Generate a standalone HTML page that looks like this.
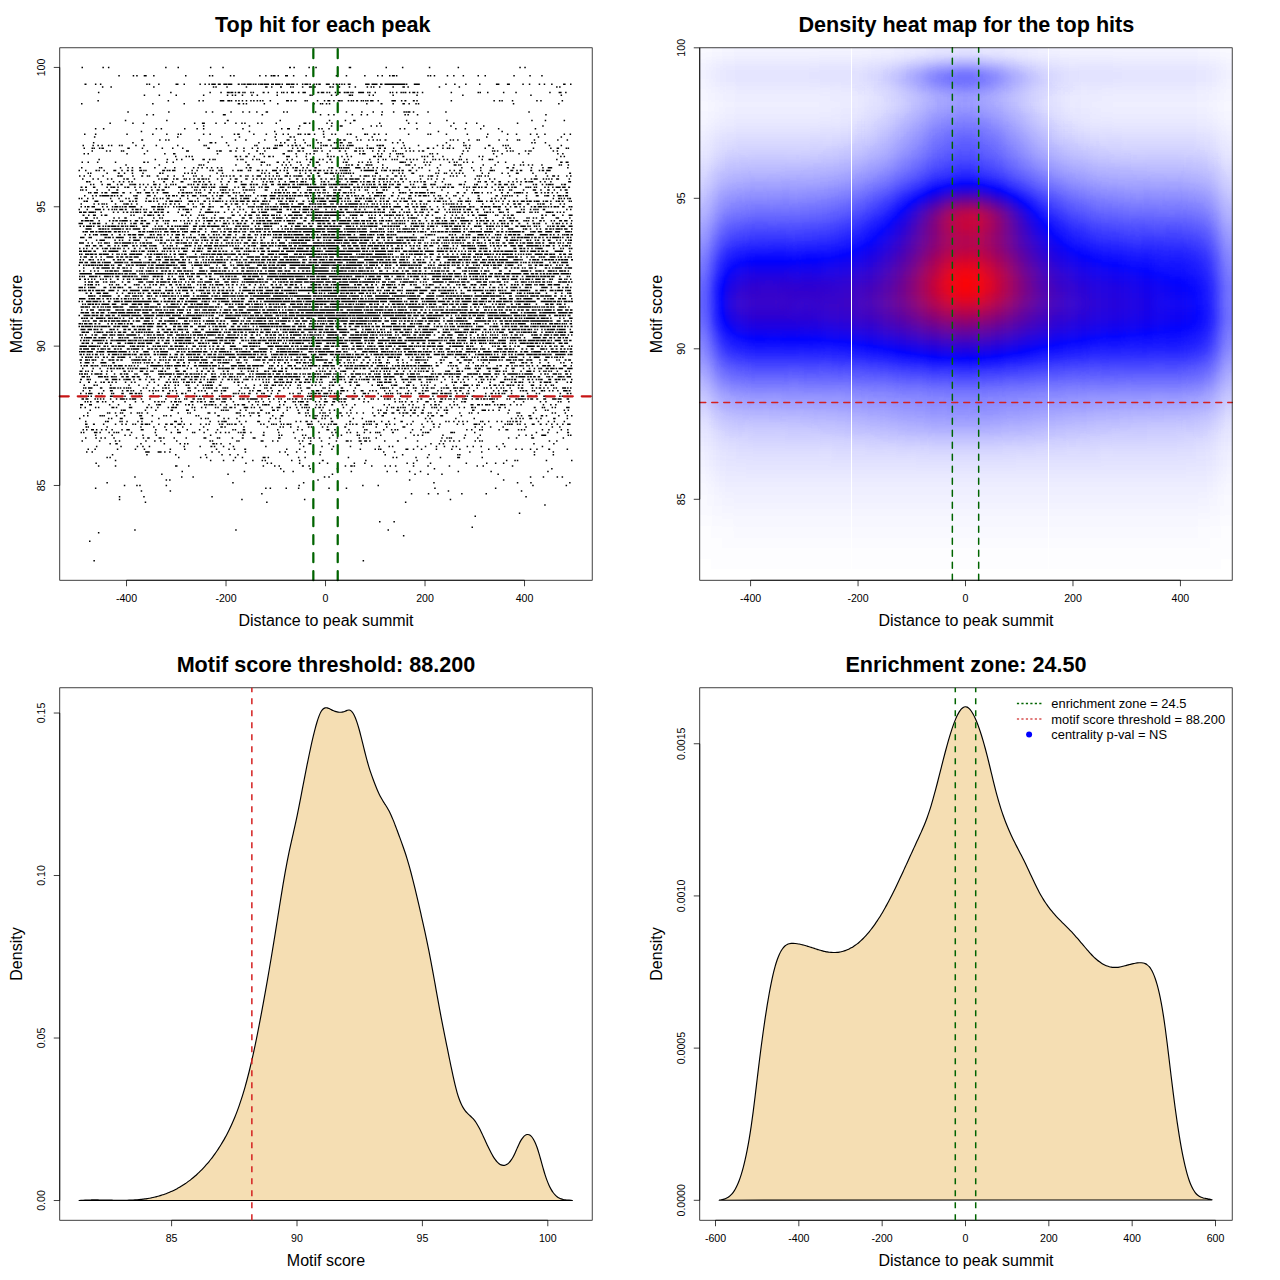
<!DOCTYPE html>
<html><head><meta charset="utf-8"><style>
html,body{margin:0;padding:0;background:#fff;width:1280px;height:1280px;overflow:hidden}
svg{display:block}
text{font-family:"Liberation Sans", sans-serif;fill:#000}
.tk{font-size:10.6px}
.lb{font-size:16px}
.tt{font-size:21.6px;font-weight:bold}
.lg{font-size:12.9px}
</style></head><body>
<svg width="1280" height="1280" viewBox="0 0 1280 1280">
<rect width="1280" height="1280" fill="#fff"/>
<defs><filter id="hm" filterUnits="userSpaceOnUse" x="639.76" y="-12.200000000000003" width="652.44" height="652.44" color-interpolation-filters="sRGB"><feGaussianBlur stdDeviation="6.0"/><feComponentTransfer><feFuncR type="table" tableValues="1 0 1"/><feFuncG type="table" tableValues="1 0 0"/><feFuncB type="table" tableValues="1 1 0"/><feFuncA type="identity"/></feComponentTransfer></filter>
<clipPath id="hc"><rect x="699.76" y="47.8" width="532.44" height="532.44"/></clipPath></defs><g clip-path="url(#hc)"><g filter="url(#hm)"><path fill="#000000" d="M667.8 558.9h42.6v10.9h-42.6zM1221.6 558.9h42.6v10.9h-42.6zM667.8 569.6h596.3v10.9h-596.3zM667.8 580.2h596.3v10.9h-596.3zM667.8 590.9h596.3v10.9h-596.3zM667.8 601.5h596.3v10.9h-596.3z"/><path fill="#010101" d="M667.8 527.0h42.6v10.9h-42.6zM1221.6 527.0h42.6v10.9h-42.6zM667.8 537.6h53.2v10.9h-53.2zM1210.9 537.6h53.2v10.9h-53.2zM667.8 548.3h596.3v10.9h-596.3zM710.4 558.9h511.1v10.9h-511.1z"/><path fill="#020202" d="M667.8 516.3h42.6v10.9h-42.6zM1221.6 516.3h42.6v10.9h-42.6zM710.4 527.0h21.3v10.9h-21.3zM1200.3 527.0h21.3v10.9h-21.3zM721.1 537.6h489.8v10.9h-489.8z"/><path fill="#030303" d="M667.8 15.9h42.6v10.9h-42.6zM1221.6 15.9h42.6v10.9h-42.6zM667.8 26.5h42.6v10.9h-42.6zM1221.6 26.5h42.6v10.9h-42.6zM667.8 37.2h42.6v10.9h-42.6zM1221.6 37.2h42.6v10.9h-42.6zM667.8 47.8h42.6v10.9h-42.6zM1221.6 47.8h42.6v10.9h-42.6zM667.8 495.0h42.6v10.9h-42.6zM1221.6 495.0h42.6v10.9h-42.6zM667.8 505.7h42.6v10.9h-42.6zM1221.6 505.7h42.6v10.9h-42.6zM710.4 516.3h21.3v10.9h-21.3zM1200.3 516.3h21.3v10.9h-21.3zM731.7 527.0h468.5v10.9h-468.5z"/><path fill="#040404" d="M710.4 15.9h10.6v10.9h-10.6zM1210.9 15.9h10.6v10.9h-10.6zM710.4 26.5h10.6v10.9h-10.6zM1210.9 26.5h10.6v10.9h-10.6zM710.4 37.2h10.6v10.9h-10.6zM1210.9 37.2h10.6v10.9h-10.6zM710.4 47.8h10.6v10.9h-10.6zM1210.9 47.8h10.6v10.9h-10.6zM667.8 101.0h42.6v10.9h-42.6zM1221.6 101.0h42.6v10.9h-42.6zM667.8 484.4h42.6v10.9h-42.6zM1221.6 484.4h42.6v10.9h-42.6zM710.4 505.7h10.6v10.9h-10.6zM1210.9 505.7h10.6v10.9h-10.6zM731.7 516.3h468.5v10.9h-468.5z"/><path fill="#050505" d="M721.1 15.9h10.6v10.9h-10.6zM1200.3 15.9h10.6v10.9h-10.6zM721.1 26.5h10.6v10.9h-10.6zM1200.3 26.5h10.6v10.9h-10.6zM721.1 37.2h10.6v10.9h-10.6zM1200.3 37.2h10.6v10.9h-10.6zM721.1 47.8h10.6v10.9h-10.6zM1200.3 47.8h10.6v10.9h-10.6zM667.8 90.4h42.6v10.9h-42.6zM1221.6 90.4h42.6v10.9h-42.6zM667.8 111.7h42.6v10.9h-42.6zM1221.6 111.7h42.6v10.9h-42.6zM667.8 473.8h42.6v10.9h-42.6zM1221.6 473.8h42.6v10.9h-42.6zM710.4 495.0h10.6v10.9h-10.6zM1210.9 495.0h10.6v10.9h-10.6zM721.1 505.7h489.8v10.9h-489.8z"/><path fill="#060606" d="M731.7 15.9h138.4v10.9h-138.4zM1061.8 15.9h138.4v10.9h-138.4zM731.7 26.5h138.4v10.9h-138.4zM1061.8 26.5h138.4v10.9h-138.4zM731.7 37.2h138.4v10.9h-138.4zM1061.8 37.2h138.4v10.9h-138.4zM731.7 47.8h138.4v10.9h-138.4zM1061.8 47.8h138.4v10.9h-138.4zM667.8 58.4h42.6v10.9h-42.6zM1221.6 58.4h42.6v10.9h-42.6zM667.8 79.7h42.6v10.9h-42.6zM1221.6 79.7h42.6v10.9h-42.6zM710.4 101.0h10.6v10.9h-10.6zM1210.9 101.0h10.6v10.9h-10.6zM667.8 463.1h42.6v10.9h-42.6zM1221.6 463.1h42.6v10.9h-42.6zM710.4 484.4h10.6v10.9h-10.6zM1210.9 484.4h10.6v10.9h-10.6zM721.1 495.0h10.6v10.9h-10.6zM1200.3 495.0h10.6v10.9h-10.6z"/><path fill="#070707" d="M870.1 15.9h21.3v10.9h-21.3zM1040.5 15.9h21.3v10.9h-21.3zM870.1 26.5h21.3v10.9h-21.3zM1040.5 26.5h21.3v10.9h-21.3zM870.1 37.2h21.3v10.9h-21.3zM1040.5 37.2h21.3v10.9h-21.3zM870.1 47.8h21.3v10.9h-21.3zM1040.5 47.8h21.3v10.9h-21.3zM667.8 69.1h42.6v10.9h-42.6zM1221.6 69.1h42.6v10.9h-42.6zM710.4 90.4h10.6v10.9h-10.6zM1210.9 90.4h10.6v10.9h-10.6zM721.1 101.0h10.6v10.9h-10.6zM1200.3 101.0h10.6v10.9h-10.6zM710.4 111.7h10.6v10.9h-10.6zM1210.9 111.7h10.6v10.9h-10.6zM667.8 122.3h42.6v10.9h-42.6zM1221.6 122.3h42.6v10.9h-42.6zM731.7 495.0h468.5v10.9h-468.5z"/><path fill="#080808" d="M891.4 15.9h10.6v10.9h-10.6zM1029.9 15.9h10.6v10.9h-10.6zM891.4 26.5h10.6v10.9h-10.6zM1029.9 26.5h10.6v10.9h-10.6zM891.4 37.2h10.6v10.9h-10.6zM1029.9 37.2h10.6v10.9h-10.6zM891.4 47.8h10.6v10.9h-10.6zM1029.9 47.8h10.6v10.9h-10.6zM721.1 90.4h10.6v10.9h-10.6zM1200.3 90.4h10.6v10.9h-10.6zM731.7 101.0h85.2v10.9h-85.2zM1115.1 101.0h85.2v10.9h-85.2zM667.8 452.5h42.6v10.9h-42.6zM1221.6 452.5h42.6v10.9h-42.6zM710.4 473.8h10.6v10.9h-10.6zM1210.9 473.8h10.6v10.9h-10.6zM721.1 484.4h489.8v10.9h-489.8z"/><path fill="#090909" d="M902.1 15.9h10.6v10.9h-10.6zM1019.2 15.9h10.6v10.9h-10.6zM902.1 26.5h10.6v10.9h-10.6zM1019.2 26.5h10.6v10.9h-10.6zM902.1 37.2h10.6v10.9h-10.6zM1019.2 37.2h10.6v10.9h-10.6zM902.1 47.8h10.6v10.9h-10.6zM1019.2 47.8h10.6v10.9h-10.6zM710.4 58.4h10.6v10.9h-10.6zM1210.9 58.4h10.6v10.9h-10.6zM710.4 79.7h10.6v10.9h-10.6zM1210.9 79.7h10.6v10.9h-10.6zM731.7 90.4h95.8v10.9h-95.8zM1104.4 90.4h95.8v10.9h-95.8zM816.9 101.0h21.3v10.9h-21.3zM1093.8 101.0h21.3v10.9h-21.3zM721.1 111.7h10.6v10.9h-10.6zM1200.3 111.7h10.6v10.9h-10.6zM667.8 133.0h42.6v10.9h-42.6zM1221.6 133.0h42.6v10.9h-42.6zM667.8 441.8h42.6v10.9h-42.6zM1221.6 441.8h42.6v10.9h-42.6z"/><path fill="#0a0a0a" d="M912.7 15.9h10.6v10.9h-10.6zM1008.6 15.9h10.6v10.9h-10.6zM912.7 26.5h10.6v10.9h-10.6zM1008.6 26.5h10.6v10.9h-10.6zM912.7 37.2h10.6v10.9h-10.6zM1008.6 37.2h10.6v10.9h-10.6zM912.7 47.8h10.6v10.9h-10.6zM1008.6 47.8h10.6v10.9h-10.6zM721.1 58.4h10.6v10.9h-10.6zM1200.3 58.4h10.6v10.9h-10.6zM827.5 90.4h21.3v10.9h-21.3zM1083.1 90.4h21.3v10.9h-21.3zM838.2 101.0h10.6v10.9h-10.6zM1083.1 101.0h10.6v10.9h-10.6zM731.7 111.7h95.8v10.9h-95.8zM1104.4 111.7h95.8v10.9h-95.8zM710.4 122.3h10.6v10.9h-10.6zM1210.9 122.3h10.6v10.9h-10.6zM710.4 463.1h10.6v10.9h-10.6zM1210.9 463.1h10.6v10.9h-10.6zM721.1 473.8h489.8v10.9h-489.8z"/><path fill="#0b0b0b" d="M923.4 15.9h10.6v10.9h-10.6zM987.3 15.9h21.3v10.9h-21.3zM923.4 26.5h10.6v10.9h-10.6zM987.3 26.5h21.3v10.9h-21.3zM923.4 37.2h10.6v10.9h-10.6zM987.3 37.2h21.3v10.9h-21.3zM923.4 47.8h10.6v10.9h-10.6zM987.3 47.8h21.3v10.9h-21.3zM731.7 58.4h85.2v10.9h-85.2zM1115.1 58.4h85.2v10.9h-85.2zM710.4 69.1h10.6v10.9h-10.6zM1210.9 69.1h10.6v10.9h-10.6zM721.1 79.7h10.6v10.9h-10.6zM1200.3 79.7h10.6v10.9h-10.6zM848.8 90.4h10.6v10.9h-10.6zM1072.5 90.4h10.6v10.9h-10.6zM848.8 101.0h10.6v10.9h-10.6zM1072.5 101.0h10.6v10.9h-10.6zM827.5 111.7h10.6v10.9h-10.6zM1093.8 111.7h10.6v10.9h-10.6zM667.8 143.6h42.6v10.9h-42.6zM1221.6 143.6h42.6v10.9h-42.6z"/><path fill="#0c0c0c" d="M934.0 15.9h21.3v10.9h-21.3zM976.6 15.9h10.6v10.9h-10.6zM934.0 26.5h21.3v10.9h-21.3zM976.6 26.5h10.6v10.9h-10.6zM934.0 37.2h21.3v10.9h-21.3zM976.6 37.2h10.6v10.9h-10.6zM934.0 47.8h21.3v10.9h-21.3zM976.6 47.8h10.6v10.9h-10.6zM816.9 58.4h42.6v10.9h-42.6zM1072.5 58.4h42.6v10.9h-42.6zM731.7 79.7h85.2v10.9h-85.2zM1115.1 79.7h85.2v10.9h-85.2zM1061.8 90.4h10.6v10.9h-10.6zM1061.8 101.0h10.6v10.9h-10.6zM838.2 111.7h10.6v10.9h-10.6zM1083.1 111.7h10.6v10.9h-10.6zM721.1 122.3h10.6v10.9h-10.6zM1200.3 122.3h10.6v10.9h-10.6zM667.8 431.2h42.6v10.9h-42.6zM1221.6 431.2h42.6v10.9h-42.6zM710.4 452.5h10.6v10.9h-10.6zM1210.9 452.5h10.6v10.9h-10.6zM721.1 463.1h21.3v10.9h-21.3zM1189.6 463.1h21.3v10.9h-21.3z"/><path fill="#0d0d0d" d="M955.3 15.9h21.3v10.9h-21.3zM955.3 26.5h21.3v10.9h-21.3zM955.3 37.2h21.3v10.9h-21.3zM955.3 47.8h21.3v10.9h-21.3zM859.5 58.4h10.6v10.9h-10.6zM1061.8 58.4h10.6v10.9h-10.6zM721.1 69.1h10.6v10.9h-10.6zM1200.3 69.1h10.6v10.9h-10.6zM816.9 79.7h21.3v10.9h-21.3zM1083.1 79.7h31.9v10.9h-31.9zM859.5 90.4h10.6v10.9h-10.6zM859.5 101.0h10.6v10.9h-10.6zM848.8 111.7h10.6v10.9h-10.6zM1072.5 111.7h10.6v10.9h-10.6zM731.7 122.3h85.2v10.9h-85.2zM1115.1 122.3h85.2v10.9h-85.2zM710.4 133.0h10.6v10.9h-10.6zM1210.9 133.0h10.6v10.9h-10.6zM742.4 463.1h447.2v10.9h-447.2z"/><path fill="#0e0e0e" d="M1051.2 58.4h10.6v10.9h-10.6zM731.7 69.1h74.5v10.9h-74.5zM1125.7 69.1h74.5v10.9h-74.5zM838.2 79.7h10.6v10.9h-10.6zM1072.5 79.7h10.6v10.9h-10.6zM816.9 122.3h21.3v10.9h-21.3zM1093.8 122.3h21.3v10.9h-21.3zM667.8 154.3h42.6v10.9h-42.6zM1221.6 154.3h42.6v10.9h-42.6zM667.8 420.5h42.6v10.9h-42.6zM1221.6 420.5h42.6v10.9h-42.6zM710.4 441.8h10.6v10.9h-10.6zM1210.9 441.8h10.6v10.9h-10.6zM721.1 452.5h10.6v10.9h-10.6zM1200.3 452.5h10.6v10.9h-10.6z"/><path fill="#0f0f0f" d="M870.1 58.4h10.6v10.9h-10.6zM806.2 69.1h42.6v10.9h-42.6zM1083.1 69.1h42.6v10.9h-42.6zM848.8 79.7h10.6v10.9h-10.6zM870.1 90.4h10.6v10.9h-10.6zM1051.2 90.4h10.6v10.9h-10.6zM870.1 101.0h10.6v10.9h-10.6zM1051.2 101.0h10.6v10.9h-10.6zM1061.8 111.7h10.6v10.9h-10.6zM838.2 122.3h10.6v10.9h-10.6zM1083.1 122.3h10.6v10.9h-10.6zM731.7 452.5h95.8v10.9h-95.8zM1104.4 452.5h95.8v10.9h-95.8z"/><path fill="#101010" d="M1040.5 58.4h10.6v10.9h-10.6zM848.8 69.1h10.6v10.9h-10.6zM1072.5 69.1h10.6v10.9h-10.6zM859.5 79.7h10.6v10.9h-10.6zM1061.8 79.7h10.6v10.9h-10.6zM859.5 111.7h10.6v10.9h-10.6zM721.1 133.0h10.6v10.9h-10.6zM1200.3 133.0h10.6v10.9h-10.6zM827.5 452.5h85.2v10.9h-85.2zM1019.2 452.5h85.2v10.9h-85.2z"/><path fill="#111111" d="M880.8 58.4h10.6v10.9h-10.6zM1061.8 69.1h10.6v10.9h-10.6zM848.8 122.3h10.6v10.9h-10.6zM1072.5 122.3h10.6v10.9h-10.6zM731.7 133.0h74.5v10.9h-74.5zM1125.7 133.0h74.5v10.9h-74.5zM710.4 143.6h10.6v10.9h-10.6zM1210.9 143.6h10.6v10.9h-10.6zM710.4 431.2h10.6v10.9h-10.6zM1210.9 431.2h10.6v10.9h-10.6zM721.1 441.8h10.6v10.9h-10.6zM1200.3 441.8h10.6v10.9h-10.6zM912.7 452.5h106.5v10.9h-106.5z"/><path fill="#121212" d="M1029.9 58.4h10.6v10.9h-10.6zM859.5 69.1h10.6v10.9h-10.6zM1051.2 79.7h10.6v10.9h-10.6zM880.8 90.4h10.6v10.9h-10.6zM1040.5 90.4h10.6v10.9h-10.6zM1040.5 101.0h10.6v10.9h-10.6zM1051.2 111.7h10.6v10.9h-10.6zM806.2 133.0h21.3v10.9h-21.3zM1104.4 133.0h21.3v10.9h-21.3zM667.8 164.9h42.6v10.9h-42.6zM1221.6 164.9h42.6v10.9h-42.6zM667.8 409.9h42.6v10.9h-42.6zM1221.6 409.9h42.6v10.9h-42.6zM731.7 441.8h21.3v10.9h-21.3zM1179.0 441.8h21.3v10.9h-21.3z"/><path fill="#131313" d="M891.4 58.4h10.6v10.9h-10.6zM870.1 79.7h10.6v10.9h-10.6zM880.8 101.0h10.6v10.9h-10.6zM870.1 111.7h10.6v10.9h-10.6zM1061.8 122.3h10.6v10.9h-10.6zM827.5 133.0h10.6v10.9h-10.6zM1093.8 133.0h10.6v10.9h-10.6zM753.0 441.8h74.5v10.9h-74.5zM1104.4 441.8h74.5v10.9h-74.5z"/><path fill="#141414" d="M1051.2 69.1h10.6v10.9h-10.6zM859.5 122.3h10.6v10.9h-10.6zM838.2 133.0h10.6v10.9h-10.6zM1083.1 133.0h10.6v10.9h-10.6zM721.1 143.6h10.6v10.9h-10.6zM1200.3 143.6h10.6v10.9h-10.6zM827.5 441.8h31.9v10.9h-31.9zM1072.5 441.8h31.9v10.9h-31.9z"/><path fill="#151515" d="M1019.2 58.4h10.6v10.9h-10.6zM870.1 69.1h10.6v10.9h-10.6zM1029.9 90.4h10.6v10.9h-10.6zM710.4 154.3h10.6v10.9h-10.6zM1210.9 154.3h10.6v10.9h-10.6zM710.4 420.5h10.6v10.9h-10.6zM1210.9 420.5h10.6v10.9h-10.6zM721.1 431.2h10.6v10.9h-10.6zM1200.3 431.2h10.6v10.9h-10.6zM859.5 441.8h31.9v10.9h-31.9zM1040.5 441.8h31.9v10.9h-31.9z"/><path fill="#161616" d="M1040.5 79.7h10.6v10.9h-10.6zM891.4 90.4h10.6v10.9h-10.6zM1040.5 111.7h10.6v10.9h-10.6zM848.8 133.0h10.6v10.9h-10.6zM1072.5 133.0h10.6v10.9h-10.6zM731.7 143.6h74.5v10.9h-74.5zM1125.7 143.6h74.5v10.9h-74.5zM667.8 175.6h42.6v10.9h-42.6zM1221.6 175.6h42.6v10.9h-42.6zM731.7 431.2h10.6v10.9h-10.6zM1189.6 431.2h10.6v10.9h-10.6zM891.4 441.8h31.9v10.9h-31.9zM1008.6 441.8h31.9v10.9h-31.9z"/><path fill="#171717" d="M902.1 58.4h10.6v10.9h-10.6zM1040.5 69.1h10.6v10.9h-10.6zM880.8 79.7h10.6v10.9h-10.6zM891.4 101.0h10.6v10.9h-10.6zM1029.9 101.0h10.6v10.9h-10.6zM880.8 111.7h10.6v10.9h-10.6zM870.1 122.3h10.6v10.9h-10.6zM1051.2 122.3h10.6v10.9h-10.6zM806.2 143.6h21.3v10.9h-21.3zM1104.4 143.6h21.3v10.9h-21.3zM667.8 399.2h42.6v10.9h-42.6zM1221.6 399.2h42.6v10.9h-42.6zM742.4 431.2h42.6v10.9h-42.6zM1147.0 431.2h42.6v10.9h-42.6zM923.4 441.8h85.2v10.9h-85.2z"/><path fill="#181818" d="M1061.8 133.0h10.6v10.9h-10.6zM827.5 143.6h10.6v10.9h-10.6zM1093.8 143.6h10.6v10.9h-10.6zM785.0 431.2h31.9v10.9h-31.9zM1115.1 431.2h31.9v10.9h-31.9z"/><path fill="#191919" d="M1008.6 58.4h10.6v10.9h-10.6zM880.8 69.1h10.6v10.9h-10.6zM859.5 133.0h10.6v10.9h-10.6zM816.9 431.2h21.3v10.9h-21.3zM1093.8 431.2h21.3v10.9h-21.3z"/><path fill="#1a1a1a" d="M1019.2 90.4h10.6v10.9h-10.6zM838.2 143.6h10.6v10.9h-10.6zM1083.1 143.6h10.6v10.9h-10.6zM721.1 154.3h10.6v10.9h-10.6zM1200.3 154.3h10.6v10.9h-10.6zM721.1 420.5h10.6v10.9h-10.6zM1200.3 420.5h10.6v10.9h-10.6zM838.2 431.2h10.6v10.9h-10.6zM1072.5 431.2h21.3v10.9h-21.3z"/><path fill="#1b1b1b" d="M912.7 58.4h10.6v10.9h-10.6zM1029.9 79.7h10.6v10.9h-10.6zM902.1 90.4h10.6v10.9h-10.6zM731.7 154.3h10.6v10.9h-10.6zM1189.6 154.3h10.6v10.9h-10.6zM710.4 164.9h10.6v10.9h-10.6zM1210.9 164.9h10.6v10.9h-10.6zM667.8 186.2h42.6v10.9h-42.6zM1221.6 186.2h42.6v10.9h-42.6zM710.4 409.9h10.6v10.9h-10.6zM1210.9 409.9h10.6v10.9h-10.6zM848.8 431.2h21.3v10.9h-21.3zM1061.8 431.2h10.6v10.9h-10.6z"/><path fill="#1c1c1c" d="M1029.9 69.1h10.6v10.9h-10.6zM902.1 101.0h10.6v10.9h-10.6zM1019.2 101.0h10.6v10.9h-10.6zM891.4 111.7h10.6v10.9h-10.6zM1029.9 111.7h10.6v10.9h-10.6zM880.8 122.3h10.6v10.9h-10.6zM1040.5 122.3h10.6v10.9h-10.6zM1051.2 133.0h10.6v10.9h-10.6zM848.8 143.6h10.6v10.9h-10.6zM1072.5 143.6h10.6v10.9h-10.6zM742.4 154.3h53.2v10.9h-53.2zM1136.4 154.3h53.2v10.9h-53.2zM731.7 420.5h21.3v10.9h-21.3zM1179.0 420.5h21.3v10.9h-21.3zM870.1 431.2h10.6v10.9h-10.6zM1051.2 431.2h10.6v10.9h-10.6z"/><path fill="#1d1d1d" d="M997.9 58.4h10.6v10.9h-10.6zM891.4 79.7h10.6v10.9h-10.6zM870.1 133.0h10.6v10.9h-10.6zM795.6 154.3h21.3v10.9h-21.3zM1115.1 154.3h21.3v10.9h-21.3zM667.8 388.6h42.6v10.9h-42.6zM1221.6 388.6h42.6v10.9h-42.6zM753.0 420.5h31.9v10.9h-31.9zM1147.0 420.5h31.9v10.9h-31.9zM880.8 431.2h10.6v10.9h-10.6zM1040.5 431.2h10.6v10.9h-10.6z"/><path fill="#1e1e1e" d="M816.9 154.3h10.6v10.9h-10.6zM1104.4 154.3h10.6v10.9h-10.6zM785.0 420.5h21.3v10.9h-21.3zM1125.7 420.5h21.3v10.9h-21.3zM891.4 431.2h10.6v10.9h-10.6zM1029.9 431.2h10.6v10.9h-10.6z"/><path fill="#1f1f1f" d="M923.4 58.4h10.6v10.9h-10.6zM859.5 143.6h10.6v10.9h-10.6zM1061.8 143.6h10.6v10.9h-10.6zM827.5 154.3h10.6v10.9h-10.6zM1093.8 154.3h10.6v10.9h-10.6zM806.2 420.5h21.3v10.9h-21.3zM1104.4 420.5h21.3v10.9h-21.3zM902.1 431.2h21.3v10.9h-21.3zM1008.6 431.2h21.3v10.9h-21.3z"/><path fill="#202020" d="M891.4 69.1h10.6v10.9h-10.6zM1008.6 90.4h10.6v10.9h-10.6zM721.1 164.9h10.6v10.9h-10.6zM1200.3 164.9h10.6v10.9h-10.6zM667.8 196.9h42.6v10.9h-42.6zM1221.6 196.9h42.6v10.9h-42.6zM827.5 420.5h10.6v10.9h-10.6zM1093.8 420.5h10.6v10.9h-10.6zM923.4 431.2h10.6v10.9h-10.6zM997.9 431.2h10.6v10.9h-10.6z"/><path fill="#212121" d="M987.3 58.4h10.6v10.9h-10.6zM912.7 90.4h10.6v10.9h-10.6zM1029.9 122.3h10.6v10.9h-10.6zM1040.5 133.0h10.6v10.9h-10.6zM838.2 154.3h10.6v10.9h-10.6zM1083.1 154.3h10.6v10.9h-10.6zM710.4 175.6h10.6v10.9h-10.6zM1210.9 175.6h10.6v10.9h-10.6zM721.1 409.9h10.6v10.9h-10.6zM1200.3 409.9h10.6v10.9h-10.6zM838.2 420.5h10.6v10.9h-10.6zM1083.1 420.5h10.6v10.9h-10.6zM934.0 431.2h63.9v10.9h-63.9z"/><path fill="#222222" d="M1019.2 79.7h10.6v10.9h-10.6zM912.7 101.0h10.6v10.9h-10.6zM1008.6 101.0h10.6v10.9h-10.6zM902.1 111.7h10.6v10.9h-10.6zM1019.2 111.7h10.6v10.9h-10.6zM891.4 122.3h10.6v10.9h-10.6zM880.8 133.0h10.6v10.9h-10.6zM731.7 164.9h10.6v10.9h-10.6zM1189.6 164.9h10.6v10.9h-10.6zM710.4 399.2h10.6v10.9h-10.6zM1210.9 399.2h10.6v10.9h-10.6zM848.8 420.5h10.6v10.9h-10.6zM1072.5 420.5h10.6v10.9h-10.6z"/><path fill="#232323" d="M934.0 58.4h10.6v10.9h-10.6zM870.1 143.6h10.6v10.9h-10.6zM1051.2 143.6h10.6v10.9h-10.6zM848.8 154.3h10.6v10.9h-10.6zM1072.5 154.3h10.6v10.9h-10.6zM742.4 164.9h42.6v10.9h-42.6zM1147.0 164.9h42.6v10.9h-42.6zM667.8 377.9h42.6v10.9h-42.6zM1221.6 377.9h42.6v10.9h-42.6zM731.7 409.9h10.6v10.9h-10.6zM1189.6 409.9h10.6v10.9h-10.6zM859.5 420.5h10.6v10.9h-10.6zM1061.8 420.5h10.6v10.9h-10.6z"/><path fill="#242424" d="M1019.2 69.1h10.6v10.9h-10.6zM785.0 164.9h21.3v10.9h-21.3zM1125.7 164.9h21.3v10.9h-21.3zM742.4 409.9h31.9v10.9h-31.9zM1157.7 409.9h31.9v10.9h-31.9zM1051.2 420.5h10.6v10.9h-10.6z"/><path fill="#252525" d="M976.6 58.4h10.6v10.9h-10.6zM902.1 79.7h10.6v10.9h-10.6zM997.9 90.4h10.6v10.9h-10.6zM806.2 164.9h10.6v10.9h-10.6zM1115.1 164.9h10.6v10.9h-10.6zM667.8 207.5h42.6v10.9h-42.6zM1221.6 207.5h42.6v10.9h-42.6zM774.3 409.9h31.9v10.9h-31.9zM1125.7 409.9h31.9v10.9h-31.9zM870.1 420.5h10.6v10.9h-10.6z"/><path fill="#262626" d="M944.7 58.4h10.6v10.9h-10.6zM923.4 90.4h10.6v10.9h-10.6zM859.5 154.3h10.6v10.9h-10.6zM1061.8 154.3h10.6v10.9h-10.6zM816.9 164.9h10.6v10.9h-10.6zM1104.4 164.9h10.6v10.9h-10.6zM806.2 409.9h10.6v10.9h-10.6zM1115.1 409.9h10.6v10.9h-10.6zM880.8 420.5h10.6v10.9h-10.6zM1040.5 420.5h10.6v10.9h-10.6z"/><path fill="#272727" d="M966.0 58.4h10.6v10.9h-10.6zM997.9 101.0h10.6v10.9h-10.6zM1029.9 133.0h10.6v10.9h-10.6zM827.5 164.9h10.6v10.9h-10.6zM1093.8 164.9h10.6v10.9h-10.6zM721.1 175.6h10.6v10.9h-10.6zM1200.3 175.6h10.6v10.9h-10.6zM1210.9 186.2h10.6v10.9h-10.6zM816.9 409.9h10.6v10.9h-10.6zM1104.4 409.9h10.6v10.9h-10.6zM891.4 420.5h10.6v10.9h-10.6zM1029.9 420.5h10.6v10.9h-10.6z"/><path fill="#282828" d="M955.3 58.4h10.6v10.9h-10.6zM902.1 69.1h10.6v10.9h-10.6zM923.4 101.0h10.6v10.9h-10.6zM1019.2 122.3h10.6v10.9h-10.6zM891.4 133.0h10.6v10.9h-10.6zM880.8 143.6h10.6v10.9h-10.6zM1040.5 143.6h10.6v10.9h-10.6zM710.4 186.2h10.6v10.9h-10.6zM827.5 409.9h10.6v10.9h-10.6zM1093.8 409.9h10.6v10.9h-10.6zM902.1 420.5h10.6v10.9h-10.6zM1019.2 420.5h10.6v10.9h-10.6z"/><path fill="#292929" d="M912.7 111.7h10.6v10.9h-10.6zM1008.6 111.7h10.6v10.9h-10.6zM902.1 122.3h10.6v10.9h-10.6zM838.2 164.9h10.6v10.9h-10.6zM1083.1 164.9h10.6v10.9h-10.6zM721.1 399.2h10.6v10.9h-10.6zM1200.3 399.2h10.6v10.9h-10.6zM838.2 409.9h10.6v10.9h-10.6zM1083.1 409.9h10.6v10.9h-10.6zM1008.6 420.5h10.6v10.9h-10.6z"/><path fill="#2a2a2a" d="M1008.6 79.7h10.6v10.9h-10.6zM987.3 90.4h10.6v10.9h-10.6zM1051.2 154.3h10.6v10.9h-10.6zM731.7 175.6h10.6v10.9h-10.6zM1189.6 175.6h10.6v10.9h-10.6zM1221.6 218.2h42.6v10.9h-42.6zM1221.6 367.3h42.6v10.9h-42.6zM848.8 409.9h10.6v10.9h-10.6zM1072.5 409.9h10.6v10.9h-10.6zM912.7 420.5h10.6v10.9h-10.6zM997.9 420.5h10.6v10.9h-10.6z"/><path fill="#2b2b2b" d="M934.0 90.4h10.6v10.9h-10.6zM870.1 154.3h10.6v10.9h-10.6zM742.4 175.6h31.9v10.9h-31.9zM1157.7 175.6h31.9v10.9h-31.9zM667.8 218.2h42.6v10.9h-42.6zM667.8 367.3h42.6v10.9h-42.6zM710.4 388.6h10.6v10.9h-10.6zM1210.9 388.6h10.6v10.9h-10.6zM859.5 409.9h10.6v10.9h-10.6zM1061.8 409.9h10.6v10.9h-10.6zM923.4 420.5h21.3v10.9h-21.3zM987.3 420.5h10.6v10.9h-10.6z"/><path fill="#2c2c2c" d="M1008.6 69.1h10.6v10.9h-10.6zM987.3 101.0h10.6v10.9h-10.6zM848.8 164.9h10.6v10.9h-10.6zM1072.5 164.9h10.6v10.9h-10.6zM774.3 175.6h31.9v10.9h-31.9zM1125.7 175.6h31.9v10.9h-31.9zM731.7 399.2h10.6v10.9h-10.6zM1189.6 399.2h10.6v10.9h-10.6zM870.1 409.9h10.6v10.9h-10.6zM1051.2 409.9h10.6v10.9h-10.6zM944.7 420.5h42.6v10.9h-42.6z"/><path fill="#2d2d2d" d="M912.7 79.7h10.6v10.9h-10.6zM934.0 101.0h10.6v10.9h-10.6zM806.2 175.6h10.6v10.9h-10.6zM1115.1 175.6h10.6v10.9h-10.6zM742.4 399.2h31.9v10.9h-31.9zM1157.7 399.2h31.9v10.9h-31.9z"/><path fill="#2e2e2e" d="M1029.9 143.6h10.6v10.9h-10.6zM1104.4 175.6h10.6v10.9h-10.6zM774.3 399.2h31.9v10.9h-31.9zM1125.7 399.2h31.9v10.9h-31.9zM880.8 409.9h10.6v10.9h-10.6zM1040.5 409.9h10.6v10.9h-10.6z"/><path fill="#2f2f2f" d="M944.7 90.4h10.6v10.9h-10.6zM976.6 90.4h10.6v10.9h-10.6zM997.9 111.7h10.6v10.9h-10.6zM902.1 133.0h10.6v10.9h-10.6zM1019.2 133.0h10.6v10.9h-10.6zM891.4 143.6h10.6v10.9h-10.6zM1061.8 164.9h10.6v10.9h-10.6zM816.9 175.6h10.6v10.9h-10.6zM710.4 196.9h10.6v10.9h-10.6zM1210.9 196.9h10.6v10.9h-10.6zM806.2 399.2h21.3v10.9h-21.3zM1104.4 399.2h21.3v10.9h-21.3zM891.4 409.9h10.6v10.9h-10.6zM1029.9 409.9h10.6v10.9h-10.6z"/><path fill="#303030" d="M976.6 101.0h10.6v10.9h-10.6zM923.4 111.7h10.6v10.9h-10.6zM1008.6 122.3h10.6v10.9h-10.6zM880.8 154.3h10.6v10.9h-10.6zM1040.5 154.3h10.6v10.9h-10.6zM859.5 164.9h10.6v10.9h-10.6zM827.5 175.6h10.6v10.9h-10.6zM1093.8 175.6h10.6v10.9h-10.6zM721.1 186.2h10.6v10.9h-10.6zM1200.3 186.2h10.6v10.9h-10.6zM1221.6 228.8h42.6v10.9h-42.6zM827.5 399.2h10.6v10.9h-10.6zM1093.8 399.2h10.6v10.9h-10.6z"/><path fill="#313131" d="M912.7 69.1h10.6v10.9h-10.6zM955.3 90.4h21.3v10.9h-21.3zM944.7 101.0h10.6v10.9h-10.6zM912.7 122.3h10.6v10.9h-10.6zM667.8 228.8h42.6v10.9h-42.6zM1221.6 356.6h42.6v10.9h-42.6zM838.2 399.2h10.6v10.9h-10.6zM1083.1 399.2h10.6v10.9h-10.6zM902.1 409.9h10.6v10.9h-10.6zM1019.2 409.9h10.6v10.9h-10.6z"/><path fill="#323232" d="M997.9 79.7h10.6v10.9h-10.6zM667.8 356.6h42.6v10.9h-42.6zM848.8 399.2h10.6v10.9h-10.6zM1072.5 399.2h10.6v10.9h-10.6zM912.7 409.9h10.6v10.9h-10.6zM1008.6 409.9h10.6v10.9h-10.6z"/><path fill="#333333" d="M955.3 101.0h21.3v10.9h-21.3zM838.2 175.6h10.6v10.9h-10.6zM1083.1 175.6h10.6v10.9h-10.6zM731.7 186.2h10.6v10.9h-10.6zM1189.6 186.2h10.6v10.9h-10.6zM721.1 388.6h10.6v10.9h-10.6zM1200.3 388.6h10.6v10.9h-10.6zM859.5 399.2h10.6v10.9h-10.6zM1061.8 399.2h10.6v10.9h-10.6zM923.4 409.9h10.6v10.9h-10.6zM997.9 409.9h10.6v10.9h-10.6z"/><path fill="#343434" d="M870.1 164.9h10.6v10.9h-10.6zM1051.2 164.9h10.6v10.9h-10.6zM742.4 186.2h31.9v10.9h-31.9zM1157.7 186.2h31.9v10.9h-31.9zM710.4 377.9h10.6v10.9h-10.6zM1210.9 377.9h10.6v10.9h-10.6zM870.1 399.2h10.6v10.9h-10.6zM1051.2 399.2h10.6v10.9h-10.6zM934.0 409.9h10.6v10.9h-10.6zM976.6 409.9h21.3v10.9h-21.3z"/><path fill="#353535" d="M987.3 111.7h10.6v10.9h-10.6zM774.3 186.2h21.3v10.9h-21.3zM1136.4 186.2h21.3v10.9h-21.3zM1221.6 239.5h42.6v10.9h-42.6zM880.8 399.2h10.6v10.9h-10.6zM1040.5 399.2h10.6v10.9h-10.6zM944.7 409.9h31.9v10.9h-31.9z"/><path fill="#363636" d="M997.9 69.1h10.6v10.9h-10.6zM923.4 79.7h10.6v10.9h-10.6zM934.0 111.7h10.6v10.9h-10.6zM902.1 143.6h10.6v10.9h-10.6zM1019.2 143.6h10.6v10.9h-10.6zM1029.9 154.3h10.6v10.9h-10.6zM848.8 175.6h10.6v10.9h-10.6zM1072.5 175.6h10.6v10.9h-10.6zM795.6 186.2h10.6v10.9h-10.6zM1125.7 186.2h10.6v10.9h-10.6zM891.4 399.2h10.6v10.9h-10.6zM1029.9 399.2h10.6v10.9h-10.6z"/><path fill="#373737" d="M912.7 133.0h10.6v10.9h-10.6zM1008.6 133.0h10.6v10.9h-10.6zM891.4 154.3h10.6v10.9h-10.6zM806.2 186.2h10.6v10.9h-10.6zM1115.1 186.2h10.6v10.9h-10.6zM710.4 207.5h10.6v10.9h-10.6zM1210.9 207.5h10.6v10.9h-10.6zM667.8 239.5h42.6v10.9h-42.6zM731.7 388.6h10.6v10.9h-10.6zM1189.6 388.6h10.6v10.9h-10.6zM902.1 399.2h10.6v10.9h-10.6zM1019.2 399.2h10.6v10.9h-10.6z"/><path fill="#383838" d="M923.4 122.3h10.6v10.9h-10.6zM997.9 122.3h10.6v10.9h-10.6zM816.9 186.2h10.6v10.9h-10.6zM1104.4 186.2h10.6v10.9h-10.6zM1221.6 346.0h42.6v10.9h-42.6zM742.4 388.6h31.9v10.9h-31.9zM1157.7 388.6h31.9v10.9h-31.9zM912.7 399.2h10.6v10.9h-10.6zM1008.6 399.2h10.6v10.9h-10.6z"/><path fill="#393939" d="M721.1 196.9h10.6v10.9h-10.6zM1200.3 196.9h10.6v10.9h-10.6zM667.8 346.0h42.6v10.9h-42.6zM774.3 388.6h42.6v10.9h-42.6zM1115.1 388.6h42.6v10.9h-42.6zM923.4 399.2h10.6v10.9h-10.6zM997.9 399.2h10.6v10.9h-10.6z"/><path fill="#3a3a3a" d="M944.7 111.7h10.6v10.9h-10.6zM976.6 111.7h10.6v10.9h-10.6zM880.8 164.9h10.6v10.9h-10.6zM1040.5 164.9h10.6v10.9h-10.6zM859.5 175.6h10.6v10.9h-10.6zM1061.8 175.6h10.6v10.9h-10.6zM1093.8 186.2h10.6v10.9h-10.6zM1221.6 250.1h42.6v10.9h-42.6zM816.9 388.6h21.3v10.9h-21.3zM1093.8 388.6h21.3v10.9h-21.3zM934.0 399.2h10.6v10.9h-10.6zM987.3 399.2h10.6v10.9h-10.6z"/><path fill="#3b3b3b" d="M923.4 69.1h10.6v10.9h-10.6zM987.3 79.7h10.6v10.9h-10.6zM827.5 186.2h10.6v10.9h-10.6zM838.2 388.6h21.3v10.9h-21.3zM1072.5 388.6h21.3v10.9h-21.3zM944.7 399.2h42.6v10.9h-42.6z"/><path fill="#3c3c3c" d="M859.5 388.6h10.6v10.9h-10.6zM1061.8 388.6h10.6v10.9h-10.6z"/><path fill="#3d3d3d" d="M955.3 111.7h21.3v10.9h-21.3zM838.2 186.2h10.6v10.9h-10.6zM1083.1 186.2h10.6v10.9h-10.6zM731.7 196.9h10.6v10.9h-10.6zM1189.6 196.9h10.6v10.9h-10.6zM667.8 250.1h42.6v10.9h-42.6zM870.1 388.6h10.6v10.9h-10.6zM1051.2 388.6h10.6v10.9h-10.6z"/><path fill="#3e3e3e" d="M934.0 79.7h10.6v10.9h-10.6zM987.3 122.3h10.6v10.9h-10.6zM912.7 143.6h10.6v10.9h-10.6zM1008.6 143.6h10.6v10.9h-10.6zM1019.2 154.3h10.6v10.9h-10.6zM742.4 196.9h31.9v10.9h-31.9zM1157.7 196.9h31.9v10.9h-31.9zM1221.6 260.8h42.6v10.9h-42.6zM1221.6 335.3h42.6v10.9h-42.6zM880.8 388.6h10.6v10.9h-10.6zM1040.5 388.6h10.6v10.9h-10.6z"/><path fill="#3f3f3f" d="M987.3 69.1h10.6v10.9h-10.6zM934.0 122.3h10.6v10.9h-10.6zM923.4 133.0h10.6v10.9h-10.6zM997.9 133.0h10.6v10.9h-10.6zM902.1 154.3h10.6v10.9h-10.6zM1051.2 175.6h10.6v10.9h-10.6zM774.3 196.9h21.3v10.9h-21.3zM1136.4 196.9h21.3v10.9h-21.3zM710.4 218.2h10.6v10.9h-10.6zM1210.9 218.2h10.6v10.9h-10.6zM667.8 335.3h42.6v10.9h-42.6zM710.4 367.3h10.6v10.9h-10.6zM1210.9 367.3h10.6v10.9h-10.6zM721.1 377.9h10.6v10.9h-10.6zM1200.3 377.9h10.6v10.9h-10.6zM891.4 388.6h10.6v10.9h-10.6zM1029.9 388.6h10.6v10.9h-10.6z"/><path fill="#404040" d="M870.1 175.6h10.6v10.9h-10.6zM795.6 196.9h10.6v10.9h-10.6zM1125.7 196.9h10.6v10.9h-10.6zM902.1 388.6h10.6v10.9h-10.6zM1019.2 388.6h10.6v10.9h-10.6z"/><path fill="#414141" d="M891.4 164.9h10.6v10.9h-10.6zM1029.9 164.9h10.6v10.9h-10.6zM848.8 186.2h10.6v10.9h-10.6zM1072.5 186.2h10.6v10.9h-10.6zM806.2 196.9h10.6v10.9h-10.6zM1115.1 196.9h10.6v10.9h-10.6zM912.7 388.6h10.6v10.9h-10.6zM1008.6 388.6h10.6v10.9h-10.6z"/><path fill="#424242" d="M976.6 79.7h10.6v10.9h-10.6zM721.1 207.5h10.6v10.9h-10.6zM1200.3 207.5h10.6v10.9h-10.6zM1221.6 271.4h42.6v10.9h-42.6zM1221.6 324.7h42.6v10.9h-42.6zM923.4 388.6h21.3v10.9h-21.3zM987.3 388.6h21.3v10.9h-21.3z"/><path fill="#434343" d="M816.9 196.9h10.6v10.9h-10.6zM1104.4 196.9h10.6v10.9h-10.6zM667.8 260.8h42.6v10.9h-42.6zM944.7 388.6h42.6v10.9h-42.6z"/><path fill="#444444" d="M934.0 69.1h10.6v10.9h-10.6zM944.7 79.7h10.6v10.9h-10.6zM944.7 122.3h10.6v10.9h-10.6zM976.6 122.3h10.6v10.9h-10.6zM1221.6 282.1h42.6v10.9h-42.6zM731.7 377.9h10.6v10.9h-10.6zM1189.6 377.9h10.6v10.9h-10.6z"/><path fill="#454545" d="M827.5 196.9h10.6v10.9h-10.6zM1093.8 196.9h10.6v10.9h-10.6zM1221.6 292.7h42.6v10.9h-42.6zM1221.6 314.0h42.6v10.9h-42.6zM667.8 324.7h42.6v10.9h-42.6zM742.4 377.9h53.2v10.9h-53.2zM1125.7 377.9h63.9v10.9h-63.9z"/><path fill="#464646" d="M966.0 79.7h10.6v10.9h-10.6zM966.0 122.3h10.6v10.9h-10.6zM934.0 133.0h10.6v10.9h-10.6zM987.3 133.0h10.6v10.9h-10.6zM923.4 143.6h10.6v10.9h-10.6zM997.9 143.6h10.6v10.9h-10.6zM912.7 154.3h10.6v10.9h-10.6zM1008.6 154.3h10.6v10.9h-10.6zM880.8 175.6h10.6v10.9h-10.6zM1040.5 175.6h10.6v10.9h-10.6zM859.5 186.2h10.6v10.9h-10.6zM1061.8 186.2h10.6v10.9h-10.6zM1221.6 303.4h42.6v10.9h-42.6zM795.6 377.9h42.6v10.9h-42.6zM1093.8 377.9h31.9v10.9h-31.9z"/><path fill="#474747" d="M976.6 69.1h10.6v10.9h-10.6zM955.3 79.7h10.6v10.9h-10.6zM955.3 122.3h10.6v10.9h-10.6zM731.7 207.5h10.6v10.9h-10.6zM1189.6 207.5h10.6v10.9h-10.6zM1210.9 228.8h10.6v10.9h-10.6zM838.2 377.9h10.6v10.9h-10.6zM1072.5 377.9h21.3v10.9h-21.3z"/><path fill="#484848" d="M1019.2 164.9h10.6v10.9h-10.6zM742.4 207.5h10.6v10.9h-10.6zM1168.3 207.5h21.3v10.9h-21.3zM710.4 228.8h10.6v10.9h-10.6zM667.8 271.4h42.6v10.9h-42.6zM848.8 377.9h21.3v10.9h-21.3zM1061.8 377.9h10.6v10.9h-10.6z"/><path fill="#494949" d="M902.1 164.9h10.6v10.9h-10.6zM838.2 196.9h10.6v10.9h-10.6zM1083.1 196.9h10.6v10.9h-10.6zM753.0 207.5h31.9v10.9h-31.9zM1147.0 207.5h21.3v10.9h-21.3zM1210.9 356.6h10.6v10.9h-10.6zM870.1 377.9h10.6v10.9h-10.6zM1051.2 377.9h10.6v10.9h-10.6z"/><path fill="#4a4a4a" d="M944.7 69.1h10.6v10.9h-10.6zM785.0 207.5h10.6v10.9h-10.6zM1136.4 207.5h10.6v10.9h-10.6zM667.8 314.0h42.6v10.9h-42.6zM710.4 356.6h10.6v10.9h-10.6zM880.8 377.9h10.6v10.9h-10.6zM1040.5 377.9h10.6v10.9h-10.6z"/><path fill="#4b4b4b" d="M976.6 133.0h10.6v10.9h-10.6zM795.6 207.5h10.6v10.9h-10.6zM1125.7 207.5h10.6v10.9h-10.6zM667.8 282.1h42.6v10.9h-42.6zM1029.9 377.9h10.6v10.9h-10.6z"/><path fill="#4c4c4c" d="M966.0 69.1h10.6v10.9h-10.6zM944.7 133.0h10.6v10.9h-10.6zM1051.2 186.2h10.6v10.9h-10.6zM806.2 207.5h10.6v10.9h-10.6zM1115.1 207.5h10.6v10.9h-10.6zM1200.3 218.2h10.6v10.9h-10.6zM721.1 367.3h10.6v10.9h-10.6zM1200.3 367.3h10.6v10.9h-10.6zM891.4 377.9h10.6v10.9h-10.6z"/><path fill="#4d4d4d" d="M955.3 69.1h10.6v10.9h-10.6zM934.0 143.6h10.6v10.9h-10.6zM987.3 143.6h10.6v10.9h-10.6zM870.1 186.2h10.6v10.9h-10.6zM848.8 196.9h10.6v10.9h-10.6zM1072.5 196.9h10.6v10.9h-10.6zM721.1 218.2h10.6v10.9h-10.6zM667.8 292.7h42.6v10.9h-42.6zM667.8 303.4h42.6v10.9h-42.6zM902.1 377.9h10.6v10.9h-10.6zM1019.2 377.9h10.6v10.9h-10.6z"/><path fill="#4e4e4e" d="M955.3 133.0h21.3v10.9h-21.3zM923.4 154.3h10.6v10.9h-10.6zM997.9 154.3h10.6v10.9h-10.6zM891.4 175.6h10.6v10.9h-10.6zM1029.9 175.6h10.6v10.9h-10.6zM816.9 207.5h10.6v10.9h-10.6zM1104.4 207.5h10.6v10.9h-10.6zM912.7 377.9h10.6v10.9h-10.6zM1008.6 377.9h10.6v10.9h-10.6z"/><path fill="#4f4f4f" d="M1210.9 239.5h10.6v10.9h-10.6zM923.4 377.9h10.6v10.9h-10.6zM997.9 377.9h10.6v10.9h-10.6z"/><path fill="#505050" d="M1008.6 164.9h10.6v10.9h-10.6zM1093.8 207.5h10.6v10.9h-10.6zM934.0 377.9h10.6v10.9h-10.6zM987.3 377.9h10.6v10.9h-10.6z"/><path fill="#515151" d="M912.7 164.9h10.6v10.9h-10.6zM827.5 207.5h10.6v10.9h-10.6zM1189.6 218.2h10.6v10.9h-10.6zM710.4 239.5h10.6v10.9h-10.6zM731.7 367.3h10.6v10.9h-10.6zM1189.6 367.3h10.6v10.9h-10.6zM944.7 377.9h42.6v10.9h-42.6z"/><path fill="#525252" d="M944.7 143.6h10.6v10.9h-10.6zM976.6 143.6h10.6v10.9h-10.6zM731.7 218.2h10.6v10.9h-10.6zM1179.0 367.3h10.6v10.9h-10.6z"/><path fill="#535353" d="M859.5 196.9h10.6v10.9h-10.6zM1061.8 196.9h10.6v10.9h-10.6zM1157.7 218.2h31.9v10.9h-31.9zM1210.9 346.0h10.6v10.9h-10.6zM742.4 367.3h53.2v10.9h-53.2zM1115.1 367.3h63.9v10.9h-63.9z"/><path fill="#545454" d="M987.3 154.3h10.6v10.9h-10.6zM880.8 186.2h10.6v10.9h-10.6zM1040.5 186.2h10.6v10.9h-10.6zM838.2 207.5h10.6v10.9h-10.6zM1083.1 207.5h10.6v10.9h-10.6zM742.4 218.2h31.9v10.9h-31.9zM1147.0 218.2h10.6v10.9h-10.6zM710.4 346.0h10.6v10.9h-10.6zM795.6 367.3h31.9v10.9h-31.9zM1093.8 367.3h21.3v10.9h-21.3z"/><path fill="#555555" d="M955.3 143.6h21.3v10.9h-21.3zM934.0 154.3h10.6v10.9h-10.6zM774.3 218.2h21.3v10.9h-21.3zM1125.7 218.2h21.3v10.9h-21.3zM827.5 367.3h21.3v10.9h-21.3zM1083.1 367.3h10.6v10.9h-10.6z"/><path fill="#565656" d="M902.1 175.6h10.6v10.9h-10.6zM1019.2 175.6h10.6v10.9h-10.6zM795.6 218.2h10.6v10.9h-10.6zM1200.3 228.8h10.6v10.9h-10.6zM1210.9 250.1h10.6v10.9h-10.6zM848.8 367.3h10.6v10.9h-10.6zM1072.5 367.3h10.6v10.9h-10.6z"/><path fill="#575757" d="M806.2 218.2h10.6v10.9h-10.6zM1115.1 218.2h10.6v10.9h-10.6zM721.1 228.8h10.6v10.9h-10.6zM859.5 367.3h10.6v10.9h-10.6zM1061.8 367.3h10.6v10.9h-10.6z"/><path fill="#585858" d="M997.9 164.9h10.6v10.9h-10.6zM1200.3 356.6h10.6v10.9h-10.6zM1051.2 367.3h10.6v10.9h-10.6z"/><path fill="#595959" d="M923.4 164.9h10.6v10.9h-10.6zM848.8 207.5h10.6v10.9h-10.6zM1072.5 207.5h10.6v10.9h-10.6zM816.9 218.2h10.6v10.9h-10.6zM1104.4 218.2h10.6v10.9h-10.6zM721.1 356.6h10.6v10.9h-10.6zM870.1 367.3h10.6v10.9h-10.6z"/><path fill="#5a5a5a" d="M944.7 154.3h10.6v10.9h-10.6zM976.6 154.3h10.6v10.9h-10.6zM870.1 196.9h10.6v10.9h-10.6zM1051.2 196.9h10.6v10.9h-10.6zM880.8 367.3h10.6v10.9h-10.6zM1040.5 367.3h10.6v10.9h-10.6z"/><path fill="#5b5b5b" d="M710.4 250.1h10.6v10.9h-10.6zM1210.9 335.3h10.6v10.9h-10.6zM1029.9 367.3h10.6v10.9h-10.6z"/><path fill="#5c5c5c" d="M966.0 154.3h10.6v10.9h-10.6zM827.5 218.2h10.6v10.9h-10.6zM1093.8 218.2h10.6v10.9h-10.6zM1189.6 228.8h10.6v10.9h-10.6zM1210.9 260.8h10.6v10.9h-10.6zM891.4 367.3h10.6v10.9h-10.6z"/><path fill="#5d5d5d" d="M955.3 154.3h10.6v10.9h-10.6zM891.4 186.2h10.6v10.9h-10.6zM1029.9 186.2h10.6v10.9h-10.6zM1179.0 228.8h10.6v10.9h-10.6zM1019.2 367.3h10.6v10.9h-10.6z"/><path fill="#5e5e5e" d="M731.7 228.8h10.6v10.9h-10.6zM1157.7 228.8h21.3v10.9h-21.3zM710.4 335.3h10.6v10.9h-10.6zM1189.6 356.6h10.6v10.9h-10.6zM902.1 367.3h10.6v10.9h-10.6z"/><path fill="#5f5f5f" d="M934.0 164.9h10.6v10.9h-10.6zM987.3 164.9h10.6v10.9h-10.6zM912.7 175.6h10.6v10.9h-10.6zM1008.6 175.6h10.6v10.9h-10.6zM859.5 207.5h10.6v10.9h-10.6zM1061.8 207.5h10.6v10.9h-10.6zM1083.1 218.2h10.6v10.9h-10.6zM742.4 228.8h10.6v10.9h-10.6zM1136.4 228.8h21.3v10.9h-21.3zM1200.3 239.5h10.6v10.9h-10.6zM731.7 356.6h10.6v10.9h-10.6zM912.7 367.3h10.6v10.9h-10.6zM1008.6 367.3h10.6v10.9h-10.6z"/><path fill="#606060" d="M838.2 218.2h10.6v10.9h-10.6zM753.0 228.8h31.9v10.9h-31.9zM1125.7 228.8h10.6v10.9h-10.6zM1210.9 271.4h10.6v10.9h-10.6zM1157.7 356.6h31.9v10.9h-31.9z"/><path fill="#616161" d="M785.0 228.8h10.6v10.9h-10.6zM1210.9 324.7h10.6v10.9h-10.6zM742.4 356.6h10.6v10.9h-10.6zM1115.1 356.6h42.6v10.9h-42.6zM923.4 367.3h10.6v10.9h-10.6zM997.9 367.3h10.6v10.9h-10.6z"/><path fill="#626262" d="M795.6 228.8h10.6v10.9h-10.6zM1115.1 228.8h10.6v10.9h-10.6zM753.0 356.6h63.9v10.9h-63.9zM1093.8 356.6h21.3v10.9h-21.3zM934.0 367.3h10.6v10.9h-10.6zM987.3 367.3h10.6v10.9h-10.6z"/><path fill="#636363" d="M880.8 196.9h10.6v10.9h-10.6zM1040.5 196.9h10.6v10.9h-10.6zM806.2 228.8h10.6v10.9h-10.6zM721.1 239.5h10.6v10.9h-10.6zM1210.9 282.1h10.6v10.9h-10.6zM816.9 356.6h10.6v10.9h-10.6zM1083.1 356.6h10.6v10.9h-10.6zM944.7 367.3h10.6v10.9h-10.6zM976.6 367.3h10.6v10.9h-10.6z"/><path fill="#646464" d="M944.7 164.9h10.6v10.9h-10.6zM976.6 164.9h10.6v10.9h-10.6zM1072.5 218.2h10.6v10.9h-10.6zM1104.4 228.8h10.6v10.9h-10.6zM710.4 260.8h10.6v10.9h-10.6zM1200.3 346.0h10.6v10.9h-10.6zM827.5 356.6h21.3v10.9h-21.3zM955.3 367.3h21.3v10.9h-21.3z"/><path fill="#656565" d="M848.8 218.2h10.6v10.9h-10.6zM816.9 228.8h10.6v10.9h-10.6zM1210.9 292.7h10.6v10.9h-10.6zM1210.9 314.0h10.6v10.9h-10.6zM1072.5 356.6h10.6v10.9h-10.6z"/><path fill="#666666" d="M1093.8 228.8h10.6v10.9h-10.6zM1189.6 239.5h10.6v10.9h-10.6zM1210.9 303.4h10.6v10.9h-10.6zM721.1 346.0h10.6v10.9h-10.6zM848.8 356.6h10.6v10.9h-10.6zM1061.8 356.6h10.6v10.9h-10.6z"/><path fill="#676767" d="M955.3 164.9h21.3v10.9h-21.3zM902.1 186.2h10.6v10.9h-10.6zM870.1 207.5h10.6v10.9h-10.6zM1051.2 207.5h10.6v10.9h-10.6zM827.5 228.8h10.6v10.9h-10.6zM1200.3 250.1h10.6v10.9h-10.6zM710.4 324.7h10.6v10.9h-10.6zM859.5 356.6h10.6v10.9h-10.6z"/><path fill="#686868" d="M923.4 175.6h10.6v10.9h-10.6zM997.9 175.6h10.6v10.9h-10.6zM1019.2 186.2h10.6v10.9h-10.6zM1168.3 239.5h21.3v10.9h-21.3zM1051.2 356.6h10.6v10.9h-10.6z"/><path fill="#696969" d="M1147.0 239.5h21.3v10.9h-21.3zM870.1 356.6h10.6v10.9h-10.6z"/><path fill="#6a6a6a" d="M1083.1 228.8h10.6v10.9h-10.6zM731.7 239.5h10.6v10.9h-10.6zM1136.4 239.5h10.6v10.9h-10.6zM1040.5 356.6h10.6v10.9h-10.6z"/><path fill="#6b6b6b" d="M859.5 218.2h10.6v10.9h-10.6zM1061.8 218.2h10.6v10.9h-10.6zM838.2 228.8h10.6v10.9h-10.6zM1125.7 239.5h10.6v10.9h-10.6zM710.4 271.4h10.6v10.9h-10.6zM1189.6 346.0h10.6v10.9h-10.6zM880.8 356.6h10.6v10.9h-10.6z"/><path fill="#6c6c6c" d="M742.4 239.5h21.3v10.9h-21.3zM1029.9 356.6h10.6v10.9h-10.6z"/><path fill="#6d6d6d" d="M891.4 196.9h10.6v10.9h-10.6zM763.7 239.5h31.9v10.9h-31.9zM1115.1 239.5h10.6v10.9h-10.6zM731.7 346.0h10.6v10.9h-10.6zM1147.0 346.0h42.6v10.9h-42.6z"/><path fill="#6e6e6e" d="M795.6 239.5h10.6v10.9h-10.6zM1104.4 239.5h10.6v10.9h-10.6zM721.1 250.1h10.6v10.9h-10.6zM1189.6 250.1h10.6v10.9h-10.6zM1200.3 260.8h10.6v10.9h-10.6zM710.4 314.0h10.6v10.9h-10.6zM1200.3 335.3h10.6v10.9h-10.6zM1125.7 346.0h21.3v10.9h-21.3zM891.4 356.6h10.6v10.9h-10.6z"/><path fill="#6f6f6f" d="M934.0 175.6h10.6v10.9h-10.6zM987.3 175.6h10.6v10.9h-10.6zM1029.9 196.9h10.6v10.9h-10.6zM848.8 228.8h10.6v10.9h-10.6zM1072.5 228.8h10.6v10.9h-10.6zM806.2 239.5h10.6v10.9h-10.6zM742.4 346.0h10.6v10.9h-10.6zM1104.4 346.0h21.3v10.9h-21.3zM1019.2 356.6h10.6v10.9h-10.6z"/><path fill="#707070" d="M816.9 239.5h10.6v10.9h-10.6zM753.0 346.0h53.2v10.9h-53.2zM1093.8 346.0h10.6v10.9h-10.6zM902.1 356.6h10.6v10.9h-10.6z"/><path fill="#717171" d="M880.8 207.5h10.6v10.9h-10.6zM1093.8 239.5h10.6v10.9h-10.6zM1168.3 250.1h21.3v10.9h-21.3zM710.4 282.1h10.6v10.9h-10.6zM806.2 346.0h21.3v10.9h-21.3zM1083.1 346.0h10.6v10.9h-10.6zM1008.6 356.6h10.6v10.9h-10.6z"/><path fill="#727272" d="M912.7 186.2h10.6v10.9h-10.6zM1040.5 207.5h10.6v10.9h-10.6zM827.5 239.5h10.6v10.9h-10.6zM1157.7 250.1h10.6v10.9h-10.6zM710.4 303.4h10.6v10.9h-10.6zM721.1 335.3h10.6v10.9h-10.6zM827.5 346.0h10.6v10.9h-10.6z"/><path fill="#737373" d="M1008.6 186.2h10.6v10.9h-10.6zM870.1 218.2h10.6v10.9h-10.6zM1051.2 218.2h10.6v10.9h-10.6zM1147.0 250.1h10.6v10.9h-10.6zM1200.3 271.4h10.6v10.9h-10.6zM710.4 292.7h10.6v10.9h-10.6zM838.2 346.0h10.6v10.9h-10.6zM1072.5 346.0h10.6v10.9h-10.6zM912.7 356.6h10.6v10.9h-10.6z"/><path fill="#747474" d="M1083.1 239.5h10.6v10.9h-10.6zM1136.4 250.1h10.6v10.9h-10.6zM997.9 356.6h10.6v10.9h-10.6z"/><path fill="#757575" d="M944.7 175.6h10.6v10.9h-10.6zM976.6 175.6h10.6v10.9h-10.6zM859.5 228.8h10.6v10.9h-10.6zM1061.8 228.8h10.6v10.9h-10.6zM838.2 239.5h10.6v10.9h-10.6zM1125.7 250.1h10.6v10.9h-10.6zM1189.6 260.8h10.6v10.9h-10.6zM1200.3 324.7h10.6v10.9h-10.6zM1189.6 335.3h10.6v10.9h-10.6zM848.8 346.0h10.6v10.9h-10.6zM1061.8 346.0h10.6v10.9h-10.6zM923.4 356.6h10.6v10.9h-10.6z"/><path fill="#767676" d="M731.7 250.1h10.6v10.9h-10.6zM1200.3 282.1h10.6v10.9h-10.6zM987.3 356.6h10.6v10.9h-10.6z"/><path fill="#777777" d="M1115.1 250.1h10.6v10.9h-10.6zM1179.0 335.3h10.6v10.9h-10.6zM859.5 346.0h10.6v10.9h-10.6zM1051.2 346.0h10.6v10.9h-10.6zM934.0 356.6h10.6v10.9h-10.6z"/><path fill="#787878" d="M955.3 175.6h21.3v10.9h-21.3zM1072.5 239.5h10.6v10.9h-10.6zM742.4 250.1h10.6v10.9h-10.6zM1104.4 250.1h10.6v10.9h-10.6zM1179.0 260.8h10.6v10.9h-10.6zM1157.7 335.3h21.3v10.9h-21.3zM944.7 356.6h10.6v10.9h-10.6zM966.0 356.6h21.3v10.9h-21.3z"/><path fill="#797979" d="M753.0 250.1h42.6v10.9h-42.6zM721.1 260.8h10.6v10.9h-10.6zM1168.3 260.8h10.6v10.9h-10.6zM1200.3 292.7h10.6v10.9h-10.6zM1200.3 314.0h10.6v10.9h-10.6zM1136.4 335.3h21.3v10.9h-21.3zM870.1 346.0h10.6v10.9h-10.6zM1040.5 346.0h10.6v10.9h-10.6zM955.3 356.6h10.6v10.9h-10.6z"/><path fill="#7a7a7a" d="M902.1 196.9h10.6v10.9h-10.6zM848.8 239.5h10.6v10.9h-10.6zM795.6 250.1h21.3v10.9h-21.3zM1157.7 260.8h10.6v10.9h-10.6zM1189.6 271.4h10.6v10.9h-10.6zM1200.3 303.4h10.6v10.9h-10.6zM731.7 335.3h10.6v10.9h-10.6zM1125.7 335.3h10.6v10.9h-10.6z"/><path fill="#7b7b7b" d="M1093.8 250.1h10.6v10.9h-10.6zM1147.0 260.8h10.6v10.9h-10.6zM1104.4 335.3h21.3v10.9h-21.3z"/><path fill="#7c7c7c" d="M891.4 207.5h10.6v10.9h-10.6zM880.8 218.2h10.6v10.9h-10.6zM1051.2 228.8h10.6v10.9h-10.6zM816.9 250.1h10.6v10.9h-10.6zM1093.8 335.3h10.6v10.9h-10.6zM880.8 346.0h10.6v10.9h-10.6zM1029.9 346.0h10.6v10.9h-10.6z"/><path fill="#7d7d7d" d="M923.4 186.2h10.6v10.9h-10.6zM1019.2 196.9h10.6v10.9h-10.6zM1040.5 218.2h10.6v10.9h-10.6zM870.1 228.8h10.6v10.9h-10.6zM827.5 250.1h10.6v10.9h-10.6zM1136.4 260.8h10.6v10.9h-10.6zM1179.0 271.4h10.6v10.9h-10.6zM721.1 324.7h10.6v10.9h-10.6zM1189.6 324.7h10.6v10.9h-10.6zM742.4 335.3h31.9v10.9h-31.9z"/><path fill="#7e7e7e" d="M1061.8 239.5h10.6v10.9h-10.6zM1083.1 250.1h10.6v10.9h-10.6zM1125.7 260.8h10.6v10.9h-10.6zM1168.3 271.4h10.6v10.9h-10.6zM1189.6 282.1h10.6v10.9h-10.6zM774.3 335.3h42.6v10.9h-42.6zM1083.1 335.3h10.6v10.9h-10.6z"/><path fill="#7f7f7f" d="M997.9 186.2h10.6v10.9h-10.6zM1029.9 207.5h10.6v10.9h-10.6zM859.5 239.5h10.6v10.9h-10.6zM1179.0 324.7h10.6v10.9h-10.6zM816.9 335.3h10.6v10.9h-10.6zM891.4 346.0h10.6v10.9h-10.6z"/><path fill="#808080" d="M838.2 250.1h10.6v10.9h-10.6zM1115.1 260.8h10.6v10.9h-10.6zM1157.7 271.4h10.6v10.9h-10.6zM1168.3 324.7h10.6v10.9h-10.6zM827.5 335.3h10.6v10.9h-10.6zM1072.5 335.3h10.6v10.9h-10.6zM1019.2 346.0h10.6v10.9h-10.6z"/><path fill="#818181" d="M1072.5 250.1h10.6v10.9h-10.6zM1104.4 260.8h10.6v10.9h-10.6zM1179.0 282.1h10.6v10.9h-10.6zM1189.6 292.7h10.6v10.9h-10.6zM1189.6 314.0h10.6v10.9h-10.6zM1157.7 324.7h10.6v10.9h-10.6zM838.2 335.3h10.6v10.9h-10.6z"/><path fill="#828282" d="M731.7 260.8h10.6v10.9h-10.6zM721.1 271.4h10.6v10.9h-10.6zM1147.0 271.4h10.6v10.9h-10.6zM1168.3 282.1h10.6v10.9h-10.6zM1189.6 303.4h10.6v10.9h-10.6zM1147.0 324.7h10.6v10.9h-10.6zM1061.8 335.3h10.6v10.9h-10.6zM902.1 346.0h10.6v10.9h-10.6z"/><path fill="#838383" d="M848.8 250.1h10.6v10.9h-10.6zM1093.8 260.8h10.6v10.9h-10.6zM1179.0 292.7h10.6v10.9h-10.6zM1136.4 324.7h10.6v10.9h-10.6zM848.8 335.3h10.6v10.9h-10.6zM1008.6 346.0h10.6v10.9h-10.6z"/><path fill="#848484" d="M1136.4 271.4h10.6v10.9h-10.6zM1179.0 314.0h10.6v10.9h-10.6zM1125.7 324.7h10.6v10.9h-10.6zM1051.2 335.3h10.6v10.9h-10.6z"/><path fill="#858585" d="M880.8 228.8h10.6v10.9h-10.6zM870.1 239.5h10.6v10.9h-10.6zM1051.2 239.5h10.6v10.9h-10.6zM742.4 260.8h63.9v10.9h-63.9zM1157.7 282.1h10.6v10.9h-10.6zM1168.3 292.7h10.6v10.9h-10.6zM1179.0 303.4h10.6v10.9h-10.6zM1168.3 314.0h10.6v10.9h-10.6zM1115.1 324.7h10.6v10.9h-10.6zM859.5 335.3h10.6v10.9h-10.6zM912.7 346.0h10.6v10.9h-10.6z"/><path fill="#868686" d="M1040.5 228.8h10.6v10.9h-10.6zM1061.8 250.1h10.6v10.9h-10.6zM806.2 260.8h21.3v10.9h-21.3zM1083.1 260.8h10.6v10.9h-10.6zM1125.7 271.4h10.6v10.9h-10.6zM1168.3 303.4h10.6v10.9h-10.6zM721.1 314.0h10.6v10.9h-10.6zM731.7 324.7h10.6v10.9h-10.6zM1104.4 324.7h10.6v10.9h-10.6zM997.9 346.0h10.6v10.9h-10.6z"/><path fill="#878787" d="M934.0 186.2h10.6v10.9h-10.6zM1115.1 271.4h10.6v10.9h-10.6zM1147.0 282.1h10.6v10.9h-10.6zM1157.7 292.7h10.6v10.9h-10.6zM1157.7 314.0h10.6v10.9h-10.6zM1093.8 324.7h10.6v10.9h-10.6z"/><path fill="#888888" d="M912.7 196.9h10.6v10.9h-10.6zM891.4 218.2h10.6v10.9h-10.6zM859.5 250.1h10.6v10.9h-10.6zM827.5 260.8h10.6v10.9h-10.6zM1157.7 303.4h10.6v10.9h-10.6zM1147.0 314.0h10.6v10.9h-10.6zM870.1 335.3h10.6v10.9h-10.6zM1040.5 335.3h10.6v10.9h-10.6zM923.4 346.0h10.6v10.9h-10.6z"/><path fill="#898989" d="M987.3 186.2h10.6v10.9h-10.6zM1104.4 271.4h10.6v10.9h-10.6zM721.1 282.1h10.6v10.9h-10.6zM1136.4 282.1h10.6v10.9h-10.6zM742.4 324.7h10.6v10.9h-10.6zM1083.1 324.7h10.6v10.9h-10.6zM987.3 346.0h10.6v10.9h-10.6z"/><path fill="#8a8a8a" d="M902.1 207.5h10.6v10.9h-10.6zM1029.9 218.2h10.6v10.9h-10.6zM838.2 260.8h10.6v10.9h-10.6zM1072.5 260.8h10.6v10.9h-10.6zM1147.0 292.7h10.6v10.9h-10.6zM1147.0 303.4h10.6v10.9h-10.6zM1136.4 314.0h10.6v10.9h-10.6zM753.0 324.7h53.2v10.9h-53.2zM1072.5 324.7h10.6v10.9h-10.6z"/><path fill="#8b8b8b" d="M1093.8 271.4h10.6v10.9h-10.6zM1125.7 282.1h10.6v10.9h-10.6zM721.1 303.4h10.6v10.9h-10.6zM1125.7 314.0h10.6v10.9h-10.6zM806.2 324.7h21.3v10.9h-21.3zM880.8 335.3h10.6v10.9h-10.6zM1029.9 335.3h10.6v10.9h-10.6zM934.0 346.0h10.6v10.9h-10.6zM976.6 346.0h10.6v10.9h-10.6z"/><path fill="#8c8c8c" d="M848.8 260.8h10.6v10.9h-10.6zM731.7 271.4h10.6v10.9h-10.6zM721.1 292.7h10.6v10.9h-10.6zM1136.4 292.7h10.6v10.9h-10.6zM1136.4 303.4h10.6v10.9h-10.6zM1115.1 314.0h10.6v10.9h-10.6zM827.5 324.7h10.6v10.9h-10.6zM944.7 346.0h10.6v10.9h-10.6z"/><path fill="#8d8d8d" d="M1008.6 196.9h10.6v10.9h-10.6zM1040.5 239.5h10.6v10.9h-10.6zM1051.2 250.1h10.6v10.9h-10.6zM1083.1 271.4h10.6v10.9h-10.6zM1115.1 282.1h10.6v10.9h-10.6zM1104.4 314.0h10.6v10.9h-10.6zM1061.8 324.7h10.6v10.9h-10.6zM955.3 346.0h21.3v10.9h-21.3z"/><path fill="#8e8e8e" d="M880.8 239.5h10.6v10.9h-10.6zM870.1 250.1h10.6v10.9h-10.6zM1061.8 260.8h10.6v10.9h-10.6zM1104.4 282.1h10.6v10.9h-10.6zM1125.7 292.7h10.6v10.9h-10.6zM1125.7 303.4h10.6v10.9h-10.6zM838.2 324.7h10.6v10.9h-10.6z"/><path fill="#8f8f8f" d="M944.7 186.2h10.6v10.9h-10.6zM1019.2 207.5h10.6v10.9h-10.6zM742.4 271.4h10.6v10.9h-10.6zM795.6 271.4h21.3v10.9h-21.3zM1093.8 314.0h10.6v10.9h-10.6zM891.4 335.3h10.6v10.9h-10.6zM1019.2 335.3h10.6v10.9h-10.6z"/><path fill="#909090" d="M891.4 228.8h10.6v10.9h-10.6zM859.5 260.8h10.6v10.9h-10.6zM753.0 271.4h42.6v10.9h-42.6zM816.9 271.4h10.6v10.9h-10.6zM1072.5 271.4h10.6v10.9h-10.6zM1093.8 282.1h10.6v10.9h-10.6zM1115.1 292.7h10.6v10.9h-10.6zM1115.1 303.4h10.6v10.9h-10.6zM731.7 314.0h10.6v10.9h-10.6zM848.8 324.7h10.6v10.9h-10.6zM1051.2 324.7h10.6v10.9h-10.6z"/><path fill="#919191" d="M976.6 186.2h10.6v10.9h-10.6zM1029.9 228.8h10.6v10.9h-10.6zM827.5 271.4h10.6v10.9h-10.6zM1104.4 292.7h10.6v10.9h-10.6zM1104.4 303.4h10.6v10.9h-10.6zM1083.1 314.0h10.6v10.9h-10.6z"/><path fill="#929292" d="M838.2 271.4h10.6v10.9h-10.6zM1083.1 282.1h10.6v10.9h-10.6zM859.5 324.7h10.6v10.9h-10.6z"/><path fill="#939393" d="M731.7 282.1h10.6v10.9h-10.6zM1093.8 292.7h10.6v10.9h-10.6zM1093.8 303.4h10.6v10.9h-10.6zM742.4 314.0h10.6v10.9h-10.6zM1072.5 314.0h10.6v10.9h-10.6zM902.1 335.3h10.6v10.9h-10.6z"/><path fill="#949494" d="M955.3 186.2h10.6v10.9h-10.6zM1051.2 260.8h10.6v10.9h-10.6zM753.0 314.0h63.9v10.9h-63.9zM1040.5 324.7h10.6v10.9h-10.6zM1008.6 335.3h10.6v10.9h-10.6z"/><path fill="#959595" d="M966.0 186.2h10.6v10.9h-10.6zM902.1 218.2h10.6v10.9h-10.6zM880.8 250.1h10.6v10.9h-10.6zM1040.5 250.1h10.6v10.9h-10.6zM848.8 271.4h10.6v10.9h-10.6zM1061.8 271.4h10.6v10.9h-10.6zM1072.5 282.1h10.6v10.9h-10.6zM1083.1 292.7h10.6v10.9h-10.6zM1083.1 303.4h10.6v10.9h-10.6zM816.9 314.0h10.6v10.9h-10.6zM870.1 324.7h10.6v10.9h-10.6z"/><path fill="#969696" d="M870.1 260.8h10.6v10.9h-10.6zM731.7 303.4h10.6v10.9h-10.6zM827.5 314.0h10.6v10.9h-10.6zM1061.8 314.0h10.6v10.9h-10.6z"/><path fill="#979797" d="M923.4 196.9h10.6v10.9h-10.6zM891.4 239.5h10.6v10.9h-10.6zM742.4 282.1h21.3v10.9h-21.3zM774.3 282.1h63.9v10.9h-63.9zM731.7 292.7h10.6v10.9h-10.6zM1072.5 303.4h10.6v10.9h-10.6zM838.2 314.0h10.6v10.9h-10.6zM912.7 335.3h10.6v10.9h-10.6z"/><path fill="#989898" d="M1029.9 239.5h10.6v10.9h-10.6zM859.5 271.4h10.6v10.9h-10.6zM763.7 282.1h10.6v10.9h-10.6zM1072.5 292.7h10.6v10.9h-10.6zM1029.9 324.7h10.6v10.9h-10.6zM997.9 335.3h10.6v10.9h-10.6z"/><path fill="#999999" d="M838.2 282.1h10.6v10.9h-10.6zM1061.8 282.1h10.6v10.9h-10.6zM742.4 303.4h10.6v10.9h-10.6zM795.6 303.4h21.3v10.9h-21.3zM848.8 314.0h10.6v10.9h-10.6zM1051.2 314.0h10.6v10.9h-10.6zM880.8 324.7h10.6v10.9h-10.6z"/><path fill="#9a9a9a" d="M1019.2 218.2h10.6v10.9h-10.6zM1051.2 271.4h10.6v10.9h-10.6zM742.4 292.7h10.6v10.9h-10.6zM785.0 292.7h42.6v10.9h-42.6zM753.0 303.4h42.6v10.9h-42.6zM816.9 303.4h10.6v10.9h-10.6zM1061.8 303.4h10.6v10.9h-10.6zM923.4 335.3h10.6v10.9h-10.6z"/><path fill="#9b9b9b" d="M912.7 207.5h10.6v10.9h-10.6zM848.8 282.1h10.6v10.9h-10.6zM753.0 292.7h31.9v10.9h-31.9zM827.5 292.7h10.6v10.9h-10.6zM1061.8 292.7h10.6v10.9h-10.6zM827.5 303.4h10.6v10.9h-10.6z"/><path fill="#9c9c9c" d="M902.1 228.8h10.6v10.9h-10.6zM1040.5 260.8h10.6v10.9h-10.6zM838.2 292.7h10.6v10.9h-10.6zM838.2 303.4h10.6v10.9h-10.6zM859.5 314.0h10.6v10.9h-10.6zM987.3 335.3h10.6v10.9h-10.6z"/><path fill="#9d9d9d" d="M997.9 196.9h10.6v10.9h-10.6zM880.8 260.8h10.6v10.9h-10.6zM870.1 271.4h10.6v10.9h-10.6zM891.4 324.7h10.6v10.9h-10.6zM1019.2 324.7h10.6v10.9h-10.6zM934.0 335.3h10.6v10.9h-10.6z"/><path fill="#9e9e9e" d="M859.5 282.1h10.6v10.9h-10.6zM848.8 292.7h10.6v10.9h-10.6zM848.8 303.4h10.6v10.9h-10.6zM1040.5 314.0h10.6v10.9h-10.6z"/><path fill="#9f9f9f" d="M1019.2 228.8h10.6v10.9h-10.6zM891.4 250.1h10.6v10.9h-10.6zM1029.9 250.1h10.6v10.9h-10.6zM1051.2 282.1h10.6v10.9h-10.6zM1051.2 303.4h10.6v10.9h-10.6zM870.1 314.0h10.6v10.9h-10.6zM976.6 335.3h10.6v10.9h-10.6z"/><path fill="#a0a0a0" d="M1051.2 292.7h10.6v10.9h-10.6zM944.7 335.3h10.6v10.9h-10.6zM966.0 335.3h10.6v10.9h-10.6z"/><path fill="#a1a1a1" d="M859.5 303.4h10.6v10.9h-10.6zM955.3 335.3h10.6v10.9h-10.6z"/><path fill="#a2a2a2" d="M1040.5 271.4h10.6v10.9h-10.6zM859.5 292.7h10.6v10.9h-10.6zM902.1 324.7h10.6v10.9h-10.6z"/><path fill="#a3a3a3" d="M1008.6 207.5h10.6v10.9h-10.6zM902.1 239.5h10.6v10.9h-10.6zM870.1 282.1h10.6v10.9h-10.6zM1029.9 314.0h10.6v10.9h-10.6zM1008.6 324.7h10.6v10.9h-10.6z"/><path fill="#a4a4a4" d="M1019.2 239.5h10.6v10.9h-10.6zM880.8 271.4h10.6v10.9h-10.6zM1040.5 303.4h10.6v10.9h-10.6zM880.8 314.0h10.6v10.9h-10.6z"/><path fill="#a5a5a5" d="M912.7 218.2h10.6v10.9h-10.6zM870.1 303.4h10.6v10.9h-10.6z"/><path fill="#a6a6a6" d="M934.0 196.9h10.6v10.9h-10.6zM1040.5 282.1h10.6v10.9h-10.6zM870.1 292.7h10.6v10.9h-10.6z"/><path fill="#a7a7a7" d="M891.4 260.8h10.6v10.9h-10.6zM1029.9 260.8h10.6v10.9h-10.6zM1040.5 292.7h10.6v10.9h-10.6zM912.7 324.7h10.6v10.9h-10.6z"/><path fill="#a9a9a9" d="M880.8 282.1h10.6v10.9h-10.6zM891.4 314.0h10.6v10.9h-10.6zM997.9 324.7h10.6v10.9h-10.6z"/><path fill="#aaaaaa" d="M912.7 228.8h10.6v10.9h-10.6zM902.1 250.1h10.6v10.9h-10.6zM880.8 303.4h10.6v10.9h-10.6zM1019.2 314.0h10.6v10.9h-10.6z"/><path fill="#ababab" d="M1019.2 250.1h10.6v10.9h-10.6zM1029.9 303.4h10.6v10.9h-10.6z"/><path fill="#acacac" d="M1008.6 218.2h10.6v10.9h-10.6zM880.8 292.7h10.6v10.9h-10.6zM923.4 324.7h10.6v10.9h-10.6z"/><path fill="#adadad" d="M987.3 196.9h10.6v10.9h-10.6zM891.4 271.4h10.6v10.9h-10.6zM1029.9 271.4h10.6v10.9h-10.6z"/><path fill="#aeaeae" d="M923.4 207.5h10.6v10.9h-10.6zM1008.6 228.8h10.6v10.9h-10.6zM987.3 324.7h10.6v10.9h-10.6z"/><path fill="#afafaf" d="M912.7 239.5h10.6v10.9h-10.6zM902.1 314.0h10.6v10.9h-10.6z"/><path fill="#b0b0b0" d="M1029.9 282.1h10.6v10.9h-10.6zM1029.9 292.7h10.6v10.9h-10.6zM934.0 324.7h10.6v10.9h-10.6z"/><path fill="#b1b1b1" d="M1008.6 239.5h10.6v10.9h-10.6zM891.4 303.4h10.6v10.9h-10.6z"/><path fill="#b2b2b2" d="M902.1 260.8h10.6v10.9h-10.6zM891.4 282.1h10.6v10.9h-10.6zM1008.6 314.0h10.6v10.9h-10.6zM976.6 324.7h10.6v10.9h-10.6z"/><path fill="#b3b3b3" d="M944.7 196.9h10.6v10.9h-10.6zM891.4 292.7h10.6v10.9h-10.6z"/><path fill="#b4b4b4" d="M1019.2 260.8h10.6v10.9h-10.6zM1019.2 303.4h10.6v10.9h-10.6zM944.7 324.7h10.6v10.9h-10.6z"/><path fill="#b5b5b5" d="M955.3 324.7h21.3v10.9h-21.3z"/><path fill="#b6b6b6" d="M912.7 314.0h10.6v10.9h-10.6z"/><path fill="#b7b7b7" d="M923.4 218.2h10.6v10.9h-10.6zM912.7 250.1h10.6v10.9h-10.6z"/><path fill="#b8b8b8" d="M976.6 196.9h10.6v10.9h-10.6zM997.9 207.5h10.6v10.9h-10.6zM902.1 303.4h10.6v10.9h-10.6z"/><path fill="#b9b9b9" d="M923.4 228.8h10.6v10.9h-10.6zM1008.6 250.1h10.6v10.9h-10.6zM902.1 271.4h10.6v10.9h-10.6z"/><path fill="#bababa" d="M1019.2 271.4h10.6v10.9h-10.6zM997.9 314.0h10.6v10.9h-10.6z"/><path fill="#bbbbbb" d="M1019.2 292.7h10.6v10.9h-10.6z"/><path fill="#bcbcbc" d="M955.3 196.9h10.6v10.9h-10.6zM923.4 239.5h10.6v10.9h-10.6z"/><path fill="#bdbdbd" d="M902.1 282.1h10.6v10.9h-10.6zM1019.2 282.1h10.6v10.9h-10.6zM902.1 292.7h10.6v10.9h-10.6zM923.4 314.0h10.6v10.9h-10.6z"/><path fill="#bebebe" d="M966.0 196.9h10.6v10.9h-10.6zM997.9 228.8h10.6v10.9h-10.6z"/><path fill="#bfbfbf" d="M997.9 239.5h10.6v10.9h-10.6zM1008.6 303.4h10.6v10.9h-10.6z"/><path fill="#c0c0c0" d="M997.9 218.2h10.6v10.9h-10.6zM912.7 260.8h10.6v10.9h-10.6z"/><path fill="#c1c1c1" d="M934.0 207.5h10.6v10.9h-10.6z"/><path fill="#c2c2c2" d="M912.7 303.4h10.6v10.9h-10.6zM987.3 314.0h10.6v10.9h-10.6z"/><path fill="#c3c3c3" d="M1008.6 260.8h10.6v10.9h-10.6z"/><path fill="#c4c4c4" d="M934.0 314.0h10.6v10.9h-10.6z"/><path fill="#c5c5c5" d="M923.4 250.1h10.6v10.9h-10.6z"/><path fill="#c7c7c7" d="M934.0 228.8h10.6v10.9h-10.6zM997.9 250.1h10.6v10.9h-10.6z"/><path fill="#c8c8c8" d="M934.0 239.5h10.6v10.9h-10.6zM912.7 271.4h10.6v10.9h-10.6zM1008.6 292.7h10.6v10.9h-10.6zM976.6 314.0h10.6v10.9h-10.6z"/><path fill="#c9c9c9" d="M912.7 292.7h10.6v10.9h-10.6zM944.7 314.0h10.6v10.9h-10.6z"/><path fill="#cacaca" d="M934.0 218.2h10.6v10.9h-10.6zM1008.6 271.4h10.6v10.9h-10.6zM997.9 303.4h10.6v10.9h-10.6z"/><path fill="#cbcbcb" d="M987.3 207.5h10.6v10.9h-10.6zM987.3 239.5h10.6v10.9h-10.6zM912.7 282.1h10.6v10.9h-10.6zM955.3 314.0h21.3v10.9h-21.3z"/><path fill="#cccccc" d="M987.3 228.8h10.6v10.9h-10.6zM1008.6 282.1h10.6v10.9h-10.6zM923.4 303.4h10.6v10.9h-10.6z"/><path fill="#cfcfcf" d="M923.4 260.8h10.6v10.9h-10.6z"/><path fill="#d2d2d2" d="M944.7 207.5h10.6v10.9h-10.6zM944.7 239.5h10.6v10.9h-10.6zM934.0 250.1h10.6v10.9h-10.6zM997.9 260.8h10.6v10.9h-10.6z"/><path fill="#d3d3d3" d="M987.3 218.2h10.6v10.9h-10.6zM944.7 228.8h10.6v10.9h-10.6z"/><path fill="#d4d4d4" d="M976.6 239.5h10.6v10.9h-10.6zM987.3 250.1h10.6v10.9h-10.6zM987.3 303.4h10.6v10.9h-10.6z"/><path fill="#d5d5d5" d="M934.0 303.4h10.6v10.9h-10.6z"/><path fill="#d6d6d6" d="M923.4 292.7h10.6v10.9h-10.6zM997.9 292.7h10.6v10.9h-10.6z"/><path fill="#d7d7d7" d="M976.6 228.8h10.6v10.9h-10.6z"/><path fill="#d8d8d8" d="M955.3 239.5h10.6v10.9h-10.6zM923.4 271.4h10.6v10.9h-10.6z"/><path fill="#d9d9d9" d="M966.0 239.5h10.6v10.9h-10.6z"/><path fill="#dadada" d="M976.6 207.5h10.6v10.9h-10.6zM944.7 218.2h10.6v10.9h-10.6zM997.9 271.4h10.6v10.9h-10.6zM923.4 282.1h10.6v10.9h-10.6z"/><path fill="#dbdbdb" d="M955.3 228.8h10.6v10.9h-10.6z"/><path fill="#dcdcdc" d="M966.0 228.8h10.6v10.9h-10.6zM944.7 250.1h10.6v10.9h-10.6zM997.9 282.1h10.6v10.9h-10.6z"/><path fill="#dddddd" d="M944.7 303.4h10.6v10.9h-10.6zM976.6 303.4h10.6v10.9h-10.6z"/><path fill="#dedede" d="M955.3 207.5h10.6v10.9h-10.6zM976.6 250.1h10.6v10.9h-10.6zM934.0 260.8h10.6v10.9h-10.6z"/><path fill="#e0e0e0" d="M966.0 207.5h10.6v10.9h-10.6z"/><path fill="#e1e1e1" d="M976.6 218.2h10.6v10.9h-10.6zM987.3 260.8h10.6v10.9h-10.6zM955.3 303.4h21.3v10.9h-21.3z"/><path fill="#e2e2e2" d="M955.3 250.1h10.6v10.9h-10.6z"/><path fill="#e3e3e3" d="M966.0 250.1h10.6v10.9h-10.6zM934.0 292.7h10.6v10.9h-10.6zM987.3 292.7h10.6v10.9h-10.6z"/><path fill="#e4e4e4" d="M955.3 218.2h10.6v10.9h-10.6z"/><path fill="#e7e7e7" d="M966.0 218.2h10.6v10.9h-10.6zM934.0 271.4h10.6v10.9h-10.6z"/><path fill="#e9e9e9" d="M934.0 282.1h10.6v10.9h-10.6z"/><path fill="#eaeaea" d="M944.7 260.8h10.6v10.9h-10.6zM987.3 271.4h10.6v10.9h-10.6z"/><path fill="#ebebeb" d="M987.3 282.1h10.6v10.9h-10.6z"/><path fill="#ececec" d="M976.6 260.8h10.6v10.9h-10.6z"/><path fill="#ededed" d="M944.7 292.7h10.6v10.9h-10.6z"/><path fill="#eeeeee" d="M976.6 292.7h10.6v10.9h-10.6z"/><path fill="#f1f1f1" d="M955.3 260.8h10.6v10.9h-10.6z"/><path fill="#f2f2f2" d="M966.0 260.8h10.6v10.9h-10.6z"/><path fill="#f3f3f3" d="M955.3 292.7h21.3v10.9h-21.3z"/><path fill="#f4f4f4" d="M944.7 271.4h10.6v10.9h-10.6z"/><path fill="#f6f6f6" d="M976.6 271.4h10.6v10.9h-10.6zM944.7 282.1h10.6v10.9h-10.6z"/><path fill="#f7f7f7" d="M976.6 282.1h10.6v10.9h-10.6z"/><path fill="#fcfcfc" d="M955.3 271.4h21.3v10.9h-21.3z"/><path fill="#fdfdfd" d="M955.3 282.1h21.3v10.9h-21.3z"/></g></g><path d="M851.5 47.8V580.24M1048.5 47.8V580.24" stroke="#fff" stroke-width="1"/>
<path d="M93.4 560.73h1.5m267.7 0h1.5M89 541.22h1.5M402.9 535.65h1.5M97.9 532.86h1.5M134.2 530.07h1.5m99.5 0h1.5m150.8 0h1.5M471.5 527.29h1.5M379 521.71h1.5m12.9 0h1.5M474.5 516.14h1.5M518.8 513.35h1.5M544.2 504.99h1.5M144.7 502.20h1.5m119.9 0h1.5m137.3 0h1.5M118.8 499.42h1.5m120.9 0h1.5m61.2 0h1.5m144.3 0h1.5M118.8 496.63h1.5m22.9 0h1.5m66.6 0h1.5m312.5 0h1.5M261.1 493.84h1.5m148.2 0h1.5m15.5 0h1.5m7.9 0h1.5m22.4 0h1.5m22.9 0h1.5M140.7 491.05h1.5m27.4 0h1.5m276.6 0h1.5m71.6 0h1.5M94.9 488.27h1.5m168.7 0h1.5m3 0h1.5m14.4 0h1.5m10.9 0h1.5m28.9 0h1.5m15.9 0h1.5m87 0h1.5m59.2 0h1.5M123.8 485.48h1.5m10.9 0h1.5m1.5 0h1.5m24.9 0h1.5m131.3 0h1.5m62.2 0h1.5m13.9 0h1.5m153.2 0h1.5m31.9 0h1.5M106.4 482.69h1.5m124.3 0h1.5m69.2 0h1.5m128.8 0h1.5m82.1 0h1.5m11.9 0h1.5m37.4 0h1.5M165.6 479.91h1.5m2 0h1.5m146.7 0h1.5m90.1 0h1.5m92.5 0h1.5M134.2 477.12h1.5m45.3 0h1.5m9.9 0h1.5m129.9 0h1.5m3 0h1.5m200 0h1.5m11.4 0h1.5m12.4 0h1.5m3.5 0h1.5M161.1 474.33h1.5m64.7 0h1.5m102.9 0h1.5m81.1 0h1.5m11.5 0h1.5m12.4 0h1.5m54.7 0h1.5M181.5 471.55h1.5m60.7 0h1.5m37.8 0h1.5m7.9 0h1.5m56.7 0h1.5m34.4 0h1.5m7.9 0h1.5m11.5 0h1.5m9.4 0h1.5m36.3 0h1.5m31.3 0h1.5m55.3 0h1.5M280 468.76h1.5m27.9 0h1.5m25.8 0h1.5m95.5 0h1.5m115.9 0h1.5M97.9 465.97h1.5m15.4 0h1.5m58.7 0h2.5m10.5 0h1.5m73.1 0h1.5m9.9 0h1.5m3 0h1.5m21.9 0h2m4.5 0h1.5m34.8 0h1.5m4 0h2.5m0.9 0h1.5m15.9 0h1.5m12 0h1.5m3.5 0h1.5m3.9 0h1.5m16.4 0h1.5m13 0h1.5m19.9 0h1.5m26.3 0h1.5m4.5 0h1.5m27.8 0h1.5M95.4 463.18h1.5m148.3 0h1.5m19.9 0h1.5m2.5 0h1.5m26.8 0h1.5m18.4 0h1.5m6.5 0h1.5m25.3 0h1.5m9 0h1.5m40.8 0h1.5m4.9 0h1.5m15.5 0h1.5m34.3 0h1.5m18.9 0h1.5m7.4 0h1.5m6.5 0h1.5M114.8 460.40h1.5m93.6 0h1.5m11.4 0h1.5m8.4 0h1.5m17.9 0h1.5m8 0h1.5m1.5 0h1.5m24.9 0h1.5m6.4 0h1.5m21.4 0h2m41.3 0h1.5m49.7 0h1.5m88.1 0h1.5m6.9 0h1.5m1 0h1.5m27.4 0h1.5m23.8 0h1.5M106.4 457.61h1.5m1.5 0h1.5m67.1 0h1.5m20.4 0h1.5m4.5 0h1.5m27.3 0h1.5m5.5 0h1.5m19.4 0h3m2 0h1.5m28.8 0h1.5m5 0h1.5m41.8 0h1.5m43.2 0h1.5m2 0h1.5m17.9 0h1.5m10 0h1.5m11.4 0h1.5m15.9 0h3m21.4 0h1.5M111.8 454.82h1.5m32.9 0h1.5m27.3 0h1.5m28.4 0h1.5m14.9 0h1.5m6.5 0h1.5m6.4 0h1.5m48.3 0h1.5m30.8 0h1.5m63.7 0h1.5m15.9 0h1.5m24.9 0h1.5m27.3 0h1.5m0.5 0h1.5m73.1 0h1.5m17.4 0h1.5M86 452.04h1.5m4 0h1.5m52.2 0h4.5m7.9 0h4m2.5 0h1.5m3.5 0h1.5m40.7 0h1.5m5.5 0h1.5m24.9 0h1.5m32.8 0h1.5m4 0h1.5m9.9 0h1.5m7 0h1.5m6.4 0h1.5m6 0h1.5m61.7 0h1.5m9.4 0h1.5m73.7 0h1.5m10.4 0h1.5m51.2 0h1.5m17.4 0h1.5M87.5 449.25h1.5m5.4 0h1.5m20.9 0h1.5m16.4 0h1.5m7.5 0h1.5m24.4 0h1.5m12.9 0h1.5m30.3 0h1.5m11 0h1.5m3.9 0h1.5m9 0h2m39.8 0h1.5m11.4 0h1.5m30.8 0h1.5m26.9 0h1.5m13.4 0h1.5m2 0h1.5m0.5 0h1.5m23.9 0h3m4.4 0h1.5m6.5 0h1.5m13.4 0h1.5m13.9 0h1.5m6.5 0h1.5m27.4 0h1.5m8.9 0h1.5m15.4 0h1.5m4.5 0h1.5m7 0h1.5m4.9 0h1.5m10.5 0h2m16.4 0h1.5M95.9 446.46h1.5m22.9 0h1.5m14.9 0h1.5m4 0h1.5m5 0h1.5m33.3 0h1.5m14.4 0h1.5m9.5 0h2m1.4 0h1.5m7.5 0h1.5m8.4 0h1.5m30.9 0h1.5m36.3 0h1.5m16.9 0h1.5m9.9 0h1.5m15.5 0h1.5m27.3 0h1.5m8.5 0h1.5m1.9 0h1.5m23.4 0h1.5m6.5 0h1.5m9.4 0h1.5m6.5 0h1.5m6.9 0h1.5m2 0h1.5m9.5 0h1.5m4.4 0h1.5m6.5 0h1.5m13.9 0h1.5m6.5 0h1.5m36.3 0h1.5M109.4 443.68h1.5m4.4 0h2.5m22.4 0h1.5m21.9 0h1.5m14.4 0h1.5m3 0h1.5m1.5 0h1.5m23.8 0h2.5m1 0h1.5m3 0h1.5m7.5 0h1.5m68.6 0h1.5m7.5 0h3m16.9 0h1.5m30.8 0h1.5m68.1 0h1.5m7 0h1.5m2.5 0h1.5m58.2 0h1.5m29.3 0h1.5m18.4 0h1.5M81.5 440.89h1.5m15.9 0h1.5m14.4 0h1.5m2.5 0h1.5m24.9 0h1.5m7.4 0h1.5m4.5 0h1.5m14.4 0h1.5m31.9 0h1.5m0.9 0h1.5m22.9 0h1.5m0.5 0h1.5m20.9 0h3m8.4 0h1.5m3.5 0h1.5m19.9 0h1.5m2 0h1.5m6.5 0h1.5m9.4 0h1.5m13.4 0h1.5m8.5 0h3m1.5 0h1.5m6.9 0h3m2.5 0h3m2 0h1.5m13.4 0h1.5m11.4 0h2m17.9 0h1.5m21.9 0h1.5m2.5 0h1.5m3.5 0h1.5m2.4 0h1.5m4 0h1.5m14.4 0h1.5m3 0h1.5m1 0h1.5m65.7 0h1.5m5.9 0h1.5M85 438.10h1.5m8.9 0h1.5m3.5 0h1.5m2.5 0h1.5m7.4 0h1.5m20.9 0h1.5m5.5 0h1.5m3 0h2.5m8.9 0h3m1.5 0h1.5m8.9 0h1.5m10.5 0h1.5m16.4 0h3m10.4 0h1.5m0.5 0h1.5m11.4 0h1.5m8.5 0h2m8.9 0h3m22.4 0h2.5m13.9 0h1.5m7.5 0h1.5m3 0h1.5m0.5 0h1.5m1.9 0h1.5m4 0h1.5m8.5 0h1.5m6.4 0h1.5m20.4 0h1.5m3 0h1.5m1 0h1.5m1 0h1.5m5.9 0h1.5m27.9 0h1.5m34.8 0h1.5m3.5 0h1.5m1 0h1.5m0.4 0h1.5m11.5 0h1.5m11.9 0h1.5m29.4 0h1.5m6.4 0h1.5m13.9 0h3m28.4 0h1.5M94.9 435.31h1.5m15 0h1.5m11.4 0h1.5m3.5 0h1.5m11.4 0h1.5m11.9 0h1.5m52.8 0h1.5m30.8 0h1.5m18.9 0h2m13.9 0h1.5m1 0h1.5m19.4 0h1.5m1.5 0h1.5m25.8 0h1.5m7 0h1.5m14.4 0h1.5m0.5 0h1.5m19.9 0h1.5m31.8 0h1.5m2.5 0h1.5m3 0h1.5m18.9 0h1.5m20.9 0h1.5m13.4 0h1.5m37.3 0h1.5m5.5 0h1.5m4.4 0h1.5m8.5 0h5m21.4 0h1.5m0.9 0h1.5M80.5 432.53h1.5m1 0h1.5m9.4 0h3.5m2 0h1.5m7.5 0h1.5m3.4 0h1.5m1 0h1.5m0.5 0h1.5m11.5 0h1.5m22.3 0h1.5m14.5 0h1.5m4.9 0h4m10.9 0h1.5m0.5 0h1.5m8 0h1.5m10.4 0h1.5m3 0h1.5m3.5 0h1.5m2 0h1.5m7.9 0h1.5m1 0h1.5m1 0h3m4.5 0h1.5m11.4 0h1.5m13.4 0h1.5m13.4 0h1.5m23.9 0h1.5m11.4 0h1.5m2.5 0h1.5m9.5 0h1.5m2 0h1.5m5.4 0h1.5m5.5 0h1.5m4.5 0h1.5m3.9 0h1.5m0.5 0h1.5m0.5 0h1.5m11.4 0h2m16 0h1.5m10.9 0h1.5m1 0h1.5m0.5 0h2.5m20.9 0h3m0.4 0h1.5m18.9 0h1.5m60.2 0h1.5m10 0h1.5m7.9 0h1.5m9 0h2.0M82.5 429.74h1.5m2 0h1.5m3.5 0h3m1.9 0h1.5m3.5 0h1.5m3 0h1.5m4.5 0h1.5m8.4 0h1.5m3.5 0h3.5m10.9 0h3m11.4 0h1.5m9 0h1.5m9.9 0h1.5m8 0h1.5m10.9 0h1.5m6.5 0h1.5m8.4 0h1.5m13.9 0h1.5m1 0h1.5m6.5 0h2.5m31.8 0h1.5m18.4 0h1.5m3 0h1.5m23.4 0h3m4.9 0h1.5m12.5 0h1.5m14.4 0h1.5m0.5 0h1.5m15.4 0h1.5m6.4 0h1.5m2 0h1.5m1 0h1.5m13.4 0h1.5m7 0h1.5m8 0h1.5m34.8 0h1.5m3.4 0h1.5m6.5 0h1.5m1 0h1.5m15.4 0h1.5m5.5 0h3m9.4 0h1.5m1.5 0h1.5m1.5 0h1.5m16.4 0h1.5m5 0h1.5m10.9 0h1.5m5 0h1.5M85.5 426.95h1.5m0.5 0h1.5m17.4 0h1.5m32.3 0h1.5m11.4 0h1.5m9.5 0h1.5m8.9 0h1.5m6 0h1.5m19.4 0h1.5m15.9 0h2.5m1.5 0h1.5m17.4 0h1.5m21.9 0h1.5m11.4 0h1.5m1.5 0h1.5m6 0h1.5m5.9 0h1.5m9 0h1.5m1.4 0h1.5m9.5 0h1.5m3.5 0h1.5m15.9 0h2m16.4 0h1.5m11.4 0h1.5m9 0h1.5m14.9 0h3m17.4 0h1.5m8.9 0h1.5m3.5 0h1.5m34.8 0h1.5m5.5 0h1.5m6.9 0h1.5m11 0h1.5m21.4 0h1.5m24.8 0h1.5m6 0h1.5M85 424.17h2.5m5.4 0h2m8 0h1.5m10.4 0h1.5m5 0h1.5m2.5 0h1.5m5.4 0h1.5m1 0h1.5m4.5 0h2.5m1.5 0h3.5m0.5 0h1.5m7.9 0h1.5m5.5 0h2.5m2.5 0h3m4.4 0h4m2 0h1.5m5 0h1.5m8.4 0h1.5m4 0h1.5m1.5 0h1.5m8.9 0h1.5m1 0h2m3.5 0h1.5m0.5 0h1.5m0.9 0h1.5m1.5 0h2.5m4 0h1.5m17.9 0h1.5m1.5 0h1.5m6.4 0h1.5m0.5 0h1.5m1 0h1.5m3.5 0h1.5m1 0h1.5m2 0h2.5m0.5 0h2m15.4 0h4m0.4 0h1.5m7.5 0h1.5m2 0h1.5m2.5 0h1.5m1 0h1.5m1.4 0h4m8.5 0h1.5m2 0h1.5m1.4 0h1.5m2 0h2m5 0h2.5m1 0h1.5m1 0h1.5m0.4 0h1.5m3.5 0h2.5m7 0h2.5m1.5 0h1.5m3.4 0h1.5m11 0h1.5m2.5 0h1.5m9.4 0h1.5m9.9 0h2m4.5 0h1.5m15.9 0h1.5m4.5 0h1.5m9.4 0h4m1 0h1.5m4 0h1.5m18.9 0h1.5m1 0h1.5m0.5 0h1.5m0.4 0h2m4 0h1.5m1 0h1.5m3.5 0h1.5m5.9 0h3m5 0h2m4 0h1.5m3.9 0h1.5m4 0h1.5m4 0h1.5m3.5 0h3.5M85 421.38h1.5m18.4 0h1.5m0.5 0h2m10.4 0h1.5m0.5 0h1.5m3.5 0h1.5m9.4 0h1.5m2.5 0h1.5m8.5 0h1.5m21.3 0h3m4 0h1.5m26.9 0h1.5m6.9 0h1.5m2 0h1.5m0.5 0h3.5m11.9 0h1.5m5 0h1.5m10.4 0h3m8 0h1.5m9.9 0h1.5m14.4 0h1.5m3 0h1.5m4 0h2.5m2.9 0h1.5m5.5 0h1.5m11.5 0h2.5m15.9 0h2m14.4 0h1.5m1 0h1.5m0.5 0h2m1.4 0h1.5m6 0h1.5m5.5 0h1.5m10.9 0h2.5m9.4 0h1.5m13 0h1.5m2.9 0h1.5m12.5 0h1.5m1.5 0h1.5m3.4 0h1.5m3.5 0h1.5m2.5 0h1.5m3 0h1.5m11.9 0h1.5m0.5 0h1.5m4.5 0h1.5m6.9 0h1.5m3 0h1.5m4.5 0h1.5m1 0h1.5m1.4 0h1.5m1.5 0h2.5m2 0h1.5m16.4 0h1.5m8.5 0h1.5m4.4 0h1.5m8.5 0h1.5M79 418.59h1.5m27.4 0h1.5m1.5 0h1.5m7.4 0h3m17.4 0h3m14.9 0h1.5m20.9 0h1.5m18.4 0h1.5m3 0h1.5m1 0h1.5m14.4 0h1.5m3 0h1.5m6.9 0h1.5m31.9 0h1.5m3.9 0h1.5m3 0h1.5m32.8 0h3m4.5 0h1.5m1.5 0h1.5m4.5 0h1.5m20.8 0h1.5m7.5 0h1.5m30.8 0h1.5m29.4 0h1.5m3 0h1.5m24.3 0h1.5m16.9 0h1.5m35.8 0h1.5m3 0h1.5m2.5 0h1.5m1.5 0h1.5m5.5 0h3m3.4 0h1.5m3 0h1.5m11.4 0h2.5m11 0h1.5M83 415.81h1.5m2.5 0h1.5m10.9 0h1.5m0.5 0h1.5m0.5 0h1.5m10.9 0h1.5m6.5 0h1.5m13.9 0h3m9.4 0h1.5m10 0h1.5m1 0h1.5m3 0h1.5m23.8 0h1.5m1 0h1.5m17.9 0h2.5m19.9 0h1.5m2 0h1.5m5 0h1.5m6.9 0h2m11.9 0h1.5m7 0h3m21.9 0h1.5m2 0h1.5m3.9 0h1.5m0.5 0h1.5m4 0h1.5m1.5 0h1.5m1 0h1.5m7.4 0h2.5m2.5 0h1.5m5.5 0h1.5m23.8 0h2m6 0h2.5m18.4 0h1.5m6 0h1.5m5.9 0h1.5m8.5 0h1.5m2.4 0h3m6 0h3m17.4 0h1.5m55.2 0h1.5m2 0h1.5m6 0h3m9.4 0h2.5m2.5 0h1.5m10.9 0h1.5m7 0h1.5m2.9 0h1.5M87 413.02h1.5m18.4 0h1.5m0.5 0h1.5m4.4 0h1.5m3.5 0h1.5m0.5 0h1.5m7 0h1.5m4.9 0h1.5m0.5 0h1.5m1 0h1.5m4 0h1.5m29.3 0h1.5m8 0h1.5m1 0h1.5m16.4 0h3m3.9 0h1.5m19.9 0h3m0.5 0h1.5m8 0h1.5m1 0h1.5m0.4 0h1.5m2.5 0h2.5m6 0h1.5m1 0h2m12.4 0h1.5m13.9 0h2.5m4.5 0h1.5m1 0h1.5m10.4 0h1.5m1.5 0h1.5m0.5 0h1.5m3.5 0h1.5m8.4 0h2.5m4.5 0h1.5m2.5 0h1.5m4.4 0h1.5m5 0h1.5m7.9 0h1.5m4.5 0h1.5m3.5 0h4m4.4 0h3m4.5 0h1.5m2 0h2m1 0h3m3.9 0h3.5m5 0h3m4 0h1.5m0.9 0h1.5m4.5 0h1.5m8 0h2m11.4 0h1.5m8 0h1.5m0.9 0h1.5m5 0h1.5m28.4 0h1.5m7.4 0h1.5m0.5 0h2m12.4 0h1.5m17.4 0h1.5m1.5 0h1.5m8.5 0h1.5M89.5 410.23h1.5m29.8 0h1.5m0.5 0h3m18.9 0h1.5m8.9 0h1.5m14 0h2.5m12.9 0h3m4.9 0h1.5m25.4 0h1.5m0.5 0h1.5m1 0h1.5m0.5 0h1.5m10.9 0h1.5m4 0h1.5m13.4 0h2.5m9.4 0h3m2 0h1.5m8 0h1.5m9.4 0h1.5m8 0h2m11.9 0h1.5m6.5 0h1.5m3.4 0h1.5m14.5 0h1.5m26.3 0h1.5m1 0h1.5m4.5 0h1.5m8.9 0h3m4.5 0h1.5m4.5 0h2m1.9 0h2m6 0h2m13.9 0h1.5m4.5 0h1.5m0.5 0h2.5m23.8 0h2.5m7 0h4.5m2 0h1.5m2.9 0h1.5m4.5 0h1.5m8.5 0h1.5m25.3 0h1.5m8 0h1.5m1 0h1.5m14.9 0h1.5m2.5 0h1.5M80 407.44h1.5m3 0h1.5m8.9 0h1.5m1.5 0h1.5m12 0h3m1.4 0h1.5m11.5 0h3.5m13.9 0h2m2.5 0h1.5m4.9 0h1.5m9 0h1.5m2 0h3m0.4 0h2.5m14.4 0h1.5m1 0h1.5m5.5 0h1.5m2.5 0h1.5m8.4 0h1.5m1 0h1.5m4.5 0h1.5m0.5 0h1.5m2.5 0h3m1.9 0h1.5m8 0h4.5m2.5 0h1.5m1.4 0h1.5m4 0h1.5m10.9 0h1.5m3.5 0h4m6 0h1.5m1.5 0h1.5m4.9 0h1.5m4 0h1.5m1 0h1.5m0.5 0h1.5m1 0h1.5m4.9 0h1.5m2 0h2.5m1.5 0h1.5m18.9 0h1.5m7.4 0h1.5m18.9 0h1.5m13 0h1.5m2.9 0h1.5m0.5 0h1.5m2.5 0h2m1 0h1.5m1 0h1.5m0.5 0h1.5m5.9 0h1.5m2 0h1.5m1 0h1.5m4 0h1.5m6.4 0h1.5m1 0h1.5m0.5 0h1.5m3 0h1.5m4 0h1.5m3.9 0h1.5m6 0h1.5m3.5 0h1.5m5.9 0h2.5m1 0h1.5m22.4 0h2.5m3.5 0h1.5m27.8 0h2m6 0h1.5m0.5 0h1.5m6.4 0h1.5m1.5 0h1.5m10 0h3.5M80 404.66h3m6 0h3m16.9 0h1.5m7.4 0h1.5m10 0h1.5m17.4 0h1.5m6.4 0h1.5m0.5 0h3m11.4 0h1.5m2 0h2.5m6.5 0h1.5m1.5 0h2m1.9 0h1.5m10.5 0h1.5m0.5 0h1.5m1 0h1.5m0.5 0h3m1.4 0h1.5m3.5 0h1.5m4.5 0h1.5m6.9 0h1.5m1.5 0h2m2.5 0h3.5m6.4 0h1.5m4 0h1.5m3.5 0h1.5m0.5 0h3m0.5 0h2m9.4 0h1.5m2.5 0h1.5m10.4 0h1.5m3.5 0h1.5m3 0h4m7.4 0h1.5m2.5 0h1.5m2.5 0h1.5m5.9 0h2m8.5 0h1.5m2.5 0h1.5m6.9 0h1.5m27.9 0h1.5m3.5 0h1.5m12.4 0h1.5m4.5 0h1.5m2.4 0h1.5m9.5 0h1.5m5.4 0h1.5m2.5 0h2.5m1.5 0h1.5m9.5 0h1.5m2.9 0h1.5m1.5 0h1.5m12.4 0h3m3.5 0h3m1.5 0h1.5m2 0h3m0.5 0h2m3.4 0h1.5m1.5 0h1.5m1.5 0h3.5m0.5 0h1.5m4.4 0h1.5m5 0h1.5m2.5 0h1.5m20.9 0h1.5m5.9 0h1.5m3.5 0h1.5M84.5 401.87h1.5m1 0h1.5m1.5 0h1.5m4.9 0h2.5m3 0h1.5m1.5 0h1.5m5.9 0h1.5m10.5 0h1.5m8.9 0h1.5m6 0h1.5m10.4 0h1.5m2 0h2m1.5 0h1.5m1 0h1.5m5.5 0h1.5m1.9 0h3m1 0h1.5m0.5 0h1.5m9 0h3m3.4 0h1.5m1.5 0h2.5m2 0h1.5m3.5 0h3m0.4 0h1.5m7 0h1.5m0.5 0h2.5m6.9 0h1.5m14 0h1.5m5.4 0h1.5m1 0h1.5m3.5 0h1.5m5 0h1.5m7.9 0h1.5m4 0h2m6.4 0h1.5m0.5 0h1.5m2 0h1.5m0.5 0h4m2.5 0h2m6.4 0h1.5m2.5 0h1.5m3.5 0h4m4.4 0h3m3 0h1.5m1 0h1.5m1.5 0h2m17.4 0h1.5m3 0h1.5m25.3 0h1.5m3 0h1.5m1 0h1.5m2 0h1.5m4.4 0h2m4 0h1.5m7 0h3.5m5.4 0h1.5m3.5 0h3m10.9 0h1.5m6.5 0h1.5m1 0h2.5m25.8 0h2.5m18.9 0h1.5m8 0h1.5m15.4 0h1.5m4 0h1.5m10.9 0h1.5m1 0h1.5m6.5 0h1.5M81.5 399.08h2.5m1.5 0h3m5.9 0h1.5m1 0h1.5m1.5 0h1.5m1.5 0h1.5m5.5 0h1.5m4.4 0h1.5m2.5 0h5m1 0h1.5m2 0h1.5m0.9 0h4.5m4.5 0h1.5m7 0h1.5m14.4 0h1.5m8.4 0h1.5m2 0h1.5m4 0h1.5m0.5 0h1.5m4.9 0h2.5m2.5 0h1.5m0.5 0h2.5m1.5 0h1.5m5.5 0h3m2.4 0h2.5m0.5 0h1.5m2 0h4.5m3 0h2m7.4 0h2m0.5 0h3m2 0h2m1 0h8m3.4 0h1.5m5.5 0h1.5m3.4 0h1.5m3.5 0h1.5m1 0h1.5m5 0h1.5m0.5 0h1.5m1.4 0h1.5m1.5 0h2.5m4 0h1.5m1.5 0h1.5m1 0h1.5m1 0h2.5m8.4 0h1.5m2.5 0h2m6.4 0h4.5m1.5 0h1.5m0.5 0h1.5m1 0h3.5m4.9 0h3m3.5 0h2m3.5 0h1.5m5.4 0h1.5m0.5 0h1.5m3.5 0h1.5m5 0h1.5m1 0h2.5m0.5 0h1.5m2.9 0h1.5m3.5 0h1.5m6 0h1.5m9.4 0h1.5m1.5 0h2m7 0h2.5m1.4 0h1.5m5.5 0h3m1.5 0h1.5m2 0h1.5m0.5 0h1.5m1.9 0h1.5m1 0h1.5m4.5 0h1.5m0.5 0h3m4.4 0h1.5m2.5 0h3.5m1.5 0h1.5m1 0h2.5m1 0h1.5m1 0h4m0.4 0h1.5m1.5 0h1.5m8.5 0h1.5m1 0h1.5m4.9 0h2m0.5 0h6m0.5 0h1.5m1.5 0h1.5m1.4 0h3m3 0h2m5 0h3m5.9 0h4.5m1 0h4m5 0h2.5M87.5 396.30h1.5m1.5 0h1.5m3.9 0h1.5m3 0h1.5m8 0h3m11.4 0h1.5m12.9 0h1.5m1 0h1.5m7.5 0h1.5m6.4 0h1.5m1 0h1.5m3.5 0h2m9.9 0h1.5m8 0h1.5m3.9 0h1.5m2 0h1.5m1.5 0h1.5m1.5 0h1.5m2 0h2.5m3.9 0h1.5m5.5 0h1.5m2 0h1.5m1 0h2.5m0.5 0h3m1.9 0h1.5m10 0h1.5m13.9 0h1.5m4 0h5.5m12.4 0h1.5m12.9 0h2m7.5 0h1.5m0.5 0h3m2.9 0h1.5m3 0h1.5m0.5 0h1.5m0.5 0h2m0.5 0h1.5m1 0h1.5m5.9 0h4m6 0h1.5m4.4 0h1.5m3.5 0h1.5m3.5 0h1.5m2 0h1.5m0.5 0h1.5m4.9 0h1.5m5.5 0h1.5m5.5 0h1.5m1.9 0h2m7 0h2.5m17.9 0h3m2 0h1.5m5.4 0h1.5m4 0h1.5m5 0h1.5m0.5 0h1.5m1.5 0h2.5m3.4 0h1.5m1.5 0h1.5m0.5 0h2.5m2 0h1.5m0.5 0h1.5m3.4 0h3m10 0h2m2 0h1.5m8.4 0h2m7 0h1.5m3.4 0h1.5m1.5 0h1.5m4 0h3.5m4 0h1.5m0.4 0h1.5m3.5 0h1.5m6.5 0h3m12.9 0h1.5m1 0h1.5M80 393.51h1.5m4 0h1.5m1 0h4.5m5.4 0h2m1.5 0h1.5m8 0h1.5m0.4 0h1.5m7 0h2.5m5.5 0h3.5m1.9 0h2.5m1 0h2m0.5 0h1.5m10.4 0h1.5m13 0h3m5.9 0h1.5m3.5 0h2.5m1.5 0h1.5m7.4 0h1.5m10.5 0h2m3.4 0h1.5m8 0h1.5m10.4 0h2m0.5 0h1.5m1 0h1.5m2 0h1.5m1 0h1.5m3 0h2.5m5.4 0h1.5m3.5 0h1.5m0.5 0h2m5.5 0h1.5m4.9 0h1.5m10.5 0h1.5m1.9 0h1.5m3.5 0h1.5m0.5 0h1.5m7 0h1.5m1 0h1.5m2.4 0h2.5m1 0h3m2.5 0h5m1.5 0h1.5m2.4 0h1.5m0.5 0h3m1 0h2m11.9 0h2m7 0h3.5m1.5 0h1.5m8.4 0h1.5m6.5 0h1.5m0.5 0h1.5m1 0h1.5m0.4 0h1.5m3.5 0h1.5m1 0h2m3.5 0h1.5m0.5 0h2m1.5 0h1.5m6.4 0h2.5m1 0h2.5m7.4 0h4m0.5 0h1.5m2.5 0h3m1 0h3.5m0.5 0h1.5m0.5 0h1.5m4.4 0h1.5m4.5 0h1.5m2.5 0h1.5m0.5 0h1.5m15.4 0h1.5m3.9 0h2.5m2 0h1.5m1.5 0h2m1.5 0h1.5m0.5 0h2m5.4 0h1.5m14.5 0h1.5m7.4 0h1.5m1.5 0h1.5m19.4 0h1.5m5.5 0h2m1.4 0h1.5M82.5 390.72h1.5m5 0h1.5m12.4 0h1.5m5.5 0h3m8.9 0h1.5m3 0h2.5m1.5 0h1.5m0.9 0h1.5m6 0h1.5m7 0h1.5m1.9 0h1.5m1.5 0h1.5m1 0h1.5m3 0h2m5 0h1.5m1.4 0h1.5m2 0h1.5m10.5 0h1.5m0.5 0h1.5m6.9 0h1.5m1.5 0h1.5m2 0h1.5m7.9 0h2m0.5 0h1.5m3 0h1.5m1 0h3m12.4 0h1.5m9 0h1.5m1.4 0h1.5m3.5 0h4m6 0h1.5m2.9 0h1.5m5 0h2.5m20.4 0h1.5m8.9 0h1.5m3 0h3.5m1.5 0h1.5m6 0h1.5m1 0h1.5m7.9 0h4.5m2 0h1.5m4.9 0h1.5m6 0h3m5.5 0h1.5m1.4 0h1.5m2 0h1.5m7 0h1.5m3.5 0h1.5m5.9 0h1.5m10 0h1.5m5.4 0h1.5m5.5 0h1.5m1.5 0h2m0.5 0h1.5m8.4 0h1.5m2 0h1.5m7.5 0h1.5m3.4 0h2m2.5 0h2.5m6 0h1.5m3.9 0h1.5m18.4 0h1.5m3.5 0h1.5m3.5 0h1.5m0.5 0h2.5m3.4 0h1.5m7.5 0h1.5m1 0h2m1 0h2m4.4 0h1.5m0.5 0h1.5m5.5 0h2.5m0.5 0h1.5m3.5 0h1.5m1.9 0h1.5m3.5 0h1.5m4.5 0h4.5m1 0h2.0M83 387.94h1.5m0.5 0h1.5m1.5 0h4.5m7.4 0h2.5m7 0h3m0.4 0h3m1.5 0h1.5m1 0h1.5m2 0h1.5m1 0h1.5m0.5 0h1.5m0.5 0h1.5m11.4 0h1.5m1.5 0h1.5m5.9 0h1.5m7.5 0h1.5m1 0h2.5m1 0h1.5m4.9 0h1.5m11.5 0h3m3.9 0h2m6.5 0h1.5m1.5 0h1.5m0.5 0h2m0.5 0h2.5m2.9 0h1.5m5 0h1.5m0.5 0h2m0.5 0h1.5m12.4 0h1.5m2 0h1.5m1 0h2.5m3.9 0h1.5m9.5 0h1.5m0.5 0h1.5m2.5 0h2m10.9 0h1.5m3 0h1.5m7.9 0h1.5m1.5 0h1.5m5 0h4m11.9 0h1.5m0.5 0h1.5m3 0h1.5m10.4 0h2.5m11.4 0h1.5m23.9 0h1.5m0.5 0h3m0.5 0h1.5m0.5 0h1.5m2.9 0h1.5m6 0h3m1 0h1.5m1.5 0h1.5m4.9 0h1.5m0.5 0h2m5.5 0h1.5m2 0h2.5m2.4 0h2m0.5 0h1.5m6 0h1.5m1 0h1.5m1 0h3.5m3.9 0h3m0.5 0h1.5m1.5 0h3m0.5 0h1.5m4 0h1.5m6.4 0h1.5m5.5 0h1.5m1 0h1.5m2.9 0h1.5m4 0h1.5m3 0h1.5m1 0h1.5m5 0h1.5m6.9 0h1.5m1.5 0h2.5m8.4 0h1.5m2.5 0h1.5m1.5 0h2.5m2 0h1.5m2.5 0h1.5m4.4 0h1.5m1 0h1.5m5 0h4m1 0h1.5m1.4 0h1.5M83.5 385.15h1.5m8.4 0h2m1 0h1.5m12 0h1.5m16.9 0h1.5m8.4 0h1.5m7 0h1.5m9.4 0h1.5m5 0h2m2 0h1.5m4.9 0h1.5m1.5 0h1.5m6.5 0h1.5m0.5 0h2m7.4 0h1.5m4 0h1.5m1 0h1.5m0.5 0h2.5m0.5 0h3m5.9 0h2.5m16.4 0h1.5m6 0h1.5m6.9 0h1.5m4.5 0h1.5m3 0h1.5m0.5 0h2m3.4 0h2.5m0.5 0h1.5m2.5 0h1.5m0.5 0h2m2.5 0h1.5m3 0h1.5m6.4 0h1.5m0.5 0h1.5m10.4 0h1.5m2 0h1.5m3.5 0h1.5m7.5 0h1.5m1.4 0h2.5m4.5 0h1.5m9.5 0h1.5m4.9 0h4m11.4 0h1.5m4 0h3m1 0h2m7.9 0h1.5m1 0h4m8.5 0h4m2.9 0h1.5m6.5 0h1.5m1.5 0h1.5m1.5 0h1.5m5.9 0h1.5m10 0h1.5m5.9 0h1.5m8.5 0h5.5m2.9 0h1.5m3 0h2m0.5 0h1.5m9 0h2m2.4 0h3m2 0h1.5m2.5 0h1.5m2.5 0h3m0.4 0h1.5m1 0h2m3.5 0h2m2 0h1.5m7.4 0h3.5m5.5 0h1.5m4 0h1.5m3.9 0h1.5m0.5 0h1.5M79.5 382.36h1.5m7 0h2m4.9 0h1.5m4 0h1.5m1 0h2m3 0h2m1.5 0h1.5m2.4 0h1.5m8 0h1.5m4.5 0h1.5m1.9 0h1.5m13 0h1.5m3.4 0h1.5m10.5 0h2.5m1.5 0h1.5m1.9 0h1.5m0.5 0h1.5m1 0h1.5m4 0h1.5m1.5 0h4m1.4 0h1.5m1 0h1.5m3.5 0h3m5 0h1.5m0.5 0h3m0.9 0h1.5m6 0h1.5m11.9 0h1.5m2 0h2.5m2 0h1.5m19.4 0h1.5m1.5 0h1.5m1 0h1.5m4.4 0h4.5m1 0h1.5m0.5 0h3m1.5 0h3m0.5 0h2.5m2.9 0h1.5m2.5 0h3m2 0h2.5m1 0h3m1.9 0h1.5m1.5 0h1.5m2 0h1.5m1 0h1.5m6.5 0h1.5m0.4 0h1.5m1.5 0h2m8.5 0h1.5m2.5 0h3m2.4 0h1.5m0.5 0h1.5m10 0h1.5m7.9 0h1.5m0.5 0h3.5m1.5 0h3m0.5 0h4m3.9 0h1.5m6 0h1.5m3.5 0h1.5m0.5 0h1.5m9.4 0h1.5m4 0h1.5m1.5 0h1.5m9.9 0h1.5m9.4 0h1.5m1 0h3m3 0h1.5m2 0h1.5m12.9 0h1.5m1.5 0h2m6.5 0h1.5m8.9 0h4.5m6.4 0h1.5m2 0h2.5m1.5 0h3m0.5 0h1.5m5.5 0h1.5m2.4 0h1.5m5.5 0h2m2 0h4.5m0.5 0h2.5m4.4 0h2m9 0h1.5m1.9 0h2.0M80 379.57h2m4.5 0h2.5m0.5 0h1.5m14.4 0h3m3.4 0h5.5m1.5 0h1.5m3 0h1.5m0.5 0h5.5m2.4 0h1.5m4 0h2.5m4 0h1.5m4 0h1.5m0.4 0h2m3.5 0h1.5m8.5 0h1.5m2.9 0h2.5m1 0h1.5m3.5 0h1.5m0.5 0h2.5m4 0h3m1.9 0h3m2.5 0h1.5m2 0h1.5m2 0h1.5m1.5 0h5m0.4 0h1.5m5 0h1.5m4 0h2.5m1.4 0h1.5m1.5 0h2.5m0.5 0h1.5m4.5 0h1.5m0.5 0h3.5m2.9 0h1.5m2 0h1.5m2 0h1.5m2 0h1.5m2 0h1.5m1 0h1.5m3.9 0h2m3 0h4.5m3.5 0h1.5m3 0h2m2.4 0h4.5m5 0h3.5m1.5 0h1.5m0.9 0h1.5m2.5 0h1.5m2 0h2.5m9.9 0h3.5m1.5 0h2.5m0.5 0h2m1.5 0h1.5m4.5 0h3.5m2.4 0h1.5m1.5 0h1.5m1 0h1.5m0.5 0h2m0.5 0h4m2.9 0h3m1.5 0h1.5m0.5 0h1.5m4 0h2.5m2 0h2.5m2.4 0h2m5.5 0h2.5m0.5 0h4m2 0h1.5m0.4 0h3.5m2.5 0h3m5 0h1.5m0.5 0h4.5m0.9 0h1.5m1 0h1.5m6.5 0h1.5m5.9 0h1.5m4.5 0h1.5m3.5 0h1.5m3.5 0h1.5m6.4 0h1.5m3.5 0h2m0.5 0h1.5m2.5 0h1.5m1.4 0h1.5m1.5 0h2.5m8.5 0h2.5m0.5 0h1.5m0.5 0h1.5m0.9 0h1.5m1 0h2.5m6 0h1.5m3.5 0h2.5m1.9 0h1.5m2.5 0h1.5m1 0h1.5m0.5 0h2.5m5.5 0h3m3.4 0h2.5m0.5 0h3m1.5 0h1.5m0.5 0h1.5m5.4 0h1.5M81.5 376.79h3.5m1.5 0h1.5m0.5 0h1.5m7.9 0h5m1 0h2.5m0.5 0h1.5m2.5 0h2m0.4 0h1.5m0.5 0h1.5m4.5 0h2.5m2 0h3m2.9 0h3.5m1.5 0h3m6.5 0h1.5m1.5 0h1.5m8.9 0h2.5m1.5 0h1.5m4 0h2m3.4 0h1.5m1 0h3.5m4 0h3m0.5 0h1.5m1.5 0h1.5m1.4 0h5m2 0h1.5m1 0h2m5.9 0h5m2 0h1.5m3 0h1.5m0.5 0h1.5m2.5 0h4m0.9 0h1.5m1.5 0h1.5m1.5 0h1.5m4 0h1.5m1.5 0h3m0.9 0h1.5m2.5 0h1.5m0.5 0h2m0.5 0h1.5m0.5 0h3.5m1.5 0h4.5m1.9 0h5.5m0.5 0h3.5m0.5 0h3m0.5 0h4.5m0.4 0h6m0.5 0h1.5m3 0h1.5m3 0h2m0.5 0h1.5m1.9 0h2.5m1 0h1.5m1 0h7m1 0h1.5m2.9 0h1.5m1.5 0h1.5m0.5 0h5.5m0.5 0h1.5m3 0h1.5m1.9 0h4.5m4 0h1.5m4.5 0h2.5m1 0h1.5m0.9 0h2.5m1 0h6m2.5 0h4.5m0.5 0h6m5.4 0h2.5m5.5 0h8m1.4 0h1.5m0.5 0h1.5m0.5 0h2m1 0h4m0.5 0h3.5m0.4 0h1.5m1.5 0h2.5m4 0h2m4.5 0h1.5m1.4 0h1.5m3 0h3.5m4 0h3m0.5 0h1.5m2.9 0h1.5m5.5 0h4.5m2.5 0h3m2.4 0h2m3 0h1.5m7 0h2m4.9 0h2m2.5 0h1.5m1 0h7m2 0h1.5m1 0h2m1.4 0h2.5m2 0h2.5m6 0h1.5m0.5 0h2m1.4 0h1.5m4.5 0h5m0.5 0h1.5m2 0h4.5M79 374.00h1.5m0.5 0h2m1 0h2m0.5 0h1.5m3 0h1.5m1.9 0h4.5m0.5 0h3m3.5 0h1.5m6.4 0h1.5m4.5 0h2.5m1.5 0h1.5m0.5 0h2.5m5.9 0h1.5m0.5 0h1.5m6 0h5m9.4 0h6m0.5 0h7.5m0.9 0h1.5m2 0h5.5m0.5 0h1.5m1.5 0h2.5m1.5 0h3m0.9 0h1.5m0.5 0h1.5m0.5 0h2.5m1 0h1.5m2 0h2.5m4 0h2.5m0.9 0h1.5m4.5 0h1.5m1 0h3m1.5 0h1.5m1 0h1.5m0.4 0h1.5m3.5 0h4m0.5 0h3.5m4.5 0h1.5m1.4 0h1.5m2 0h11m1 0h3.5m1.4 0h1.5m2 0h4.5m2 0h1.5m1.5 0h4.5m0.5 0h1.5m1.4 0h4m2 0h1.5m1.5 0h1.5m0.5 0h1.5m1.5 0h3.5m0.9 0h1.5m0.5 0h2.5m0.5 0h2.5m0.5 0h1.5m2.5 0h1.5m0.5 0h5.5m1.9 0h1.5m0.5 0h1.5m3 0h1.5m3.5 0h1.5m4.4 0h3m1.5 0h6m1 0h1.5m1 0h1.5m2 0h3m2.9 0h1.5m0.5 0h1.5m0.5 0h2.5m3 0h2.5m1 0h3.5m3.4 0h5.5m0.5 0h4m3 0h1.5m1.5 0h5m1.4 0h1.5m0.5 0h1.5m10.9 0h3m1 0h1.5m1.5 0h4m2 0h4.5m0.5 0h4.5m0.4 0h2m0.5 0h5m6 0h5m0.4 0h5.5m1 0h1.5m2.5 0h8m3.4 0h3m0.5 0h1.5m3.5 0h2m2.5 0h10.5m0.9 0h1.5m1.5 0h1.5m1 0h8.5m7.4 0h1.5m2.5 0h2m1 0h1.5m3.9 0h4.5m1 0h1.5m0.5 0h1.5m3.5 0h3m1.9 0h1.5M79.5 371.21h3m2.5 0h1.5m1 0h1.5m2.5 0h1.5m7.9 0h1.5m4 0h1.5m3 0h1.5m10.9 0h2.5m2.5 0h1.5m1.5 0h1.5m6.9 0h3.5m3 0h1.5m2.5 0h1.5m0.4 0h1.5m4.5 0h1.5m0.5 0h3m1.5 0h1.5m9.4 0h4m3.5 0h3m10.4 0h1.5m3 0h2m4.5 0h2.5m2.4 0h2m8.5 0h1.5m2.5 0h2m11.9 0h1.5m5.5 0h1.5m1.5 0h1.5m0.4 0h1.5m2.5 0h1.5m6 0h2.5m1 0h1.5m3.4 0h4m1.5 0h5m2.5 0h1.5m28.8 0h1.5m2 0h1.5m1 0h1.5m1 0h1.5m3.5 0h2m3.9 0h1.5m3.5 0h1.5m0.5 0h4m6.9 0h1.5m15.9 0h2m0.5 0h1.5m1.5 0h1.5m2 0h1.5m2.5 0h1.5m1 0h1.5m1.5 0h1.5m5.4 0h2m5 0h1.5m5 0h1.5m3.4 0h1.5m2 0h1.5m1 0h1.5m1 0h1.5m1.5 0h3m3.4 0h1.5m11.5 0h1.5m0.5 0h3m5.9 0h4m1.5 0h1.5m13.4 0h2.5m9.5 0h2m4.9 0h3m0.5 0h1.5m2.5 0h1.5m1 0h1.5m5.4 0h1.5m6.5 0h1.5m4.5 0h5m1.9 0h1.5m4 0h1.5m3 0h1.5m0.5 0h1.5m1.5 0h1.5m0.9 0h1.5m4.5 0h1.5m6.5 0h2.5m1.5 0h1.5M82 368.43h1.5m8.9 0h1.5m5.5 0h1.5m6 0h1.5m1.5 0h2.5m0.9 0h1.5m1.5 0h2m0.5 0h2m1 0h2.5m3 0h1.5m1 0h1.5m0.9 0h1.5m1 0h3m2 0h6m1 0h1.5m5.4 0h1.5m0.5 0h1.5m5 0h1.5m3 0h1.5m0.5 0h1.5m4.9 0h2.5m9 0h1.5m2.5 0h1.5m4.4 0h1.5m5 0h1.5m1 0h2m2.5 0h1.5m0.9 0h1.5m4 0h3m0.5 0h2.5m0.5 0h5.5m1.4 0h3m3.5 0h1.5m0.5 0h1.5m0.5 0h1.5m0.5 0h2m1 0h4.5m1.9 0h1.5m2 0h1.5m10 0h2.5m0.4 0h1.5m1.5 0h1.5m5.5 0h2m2 0h2.5m3.5 0h2m1.9 0h3m0.5 0h3m2 0h2m1 0h1.5m2 0h1.5m6.9 0h1.5m2.5 0h1.5m3 0h1.5m2.9 0h1.5m1 0h1.5m3 0h1.5m6 0h3m0.5 0h1.5m0.4 0h1.5m1.5 0h4m1.5 0h1.5m1.5 0h3m3 0h2m3.9 0h1.5m0.5 0h2m2.5 0h2m0.5 0h5.5m1 0h1.5m0.9 0h3m2.5 0h2m1.5 0h1.5m1 0h2.5m1 0h1.5m2.4 0h1.5m2.5 0h1.5m1 0h1.5m1.5 0h3m0.5 0h1.5m2.5 0h1.5m1.9 0h1.5m18.4 0h1.5m3.5 0h2m6 0h1.5m0.5 0h4m3.9 0h2.5m1 0h3m5.5 0h4.5m1.4 0h6m7 0h1.5m4.4 0h3.5m8 0h1.5m4.5 0h1.5m3.4 0h1.5m3 0h1.5m0.5 0h2m3.5 0h3m1.4 0h4.5m1 0h1.5m1.5 0h4.5m4 0h5.5M80.5 365.64h1.5m1.5 0h1.5m0.5 0h2.5m2.5 0h3m0.9 0h1.5m0.5 0h2m3 0h1.5m0.5 0h1.5m0.5 0h1.5m1 0h1.5m0.5 0h2m1.9 0h3m1 0h5m2 0h2m1.5 0h2m0.5 0h1.5m1.4 0h1.5m2 0h1.5m8 0h1.5m2 0h11m0.4 0h1.5m1.5 0h1.5m0.5 0h4m0.5 0h1.5m1.4 0h7m1 0h3.5m2 0h1.5m4.9 0h3m1.5 0h9.5m0.5 0h2.5m0.9 0h5m1.5 0h1.5m2.5 0h1.5m7 0h6m1.4 0h7m2 0h3.5m1.4 0h7.5m0.5 0h3.5m5.5 0h1.5m0.4 0h2.5m3.5 0h2m2 0h1.5m5 0h4.5m1.9 0h2m6 0h1.5m1.5 0h1.5m1.5 0h5.5m0.4 0h3.5m1.5 0h1.5m2 0h7m1 0h4.5m4.9 0h2.5m2 0h2m0.5 0h2m1 0h3.5m1.4 0h2m0.5 0h1.5m0.5 0h6.5m0.5 0h2.5m1.9 0h2.5m3.5 0h6.5m0.5 0h1.5m1 0h1.5m4.4 0h1.5m1.5 0h1.5m0.5 0h3m1.5 0h3.5m1 0h3.5m0.5 0h2.5m0.9 0h3m1.5 0h1.5m0.5 0h10.5m0.4 0h1.5m3.5 0h3m9 0h1.5m1 0h1.5m0.9 0h1.5m1 0h2.5m8 0h1.5m0.5 0h1.5m5.9 0h1.5m0.5 0h2m1.5 0h1.5m0.5 0h1.5m1.5 0h2m8.9 0h1.5m1.5 0h2.5m4 0h3m2.4 0h1.5m1.5 0h1.5m0.5 0h1.5m1.5 0h2.5m0.5 0h1.5m2.5 0h1.5m0.5 0h1.5m1.9 0h1.5m3.5 0h1.5m4 0h4m1 0h3.5m2.4 0h1.5m8.5 0h3.5m3.9 0h1.5M80 362.85h1.5m3 0h5m2.9 0h1.5m6.5 0h6m5.9 0h2.5m17.4 0h1.5m1 0h1.5m1 0h1.5m1 0h1.5m2.5 0h1.5m1 0h1.5m0.5 0h1.5m1.5 0h2m4.4 0h2m5.5 0h1.5m1 0h1.5m7.4 0h3m3.5 0h2m3.5 0h1.5m4.4 0h1.5m3.5 0h2.5m1 0h1.5m0.5 0h3m2.5 0h2.5m4.9 0h1.5m0.5 0h1.5m1 0h7m7.4 0h3m0.5 0h1.5m4 0h1.5m15.9 0h1.5m2.5 0h1.5m4.9 0h1.5m3 0h1.5m4.5 0h2m1.5 0h1.5m6.9 0h2.5m0.5 0h2m2 0h3.5m1 0h1.5m1.5 0h1.5m11.9 0h3m1.5 0h4m6.4 0h2m3 0h1.5m2.5 0h1.5m1 0h1.5m1.4 0h1.5m6 0h2m4 0h2.5m3.4 0h1.5m1 0h1.5m2 0h3.5m4 0h2m0.5 0h1.5m7.4 0h1.5m3.5 0h1.5m2.5 0h1.5m7.4 0h1.5m1 0h2m4 0h3m8.9 0h1.5m3 0h2m7 0h3m6.9 0h2.5m6.5 0h1.5m2.9 0h1.5m8.5 0h1.5m4.5 0h1.5m19.8 0h3m0.5 0h1.5m6.5 0h3m1 0h2m3.4 0h2m6.5 0h1.5m7 0h1.5m10.9 0h1.5m1.5 0h1.5m6.4 0h1.5M79.5 360.06h2.5m3 0h3m0.5 0h1.5m1.5 0h3m0.4 0h1.5m5 0h2m5 0h2.5m0.5 0h3m1.9 0h2.5m1.5 0h2.5m8.5 0h1.5m0.4 0h7.5m1 0h5m1.5 0h2.5m3.4 0h1.5m3.5 0h2.5m1 0h1.5m1 0h1.5m1.5 0h2.5m2.4 0h3m1.5 0h2m0.5 0h2m0.5 0h1.5m4 0h11.4m1.5 0h6.5m5.4 0h3.5m1 0h4m1.5 0h1.5m1 0h2m1 0h1.5m1 0h1.5m3.4 0h1.5m0.5 0h2m4 0h2m0.5 0h1.5m5.4 0h1.5m0.5 0h5.5m1.5 0h3.5m3 0h4.5m0.9 0h1.5m1.5 0h4.5m0.5 0h1.5m2 0h2.5m2.5 0h2m1.4 0h4.5m2 0h2m1.5 0h1.5m3.5 0h2.5m0.4 0h2.5m1.5 0h8m0.5 0h3.5m3.9 0h1.5m2.5 0h2m0.5 0h1.5m0.5 0h1.5m5 0h1.5m0.5 0h1.5m2.9 0h2m1 0h1.5m5 0h2m4.5 0h1.5m4.4 0h1.5m1.5 0h2.5m6.5 0h1.5m7.4 0h3m3 0h1.5m7 0h2m2.4 0h5m0.5 0h1.5m0.5 0h1.5m0.5 0h1.5m1 0h1.5m11.4 0h2.5m1 0h1.5m11.9 0h2.5m4.5 0h4m0.5 0h4m5.4 0h1.5m1.5 0h1.5m0.5 0h5.5m1 0h8m1.4 0h2m1 0h1.5m3 0h5.5m1.4 0h1.5m0.5 0h2m1.5 0h5m3 0h2.5m0.5 0h3m6.9 0h1.5m3.5 0h3m8.9 0h1.5m1 0h1.5m4.5 0h2m1.5 0h3.0M81.5 357.28h1.5m2 0h2.5m0.5 0h1.5m0.5 0h2.5m2.4 0h1.5m1 0h1.5m4 0h2m1.5 0h1.5m3.5 0h3m2.9 0h2.5m0.5 0h5m4 0h1.5m4.9 0h1.5m1 0h1.5m1 0h1.5m3 0h1.5m3 0h1.5m7.9 0h1.5m2 0h1.5m0.5 0h1.5m3 0h1.5m0.5 0h2m0.9 0h1.5m0.5 0h1.5m3 0h1.5m1 0h1.5m3.5 0h1.5m1 0h1.5m1.4 0h1.5m0.5 0h3.5m1 0h3m3 0h1.5m1 0h2m0.9 0h1.5m0.5 0h3m1 0h7.5m4 0h2.5m0.4 0h4m3 0h3m1 0h3.5m2 0h1.5m0.5 0h5m1.9 0h1.5m0.5 0h2.5m2.5 0h4m3.4 0h2m0.5 0h2.5m1.5 0h1.5m1.5 0h1.5m2 0h1.5m1 0h1.5m2 0h1.5m4.4 0h1.5m0.5 0h2m2.5 0h6.5m1.9 0h1.5m2 0h4.5m1 0h2m11.4 0h1.5m1 0h1.5m0.5 0h1.5m0.5 0h6m0.5 0h3.5m0.4 0h3m1 0h1.5m1 0h4m3.5 0h5m5.9 0h1.5m1.5 0h2m1.5 0h2m3.5 0h5.5m0.9 0h2m1 0h3m8 0h1.5m2.4 0h1.5m2.5 0h3m0.5 0h2m1.5 0h1.5m3 0h2m0.5 0h2m9.9 0h1.5m1 0h3.5m6.9 0h1.5m4.5 0h4.5m1 0h1.5m3.9 0h1.5m1 0h1.5m1.5 0h1.5m3 0h2.5m1.5 0h1.5m2.5 0h1.5m0.4 0h8m1.5 0h4m4 0h1.5m0.4 0h3m0.5 0h3m5.5 0h1.5m5 0h1.5m2.9 0h6m5.5 0h4.5m1.4 0h1.5m1.5 0h1.5m0.5 0h2m1.5 0h1.5m1 0h1.5M79.5 354.49h2.5m1 0h1.5m2 0h2m0.5 0h1.5m1.4 0h1.5m1.5 0h3m2 0h1.5m1 0h1.5m4 0h2m1.9 0h5.5m0.5 0h1.5m1 0h1.5m1 0h4m0.5 0h3.5m0.9 0h1.5m0.5 0h3m3 0h3m1 0h3m0.5 0h2.5m3.9 0h2.5m1 0h1.5m1 0h8m2 0h1.5m3.4 0h3.5m2.5 0h3m2.5 0h6.5m0.4 0h3m1 0h3.5m3 0h2m2 0h4.5m1.4 0h3m2 0h1.5m0.5 0h1.5m1 0h1.5m0.5 0h10m1.9 0h3m0.5 0h11.9m0.5 0h3.5m1 0h1.5m2 0h3m1 0h2m4.4 0h1.5m0.5 0h5.5m1 0h4m1 0h2.5m1.5 0h10m0.9 0h2m0.5 0h5m3.9 0h1.5m1 0h3m2.5 0h8.5m2.5 0h4m0.9 0h5.5m1 0h1.5m0.5 0h1.5m1 0h5.5m0.9 0h1.5m1.5 0h4.5m1 0h3.5m2 0h1.5m2.9 0h1.5m1.5 0h5.5m0.5 0h4m1 0h5m0.9 0h3.5m0.5 0h1.5m0.5 0h5.5m3 0h8m0.9 0h3m1 0h1.5m1.5 0h4m1 0h4m3.9 0h6.5m1 0h3.5m2 0h5m0.4 0h1.5m1.5 0h7m0.5 0h4m2 0h1.5m4.9 0h1.5m1 0h7m0.5 0h5m0.4 0h2m1.5 0h1.5m1.5 0h1.5m3.5 0h1.5m0.5 0h2.5m2 0h1.5m0.9 0h2m2 0h1.5m1 0h7m2 0h6.5m0.4 0h4.5m0.5 0h3m0.5 0h5m0.5 0h1.5m0.5 0h2.5m3.4 0h10.5m2 0h2m0.4 0h2.5M79 351.70h1.5m0.5 0h4.5m1 0h6.5m3.4 0h2m0.5 0h5.5m2.5 0h10.5m0.9 0h8.5m2 0h1.5m2.9 0h1.5m1.5 0h2m5 0h5.5m4.9 0h1.5m1.5 0h2.5m1 0h8m8.4 0h3m1.5 0h1.5m1 0h2m2.5 0h2.5m0.9 0h10.5m1 0h4.5m3.5 0h1.5m1.9 0h2.5m2 0h7.5m0.5 0h2m1 0h1.5m4.4 0h2.5m1 0h1.5m0.5 0h6.5m0.5 0h2.5m2.4 0h6m0.5 0h2.5m0.5 0h4m3.5 0h1.5m4.4 0h3.5m0.5 0h7m0.5 0h3.5m0.4 0h8m1.5 0h1.5m6 0h3.5m0.4 0h1.5m1.5 0h1.5m1 0h7.5m0.5 0h8.5m1.4 0h5.5m2 0h2.5m0.5 0h1.5m6.9 0h1.5m6 0h5.5m1 0h7m0.4 0h2m3 0h5m0.5 0h1.5m0.5 0h1.5m0.4 0h3m1 0h2m1.5 0h1.5m1 0h1.5m2 0h2m2 0h4.5m0.4 0h4m1 0h4m1 0h1.5m0.5 0h3.5m0.5 0h3m1.9 0h1.5m2.5 0h2.5m0.5 0h1.5m0.5 0h1.5m3 0h2.5m0.9 0h2.5m0.5 0h1.5m1 0h2m0.5 0h3.5m3.5 0h4.5m0.4 0h3m0.5 0h2m2 0h2m3 0h8.5m1.9 0h5.5m1 0h1.5m1 0h4m1.5 0h3m0.4 0h2.5m1 0h2.5m3 0h2m1.5 0h4.5m2.9 0h1.5m0.5 0h8m3 0h1.5m2 0h2m1.4 0h7.5m1 0h5.5m0.5 0h1.5m2.5 0h3.0M79.5 348.92h2.5m1 0h6m2 0h4m2.4 0h1.5m1.5 0h3.5m0.5 0h1.5m1.5 0h3m3.4 0h2.5m1 0h1.5m1 0h2m5 0h3m1 0h1.5m0.4 0h6.5m2.5 0h1.5m4 0h3m1 0h2m1.4 0h3m2 0h2.5m1 0h1.5m3.5 0h1.5m0.5 0h4m0.9 0h1.5m1.5 0h2.5m0.5 0h1.5m0.5 0h1.5m1 0h1.5m1 0h1.5m1.9 0h1.5m3.5 0h2.5m1.5 0h1.5m2.5 0h1.5m3.5 0h1.5m1.4 0h1.5m2 0h3.5m1 0h4.5m5 0h2.5m1.4 0h4.5m0.5 0h1.5m0.5 0h1.5m3.5 0h1.5m3 0h4m4.4 0h9m2.5 0h2.5m4.4 0h2m0.5 0h6m1 0h1.5m0.5 0h3m1.4 0h1.5m2 0h3m0.5 0h8m1 0h4.5m1.4 0h3m0.5 0h3m1.5 0h7m6.4 0h2m3.5 0h3m1 0h1.5m1 0h1.5m1.4 0h3.5m2 0h6m2 0h1.5m0.5 0h3m0.9 0h2.5m0.5 0h1.5m0.5 0h2.5m2.5 0h3.5m1.5 0h3m3.9 0h1.5m2 0h4.5m3 0h7m1.4 0h2.5m8.5 0h2m2 0h1.5m4.4 0h2m1.5 0h1.5m1.5 0h3.5m3 0h4.5m5.4 0h1.5m4.5 0h1.5m3 0h5m1.4 0h3m0.5 0h1.5m2.5 0h1.5m0.5 0h3.5m2.5 0h1.5m7.4 0h5.5m2 0h3.5m1 0h3m0.9 0h1.5m7 0h2m2.5 0h1.5m3.4 0h3m6.5 0h4.5m1 0h1.5m3.4 0h3m2 0h2m2.5 0h2m1.5 0h2m1.5 0h1.5m1 0h2.5M79.5 346.13h7.5m1.5 0h8m0.4 0h1.5m0.5 0h1.5m3 0h2.5m1 0h1.5m3 0h3m0.9 0h1.5m1 0h3m0.5 0h3.5m5 0h1.5m0.4 0h3.5m1.5 0h2.5m0.5 0h1.5m0.5 0h3m2 0h1.5m4.4 0h1.5m0.5 0h1.5m1 0h4m1 0h1.5m0.5 0h1.5m0.5 0h1.5m2.5 0h2.5m1.9 0h3.5m0.5 0h5m2.5 0h1.5m4.9 0h3.5m3 0h1.5m0.5 0h1.5m1 0h3m2.5 0h1.5m1.9 0h2m2.5 0h2.5m3.5 0h1.5m5.5 0h6m6.9 0h5m1.5 0h2.5m0.4 0h3.5m0.5 0h1.5m1 0h1.5m7.5 0h6m1.4 0h7.5m1 0h5.5m2 0h2.5m1.4 0h1.5m0.5 0h1.5m2 0h1.5m1.5 0h5m1 0h5m1.4 0h4.5m4 0h5m1.5 0h3.5m0.9 0h1.5m0.5 0h2.5m2 0h6.5m4.4 0h2m1.5 0h5.5m1 0h1.5m3 0h1.5m0.5 0h3.5m0.9 0h2m3 0h5.5m1.5 0h1.5m0.5 0h4.5m1.9 0h1.5m3 0h2.5m0.5 0h5.5m1.5 0h4.5m0.9 0h1.5m0.5 0h1.5m0.5 0h1.5m0.5 0h1.5m1 0h3m1.5 0h4.5m0.4 0h4m1.5 0h6m6 0h2m0.9 0h11.4m2.6 0h3m0.9 0h1.5m0.5 0h1.5m7.5 0h1.5m9.4 0h1.5m1 0h1.5m1.5 0h2.5m3 0h3.5m3 0h1.5m3.4 0h1.5m1.5 0h2.5m7 0h8m1.9 0h3m1.5 0h1.5m2 0h1.5m3 0h2.5m2.4 0h1.5m0.5 0h1.5m3 0h3m5 0h1.5m0.9 0h1.5M81.5 343.34h3m1 0h3.5m2.5 0h1.5m4.4 0h1.5m0.5 0h1.5m0.5 0h1.5m2 0h3m2 0h2m5.4 0h3.5m4 0h1.5m1 0h6m0.9 0h1.5m2 0h3m0.5 0h3.5m1.5 0h6m3.4 0h4m4.5 0h3m0.5 0h2m4.9 0h2.5m1.5 0h3.5m0.5 0h2.5m0.5 0h1.5m0.5 0h4m0.9 0h1.5m4 0h3.5m0.5 0h2.5m1 0h1.5m1 0h1.5m2.9 0h5.5m1.5 0h1.5m3.5 0h6.5m1.4 0h2m5 0h1.5m7.5 0h4m0.4 0h2.5m0.5 0h1.5m0.5 0h3m4.5 0h4m1.5 0h1.5m0.9 0h2m0.5 0h1.5m0.5 0h1.5m3.5 0h1.5m1 0h1.5m2.5 0h1.5m1.4 0h2.5m1 0h6m0.5 0h2m4.5 0h1.5m0.9 0h3.5m1.5 0h6m4.5 0h3m0.5 0h1.5m0.9 0h3m2.5 0h7m0.5 0h1.5m3.9 0h3m2 0h7m2 0h1.5m2 0h2m0.9 0h2.5m4 0h5.5m2 0h1.5m2 0h3m0.4 0h14.4m5 0h2.5m3 0h2.5m3 0h3m3 0h1.5m1.4 0h4m3.5 0h2.5m5 0h5m0.9 0h3m1 0h2.5m0.5 0h2.5m2 0h1.5m1 0h1.5m2.4 0h3m1.5 0h1.5m3 0h3.5m0.5 0h1.5m0.5 0h1.5m2.5 0h2m0.4 0h1.5m0.5 0h3m0.5 0h1.5m0.5 0h1.5m1 0h4.5m3.5 0h1.5m0.9 0h1.5m1.5 0h1.5m3.5 0h6m0.5 0h2.5m0.5 0h4.5m0.9 0h3.5m1 0h1.5m1.5 0h2m1 0h6.5m0.9 0h2m4 0h4m1.5 0h4.0M80 340.56h1.5m1.5 0h2.5m0.5 0h1.5m0.5 0h1.5m2.9 0h9.5m0.5 0h2m1.5 0h1.5m3 0h2.5m0.4 0h1.5m0.5 0h11m1.5 0h4m0.4 0h1.5m0.5 0h3m1 0h1.5m0.5 0h1.5m1 0h1.5m0.5 0h4m0.5 0h4m0.4 0h1.5m2.5 0h2m2 0h2m2 0h4m2.9 0h1.5m1 0h8.5m1 0h6.5m2.9 0h4m2.5 0h2m2.5 0h1.5m1 0h10m1.9 0h4m1 0h3m1.5 0h1.5m0.5 0h4.5m5.9 0h3m1 0h1.5m1 0h1.5m1.5 0h1.5m0.4 0h4m1 0h4m0.5 0h4.5m1.5 0h4.5m0.4 0h3m1 0h5m1.5 0h1.5m1 0h1.5m1 0h4.5m0.4 0h8.5m0.5 0h7.5m0.5 0h3m1.4 0h6m0.5 0h21.9m1 0h4m0.5 0h1.5m0.4 0h10.5m3 0h3m0.5 0h2m0.5 0h5m2.9 0h11.9m1 0h5m1.5 0h5m2 0h3m0.5 0h17.9m2 0h11m0.4 0h1.5m0.5 0h1.5m1 0h1.5m0.5 0h1.5m2 0h6m1.9 0h3.5m0.5 0h5m3.9 0h6.5m1 0h8.5m1 0h1.5m1 0h1.5m0.4 0h2.5m4 0h8m3.9 0h3m0.5 0h3m2 0h4m0.5 0h3.5m1.5 0h7.5m0.4 0h4m0.5 0h6m1 0h2.5m0.9 0h1.5m2.5 0h6.5m2.5 0h2m0.5 0h1.5m1.5 0h2.5M81 337.77h1.5m1.5 0h1.5m0.5 0h6m1.4 0h3m2 0h2m0.5 0h5m2.5 0h1.5m1.5 0h1.5m5.4 0h3m0.5 0h1.5m1 0h1.5m0.5 0h2.5m4.9 0h2m0.5 0h1.5m1 0h2.5m0.5 0h1.5m4 0h1.5m1 0h1.5m0.4 0h2m0.5 0h2m1.5 0h1.5m1 0h2.5m0.5 0h1.5m2.5 0h2.5m2.4 0h1.5m1.5 0h1.5m2 0h6m1 0h6m1.9 0h1.5m2.5 0h1.5m1.5 0h4.5m1 0h1.5m7.9 0h1.5m0.5 0h2.5m0.5 0h3m2 0h9m0.4 0h3.5m2 0h2.5m2 0h1.5m3.5 0h5m5.4 0h2m1 0h1.5m2 0h2m1 0h2m0.4 0h1.5m1 0h1.5m2 0h1.5m2 0h3m1 0h3m1.5 0h1.5m0.4 0h3m4.5 0h1.5m1.5 0h2.5m1 0h1.5m1 0h1.5m0.5 0h3m0.9 0h1.5m1.5 0h2m1 0h2.5m3.5 0h5.5m0.4 0h6m1.5 0h2m1 0h1.5m4.5 0h3m0.4 0h10m1.5 0h4m1.5 0h5.5m1.4 0h2m4 0h1.5m4 0h3.5m0.4 0h3.5m0.5 0h1.5m1.5 0h3m5 0h7m0.4 0h2.5m1 0h1.5m0.5 0h3.5m2 0h4m9.4 0h2m0.5 0h2.5m1.5 0h1.5m0.5 0h2m1 0h2.5m4.9 0h2.5m0.5 0h1.5m1 0h4.5m2.9 0h1.5m2 0h1.5m2 0h1.5m0.5 0h1.5m1 0h4m1 0h1.5m1.5 0h1.5m1.4 0h5.5m4 0h1.5m1 0h1.5m1 0h1.5m1.4 0h1.5m0.5 0h4m0.5 0h2.5m0.5 0h1.5m3 0h1.5m7.4 0h8m2 0h4m2.5 0h3m1.4 0h1.5m2.5 0h3.5m1.5 0h1.5m1 0h3.0M79.5 334.98h1.5m0.5 0h1.5m2 0h1.5m5 0h1.5m1.4 0h3m5 0h5m2 0h4m0.4 0h1.5m2 0h5m0.5 0h1.5m2 0h10m1.9 0h1.5m4 0h1.5m1.5 0h3m0.5 0h1.5m1.4 0h2m1.5 0h4.5m0.5 0h2.5m3 0h1.5m0.5 0h3.5m3.4 0h4.5m0.5 0h3m0.5 0h2m1 0h1.5m1 0h1.5m1.4 0h3m1 0h6m1 0h2m1 0h7m0.4 0h1.5m2 0h3m1 0h2m3.5 0h3.5m0.4 0h1.5m0.5 0h2.5m1.5 0h2m2 0h1.5m1.5 0h3m3.5 0h2.5m2.9 0h2m1 0h1.5m4.5 0h3m1.5 0h2.5m0.9 0h3m2.5 0h3.5m1 0h1.5m2 0h1.5m2 0h2m0.9 0h8.5m2 0h2.5m1 0h1.5m1 0h3.5m0.4 0h1.5m0.5 0h1.5m0.5 0h2m0.5 0h1.5m1.5 0h1.5m3 0h7m0.4 0h4m3.5 0h4.5m3.5 0h4m0.4 0h4.5m0.5 0h3m0.5 0h5m2 0h1.5m0.4 0h2.5m1 0h2m2 0h2m0.5 0h1.5m1 0h1.5m0.5 0h1.5m0.5 0h3.5m2.9 0h1.5m1 0h1.5m3 0h4.5m0.5 0h1.5m0.5 0h1.5m2.9 0h3m2.5 0h2.5m0.5 0h3m1 0h5m2.9 0h1.5m6.5 0h3m2.5 0h5.5m5.4 0h5.5m2 0h1.5m2.5 0h2m5.4 0h2m2.5 0h2.5m1 0h1.5m3.4 0h1.5m0.5 0h1.5m1 0h1.5m1 0h1.5m3.5 0h1.5m0.5 0h1.5m0.5 0h1.5m3.4 0h1.5m2 0h3.5m2 0h1.5m0.5 0h1.5m7.9 0h2m0.5 0h4m2 0h2m2 0h5.5m1.4 0h1.5m1.5 0h5m1.5 0h5.5m2 0h1.5m1.9 0h1.5M81.5 332.19h3.5m0.5 0h3.5m4.9 0h1.5m1 0h4.5m0.5 0h2m2.5 0h2m0.5 0h1.5m0.5 0h2.5m1.4 0h1.5m2 0h3.5m1.5 0h3.5m5 0h2.5m1.9 0h1.5m0.5 0h2.5m0.5 0h2m1 0h1.5m0.5 0h1.5m0.5 0h3m0.5 0h2m3.4 0h3.5m3.5 0h5m1.5 0h3m1.4 0h1.5m0.5 0h1.5m3.5 0h1.5m3 0h3m3.4 0h1.5m0.5 0h6.5m4.5 0h12.9m0.5 0h2.5m2.5 0h1.5m0.5 0h1.5m0.5 0h3m2.4 0h3.5m1 0h1.5m1 0h3m2 0h1.5m2 0h2m0.5 0h4m1.4 0h1.5m2 0h3.5m2 0h5m1.4 0h1.5m0.5 0h2.5m1 0h1.5m3.5 0h2m0.5 0h2.5m1.5 0h5.5m0.4 0h2m0.5 0h1.5m2 0h3.5m4 0h2.5m0.4 0h1.5m1.5 0h2m2.5 0h3m1.5 0h2m0.5 0h11m2.4 0h7.5m0.5 0h2m5.9 0h4m2 0h2.5m1 0h1.5m1 0h3m0.4 0h3.5m0.5 0h1.5m1 0h3m1 0h2m1 0h1.5m1.5 0h2.5m0.5 0h1.5m3.4 0h2.5m2 0h4m1.5 0h4.5m1 0h1.5m2.4 0h4m1.5 0h1.5m1 0h9m0.4 0h1.5m4.5 0h2m3 0h5m0.5 0h2m4.4 0h8m0.5 0h3m0.5 0h1.5m1.5 0h4.5m0.9 0h1.5m5.5 0h1.5m1.5 0h1.5m1 0h1.5m0.9 0h1.5m2 0h1.5m1.5 0h1.5m1 0h5m5 0h4.5m2.9 0h1.5m0.5 0h1.5m1 0h1.5m0.5 0h4m0.5 0h3m0.4 0h1.5m1 0h3.5m4.5 0h1.5m2.5 0h2.5m0.5 0h3m0.4 0h2m1.5 0h1.5m1 0h5.5m0.5 0h2.5m3.5 0h3.5M80.5 329.41h5m2 0h4.5m1.4 0h2.5m0.5 0h2m2 0h2m7 0h3m0.4 0h2m2 0h1.5m5 0h3m1.5 0h3m2.9 0h3m1.5 0h3m0.5 0h4m1.5 0h3.5m6.9 0h1.5m2.5 0h3m2 0h4.5m1.9 0h2.5m2 0h6m1 0h1.5m0.5 0h1.5m6.4 0h3m3.5 0h3m5 0h1.5m2.4 0h1.5m0.5 0h4m2.5 0h1.5m2.5 0h1.5m2 0h2.5m0.4 0h4.5m0.5 0h6m0.5 0h8.5m0.9 0h1.5m1 0h3.5m2 0h1.5m1.5 0h5.5m0.5 0h1.5m4.9 0h2m2 0h1.5m1 0h4m0.5 0h2.5m0.5 0h1.5m0.4 0h4m1 0h4.5m2 0h13.9m1 0h5m1.5 0h4m1.5 0h3.5m2.9 0h10.5m3 0h3.5m0.4 0h2.5m5.5 0h1.5m1.5 0h6.5m1.4 0h1.5m2 0h1.5m2 0h2.5m1 0h1.5m5 0h1.5m1.4 0h8m2.5 0h3m0.5 0h3m0.5 0h1.5m2.9 0h1.5m2 0h2m2 0h6m1 0h7.5m5.9 0h1.5m1 0h3.5m1.5 0h2m0.4 0h2m0.5 0h1.5m1 0h1.5m4.5 0h5.5m1.9 0h3.5m0.5 0h5.5m3 0h3m2.5 0h2m0.9 0h1.5m1.5 0h1.5m0.5 0h2.5m2 0h4m2.5 0h2.5m1.4 0h5m0.5 0h2.5m1 0h2m0.5 0h3m1 0h3m0.4 0h1.5m2 0h1.5m1 0h1.5m3 0h1.5m1.5 0h1.5m1 0h3m0.4 0h5m1.5 0h1.5m0.5 0h7m4 0h1.5M78.5 326.62h1.5m1 0h3.5m0.5 0h6m0.5 0h1.5m0.9 0h2m0.5 0h1.5m0.5 0h1.5m0.5 0h7m0.5 0h2.5m2.9 0h3m0.5 0h3.5m1.5 0h6.5m3.4 0h3.5m1.5 0h1.5m0.5 0h3.5m0.5 0h2.5m1.5 0h6.5m3.4 0h6m2.5 0h2m5.9 0h3m1.5 0h4m2 0h4.5m2 0h3m4.9 0h3m0.5 0h4.5m2.5 0h1.5m2.4 0h1.5m1 0h3m1 0h3.5m0.5 0h3.5m4.5 0h3.5m2.9 0h3m2 0h1.5m0.5 0h2.5m1 0h1.5m3.4 0h1.5m2 0h1.5m1.5 0h11.4m0.5 0h2m0.5 0h2m0.5 0h2.5m0.5 0h3.5m0.5 0h7.5m1.4 0h3.5m2.5 0h4.5m0.5 0h3m2.5 0h1.5m0.5 0h3m0.4 0h9.5m2 0h8m1.9 0h2m1 0h3.5m2.5 0h2m2.5 0h2.5m3.4 0h5m1.5 0h2.5m1 0h3m0.5 0h2m1.4 0h2.5m1.5 0h4.5m2 0h3m0.5 0h6.5m0.9 0h7m0.5 0h1.5m0.5 0h3.5m1 0h8m3.4 0h4m0.5 0h1.5m0.5 0h4.5m4.4 0h1.5m1 0h3m1 0h2.5m1.5 0h1.5m1 0h1.5m1.5 0h1.5m0.4 0h3.5m2 0h3m0.5 0h4m0.5 0h3.5m0.5 0h1.5m0.4 0h1.5m3.5 0h1.5m0.5 0h5.5m6 0h2m0.9 0h6m3.5 0h1.5m1 0h2.5m0.5 0h2m1.4 0h2.5m0.5 0h3.5m2.5 0h3.5m1 0h4.5m1.4 0h1.5m0.5 0h4.5m0.5 0h1.5m1 0h6m0.5 0h3m0.4 0h1.5m1 0h4m1 0h3.5m0.5 0h2m1 0h2m1 0h1.5m1.9 0h2.0M78.5 323.83h2.5m0.5 0h1.5m1 0h3.5m1 0h4m1.9 0h2m2 0h2m7 0h1.5m2 0h2m1.9 0h1.5m1.5 0h5m1 0h1.5m1.5 0h2m1 0h3m9.9 0h4.5m0.5 0h4.5m0.4 0h1.5m3 0h3m1.5 0h4.5m3.5 0h3m0.9 0h4m0.5 0h2.5m1.5 0h1.5m0.5 0h5.5m4.4 0h1.5m0.5 0h1.5m1.5 0h2m4 0h1.5m0.5 0h1.5m0.5 0h1.5m0.5 0h5m2.4 0h3m1.5 0h2m2 0h1.5m4.4 0h4m3 0h2.5m2 0h3m0.5 0h1.5m1 0h4.5m0.4 0h2.5m0.5 0h8.5m1 0h1.5m0.5 0h5m0.4 0h4m2.5 0h4m8.9 0h4m1.5 0h2m1.5 0h1.5m4 0h2m0.4 0h1.5m1.5 0h1.5m1 0h1.5m1.5 0h1.5m0.5 0h3m1 0h1.5m2 0h5m1.4 0h2m0.5 0h1.5m3.5 0h3.5m2 0h5.5m1.4 0h7.5m0.5 0h3m1.5 0h1.5m0.9 0h1.5m3 0h1.5m5.5 0h2m6.9 0h5.5m2.5 0h1.5m2.5 0h2.5m4.5 0h3m0.9 0h1.5m1 0h1.5m0.5 0h4m5 0h3m3.4 0h1.5m3.5 0h1.5m5 0h1.5m2.5 0h1.5m0.4 0h2m3 0h1.5m2 0h1.5m0.5 0h1.5m0.5 0h1.5m0.5 0h5.5m1.9 0h2m1 0h1.5m7 0h2m1 0h1.5m4.4 0h1.5m1 0h1.5m3 0h2.5m2 0h4.5m1.4 0h1.5m0.5 0h1.5m1 0h1.5m1 0h8m4.9 0h1.5m0.5 0h1.5m0.5 0h1.5m0.5 0h4.5m1 0h1.5m1 0h2m2.5 0h4m0.9 0h4.5m0.5 0h1.5m1 0h1.5m0.5 0h1.5m0.5 0h1.5m2.5 0h2.5M82.5 321.05h1.5m0.5 0h2m1 0h2m3.4 0h4m2.5 0h3.5m1 0h3m1 0h2m1 0h4.5m0.9 0h4m1 0h5.5m1 0h2m2.9 0h1.5m1.5 0h4.5m3.5 0h6m1.9 0h1.5m5.5 0h3.5m2 0h2.5m0.5 0h8m0.9 0h1.5m6.5 0h3.5m1.5 0h1.5m0.9 0h1.5m1 0h2m0.5 0h1.5m1 0h1.5m2.5 0h1.5m1.5 0h8.5m1.9 0h2m1.5 0h2.5m1 0h2m5.5 0h8m1.9 0h1.5m0.5 0h1.5m2 0h1.5m0.5 0h2.5m2.4 0h1.5m1 0h7m1 0h2.5m2.5 0h2.5m0.4 0h1.5m2.5 0h2m0.5 0h1.5m0.5 0h7m1 0h2.5m1.9 0h1.5m1.5 0h4.5m2 0h5.5m2.5 0h2m1.9 0h2.5m1 0h2.5m0.5 0h2m0.5 0h1.5m0.5 0h1.5m1 0h6m1.4 0h1.5m1 0h2.5m0.5 0h7.5m2 0h5.5m0.4 0h3m0.5 0h8.5m0.5 0h1.5m0.5 0h1.5m0.4 0h5m0.5 0h4m3 0h4.5m1.9 0h1.5m0.5 0h4m2 0h1.5m0.5 0h1.5m1.5 0h2m1 0h3m0.9 0h2.5m1.5 0h1.5m1 0h6m1.5 0h2m1.5 0h5m0.9 0h5.5m3.5 0h1.5m2 0h6.5m0.9 0h1.5m0.5 0h8.5m0.5 0h2.5m6.9 0h11.9m1.1 0h3.5m1.4 0h1.5m1 0h1.5m3 0h3.5m1.5 0h4m0.5 0h3m0.9 0h8.5m0.5 0h7.5m0.9 0h19.4m0.5 0h2.5m4 0h4m3 0h3m0.5 0h2m1.4 0h1.5M81 318.26h2.5m0.5 0h1.5m0.5 0h2m2.5 0h2.5m2.9 0h7.5m0.5 0h1.5m2.5 0h3m0.5 0h1.5m0.9 0h4.5m1 0h1.5m2 0h1.5m4.5 0h1.5m0.5 0h2m3.4 0h2m2 0h3.5m1.5 0h5m1 0h1.5m2.9 0h1.5m3.5 0h1.5m7 0h5.5m3.4 0h7m0.5 0h3m3.4 0h5.5m0.5 0h3m7.5 0h1.5m1.9 0h1.5m2 0h3.5m6 0h11m1.9 0h1.5m4.5 0h1.5m2 0h4.5m0.4 0h1.5m0.5 0h1.5m1 0h9.5m1 0h2.5m0.5 0h3.5m0.4 0h2m1 0h2m3 0h6.5m0.5 0h1.5m0.5 0h1.5m1.4 0h4m2.5 0h3.5m2.5 0h4m0.4 0h1.5m5.5 0h8m1.5 0h10.5m0.4 0h3m0.5 0h3m0.5 0h3m1.5 0h1.5m0.9 0h1.5m0.5 0h1.5m1 0h6.5m1.5 0h2.5m0.5 0h1.5m1.4 0h1.5m1 0h6m1.5 0h1.5m2.5 0h1.5m4 0h7.5m0.4 0h1.5m0.5 0h1.5m1 0h4m1.5 0h2.5m1.4 0h1.5m2 0h1.5m5 0h4m1.5 0h8m0.4 0h1.5m1.5 0h1.5m3 0h1.5m5.5 0h2.5m3.4 0h6m1 0h3m2.5 0h1.5m0.4 0h1.5m4 0h5m1.5 0h1.5m4 0h5m1.4 0h6.5m2 0h3m1.5 0h1.5m0.9 0h3m2 0h2.5m1.5 0h1.5m0.5 0h1.5m1.5 0h1.5m0.5 0h9.5m1.4 0h2.5m1.5 0h5m0.5 0h2.5m1.4 0h1.5m7.5 0h1.5m2.5 0h1.5m4.5 0h3.5M78.5 315.47h1.5m3.5 0h7m1 0h3.5m0.4 0h3m1.5 0h3.5m2 0h5m1.4 0h3m3 0h2m1 0h9.5m1 0h10m2.4 0h10.5m1.9 0h7m0.5 0h1.5m0.5 0h5m1.4 0h9m2 0h1.5m1 0h9.5m0.4 0h7m0.5 0h1.5m1 0h2m1 0h1.5m0.5 0h3.5m4.9 0h1.5m0.5 0h2.5m2 0h6.5m0.4 0h1.5m0.5 0h7m1 0h1.5m0.5 0h2.5m0.5 0h1.5m1 0h4.5m0.9 0h4m1 0h2.5m2 0h8m2.9 0h4m0.5 0h1.5m0.5 0h1.5m1 0h3m1 0h6.5m0.9 0h20.9m0.5 0h6m1 0h11m0.4 0h11m0.5 0h4.5m0.4 0h3m0.5 0h24.9m2 0h11.4m1 0h11m1.5 0h4m1.9 0h5.5m1.5 0h4m2 0h6m0.4 0h11m2 0h3m1.9 0h1.5m3 0h1.5m1 0h2m1.5 0h6.5m1 0h2.5m1.4 0h3.5m1 0h7.5m3 0h5.5m0.4 0h5.5m0.5 0h10.5m0.4 0h1.5m2 0h6.5m0.5 0h1.5m0.5 0h3m1.5 0h5.5m0.4 0h4.5m1 0h7.5m2.5 0h2m3.4 0h4m0.5 0h2.5m0.5 0h2.5m0.5 0h1.5m1.5 0h3.0M80.5 312.69h3.5m0.5 0h4.5m2.5 0h3m1.4 0h3m1.5 0h4m3.5 0h1.5m1 0h6.5m0.9 0h7.5m1 0h7m0.4 0h2.5m1 0h2m3 0h6.5m2.9 0h3m1 0h1.5m1.5 0h5.5m1 0h9.5m1.9 0h1.5m1 0h4m4 0h2m0.5 0h1.5m3.4 0h3.5m1 0h1.5m1 0h1.5m0.5 0h1.5m0.5 0h2.5m0.5 0h2m0.9 0h3.5m1 0h2.5m1 0h1.5m1.5 0h6m1.5 0h2.5m2.9 0h2.5m1 0h1.5m0.5 0h6.5m0.5 0h3m3.4 0h6.5m2 0h6m1 0h2m0.9 0h5.5m1 0h2.5m0.5 0h5m2 0h5.5m0.9 0h4m1.5 0h3m1.5 0h8m0.4 0h11.4m0.6 0h9m1.4 0h2.5m0.5 0h1.5m0.5 0h7m1 0h14.4m1.5 0h1.5m0.5 0h9m0.4 0h1.5m1 0h2m1 0h1.5m0.5 0h6.5m0.4 0h3m0.5 0h2.5m0.5 0h6m0.5 0h6m0.5 0h2m0.9 0h2.5m1.5 0h3.5m2.5 0h3.5m2 0h4m2.4 0h3m2.5 0h9.5m0.4 0h7m2 0h7m1 0h11m0.9 0h6m1 0h1.5m0.5 0h9m1.4 0h1.5m0.5 0h5m4.4 0h7.5m3 0h1.5m1.5 0h2m0.5 0h10m2.9 0h2.5m0.5 0h13.4m2.5 0h9.5m1 0h4.0M81 309.90h1.5m4 0h1.5m2 0h4m4.4 0h3.5m0.5 0h3m1 0h4m4.9 0h3.5m0.5 0h1.5m0.5 0h3m2.5 0h3.5m0.5 0h2m1.4 0h7m1 0h2.5m0.5 0h3m0.5 0h3.5m2.9 0h4.5m0.5 0h2m1.5 0h2m1 0h1.5m1.5 0h1.5m0.4 0h3m2.5 0h7m2.5 0h1.5m1 0h2m3.4 0h3.5m0.5 0h1.5m2.5 0h4.5m1 0h4.5m0.4 0h3.5m3.5 0h1.5m2.5 0h4.5m0.5 0h2m1.9 0h4.5m1.5 0h4.5m3.5 0h11.4m1 0h1.5m1.5 0h3m1.5 0h8.5m0.4 0h1.5m1 0h2m2 0h1.5m1.5 0h1.5m1 0h6m0.9 0h1.5m1.5 0h15.9m1 0h4m1 0h17.9m0.5 0h1.5m1 0h3m3.5 0h4m0.4 0h2.5m0.5 0h8m1.5 0h1.5m0.5 0h3.5m0.5 0h3.5m1.4 0h9m1 0h2m1 0h5.5m1.4 0h1.5m1.5 0h7m0.5 0h2m3 0h1.5m1.4 0h4.5m3 0h2.5m2 0h1.5m2.5 0h1.5m1.9 0h1.5m0.5 0h1.5m0.5 0h1.5m0.5 0h1.5m0.5 0h3.5m2 0h2.5m1 0h1.5m0.4 0h2.5m0.5 0h1.5m0.5 0h5.5m0.5 0h1.5m0.5 0h3.5m2.4 0h2.5m3.5 0h3m5 0h3m1 0h1.5m1.4 0h1.5m1.5 0h3m1.5 0h2m0.5 0h2m2.5 0h2.5m1 0h3m1.9 0h1.5m2 0h2.5m1 0h3m2 0h3.5m2.4 0h3m0.5 0h1.5m1 0h3m1 0h1.5m1 0h7.5m1.4 0h1.5m2.5 0h5.5m2.5 0h3.5m1.4 0h2.5M80.5 307.11h3.5m0.5 0h3.5m0.5 0h1.5m2.4 0h3m1.5 0h2m1.5 0h1.5m0.5 0h1.5m1 0h1.5m0.5 0h4m1.9 0h6m0.5 0h4m6 0h6.5m0.4 0h2m2.5 0h2m1.5 0h5m0.5 0h5m0.4 0h2.5m1.5 0h1.5m2.5 0h2.5m1 0h11m0.4 0h2m2.5 0h2.5m2.5 0h6.5m0.4 0h4m0.5 0h4m0.5 0h4.5m0.5 0h5.5m0.9 0h2.5m0.5 0h1.5m1.5 0h1.5m6 0h5.5m3.9 0h8m3 0h2m0.9 0h1.5m0.5 0h5.5m0.5 0h3.5m2.5 0h1.5m1.5 0h3.5m1.4 0h4m0.5 0h2.5m1 0h1.5m1 0h2.5m2 0h2m1.4 0h9.5m0.5 0h1.5m0.5 0h3.5m1 0h1.5m0.5 0h8.5m1.4 0h2m2 0h5m0.5 0h1.5m0.4 0h20.9m1 0h11m1 0h3.5m1 0h2.5m0.9 0h4.5m1.5 0h4m1.5 0h3.5m1.9 0h1.5m1 0h3.5m1 0h3m0.5 0h2m0.5 0h2.5m2 0h15.9m2.5 0h1.5m1 0h1.5m0.4 0h4m1 0h1.5m1.5 0h3m1 0h1.5m2.5 0h1.5m3.9 0h3.5m2.5 0h1.5m1.5 0h6.5m2.4 0h1.5m2.5 0h2.5m1.5 0h1.5m3.5 0h1.5m0.5 0h3.5m0.5 0h2.5m1.4 0h2m2 0h4m0.5 0h3m2 0h3.5m0.9 0h6m1 0h13.4m0.5 0h2m0.5 0h2m0.5 0h1.5m0.5 0h1.5m1 0h1.5m0.5 0h2m1 0h3m0.9 0h2m0.5 0h2m4 0h5.5m0.5 0h1.5m2 0h1.5M82 304.33h1.5m1 0h1.5m1.5 0h3.5m0.5 0h2.5m0.9 0h2.5m1 0h1.5m1.5 0h8m2.4 0h4.5m5 0h2.5m0.5 0h3.5m3.9 0h5m1 0h4.5m2 0h5m7.9 0h3.5m5.5 0h1.5m3 0h5m0.9 0h2m1.5 0h1.5m2.5 0h3.5m3 0h2.5m0.9 0h1.5m1 0h6.5m1 0h5m8.4 0h2.5m5 0h3m1 0h2m0.9 0h1.5m2 0h1.5m1 0h2.5m0.5 0h2.5m2 0h4.5m1.5 0h1.5m1.4 0h5m0.5 0h1.5m0.5 0h1.5m1.5 0h1.5m2.5 0h3m0.9 0h2m1 0h1.5m0.5 0h1.5m1.5 0h5m4.5 0h5.5m1.4 0h2m0.5 0h3.5m1.5 0h3.5m0.5 0h2.5m1.4 0h1.5m1 0h4m0.5 0h4m0.5 0h2.5m3.5 0h10m0.4 0h1.5m0.5 0h1.5m1.5 0h2m1 0h3.5m0.9 0h1.5m1.5 0h1.5m0.5 0h1.5m0.5 0h4m0.5 0h1.5m3.5 0h3.5m1.4 0h1.5m1 0h2.5m3.5 0h1.5m4 0h1.5m2.4 0h3.5m1 0h4.5m0.5 0h2.5m1.5 0h2.5m0.5 0h3m0.4 0h2.5m0.5 0h2m1.5 0h2m1.5 0h2.5m1 0h1.5m2 0h3.5m0.9 0h3m6 0h5.5m1.5 0h1.5m0.4 0h2.5m2 0h3m1.5 0h1.5m1 0h5m4.9 0h5.5m1.5 0h3.5m1 0h1.5m6.4 0h1.5m2 0h1.5m1.5 0h3m0.5 0h1.5m0.5 0h1.5m5.4 0h2m3 0h1.5m0.5 0h3m3 0h4.5m0.5 0h1.5m5.4 0h1.5m8 0h3.5m1.4 0h3.5m3 0h2m0.5 0h2.5m2.5 0h1.5M78.5 301.54h1.5m1.5 0h1.5m3 0h5.5m0.9 0h6m1 0h2m1.5 0h1.5m3.5 0h2.5m3.4 0h6m1 0h2m1.5 0h7.5m0.9 0h18.9m1.5 0h5.5m2 0h1.5m1.5 0h3m0.5 0h3m0.5 0h3m0.4 0h1.5m1.5 0h3m1.5 0h1.5m2 0h2.5m0.5 0h9.5m3.9 0h1.5m0.5 0h4m1 0h1.5m2.4 0h2m0.5 0h1.5m2 0h1.5m1 0h8.5m2.4 0h8.5m0.5 0h3m4.5 0h4m0.9 0h2m1 0h2m2 0h1.5m2 0h18.4m0.5 0h8m0.5 0h4m0.4 0h6.5m1 0h1.5m1 0h24.4m0.5 0h4.5m0.4 0h5m1 0h13.9m0.5 0h1.5m1 0h20.9m1 0h7m2.5 0h12.9m1.5 0h1.5m0.5 0h1.5m2.5 0h4m0.9 0h3m4 0h1.5m0.5 0h1.5m0.5 0h10.5m1.4 0h7.5m1.5 0h3m2.4 0h2m1 0h1.5m0.5 0h2.5m2 0h10m1.4 0h4.5m1 0h6m1 0h1.5m1 0h3.5m1.4 0h2m1 0h6m1 0h6m0.5 0h3m1.9 0h1.5m0.5 0h8.5m0.5 0h10.5m4.9 0h11.9m0.5 0h3m1 0h3m0.5 0h1.5m1.5 0h4m0.5 0h2m0.4 0h2.5M79 298.75h6.5m3 0h2m0.5 0h4m1.4 0h4m2 0h1.5m2.5 0h2.5m1 0h1.5m1.9 0h1.5m1 0h3m2 0h1.5m1.5 0h3m1 0h1.5m1 0h1.5m0.9 0h1.5m0.5 0h1.5m1 0h2m3 0h1.5m4 0h3m1.4 0h1.5m0.5 0h1.5m8 0h1.5m3 0h3m1.4 0h3.5m3.5 0h4.5m2.5 0h1.5m2.5 0h6.5m0.4 0h3.5m1 0h3m0.5 0h4.5m0.5 0h1.5m2.4 0h11.4m1.1 0h1.5m2.9 0h1.5m1.5 0h1.5m2 0h1.5m1.5 0h4m5 0h4m2.9 0h7.5m2 0h2m0.5 0h1.5m0.5 0h3.5m0.4 0h7m0.5 0h1.5m1.5 0h2m0.5 0h2.5m1 0h1.5m4.4 0h3.5m1 0h2m0.5 0h7.5m1.9 0h1.5m1 0h7m1 0h2m1.5 0h3m0.9 0h2m1 0h6m0.5 0h6m0.5 0h3.5m1.4 0h4.5m0.5 0h2m1 0h3.5m1.5 0h1.5m1.5 0h1.5m0.9 0h3m2 0h11.9m0.6 0h7m1.4 0h3m1 0h1.5m5.5 0h9.5m0.4 0h1.5m2 0h3m1.5 0h9m1.9 0h1.5m5 0h1.5m1 0h2m1 0h4.5m2.9 0h4.5m1 0h2.5m1.5 0h6m1.9 0h1.5m1 0h2m3.5 0h6m3.9 0h1.5m0.5 0h2m4.5 0h3m0.5 0h3.5m2.5 0h4m3.4 0h3m0.5 0h1.5m2 0h9m4.4 0h3m4 0h2m1.5 0h1.5m0.9 0h4.5m4 0h3m1 0h4m4.9 0h1.5M88 295.96h5.5m0.4 0h1.5m4 0h1.5m1 0h9.5m6.4 0h2m5 0h3m0.5 0h1.5m2.4 0h5m0.5 0h1.5m1 0h2.5m4 0h3.5m0.5 0h1.5m2.9 0h2.5m2 0h1.5m1 0h5.5m0.5 0h1.5m1 0h3m0.9 0h1.5m1.5 0h1.5m1.5 0h1.5m1 0h6.5m3.4 0h1.5m2 0h3m0.5 0h8.5m2.9 0h2m1 0h3.5m1 0h1.5m2 0h6.5m0.5 0h1.5m0.4 0h4.5m1 0h1.5m0.5 0h5m1 0h3.5m2 0h1.5m0.9 0h17.9m2.5 0h15.4m1.1 0h1.5m0.4 0h1.5m0.5 0h17.9m1.5 0h4m0.5 0h2.5m0.5 0h2m0.5 0h14.4m1 0h9m1.5 0h2m0.4 0h8m2 0h1.5m2 0h1.5m1 0h5m2.9 0h14.4m2.5 0h1.5m0.5 0h11.9m0.6 0h1.5m0.5 0h7.5m0.9 0h3.5m6 0h8m1.9 0h1.5m0.5 0h6m1.5 0h3m0.5 0h3m0.4 0h3.5m0.5 0h3m0.5 0h2m1 0h7.5m0.4 0h1.5m2 0h8m0.5 0h6m0.5 0h5.5m0.4 0h6m1.5 0h1.5m4.5 0h3m3.4 0h1.5m0.5 0h1.5m0.5 0h5m0.5 0h1.5m0.5 0h1.5m1.9 0h5m0.5 0h3m1.5 0h4m0.5 0h7m2.4 0h2.5m4 0h2m2 0h1.5m3 0h2.5M85.5 293.18h2m2.5 0h2m4.4 0h4.5m2 0h5.5m7.9 0h1.5m4 0h1.5m4.5 0h3m0.9 0h1.5m1 0h1.5m2 0h1.5m0.5 0h1.5m1.5 0h1.5m3.5 0h3m2.4 0h4m0.5 0h1.5m1.5 0h1.5m0.5 0h2.5m2 0h3m1.4 0h2m3 0h1.5m1 0h1.5m5.5 0h2.5m4.4 0h1.5m6.5 0h1.5m1 0h2.5m1 0h3.5m2.9 0h1.5m2 0h3m2 0h7m2 0h2m2.4 0h1.5m1.5 0h1.5m1.5 0h2m5 0h5m0.4 0h1.5m2.5 0h1.5m1 0h3m1 0h5.5m0.5 0h1.5m0.4 0h1.5m1 0h3.5m0.5 0h5m2.5 0h1.5m1 0h7m0.4 0h1.5m10.5 0h1.5m3.4 0h4.5m1.5 0h1.5m0.5 0h1.5m1.5 0h1.5m2.5 0h1.5m0.5 0h8.5m1.9 0h2.5m0.5 0h1.5m1 0h3.5m1 0h3m0.9 0h1.5m3 0h5.5m2 0h2m1.5 0h1.5m1.4 0h1.5m0.5 0h1.5m3 0h1.5m2 0h3m1 0h1.5m1 0h7.5m4.4 0h1.5m3.5 0h1.5m0.5 0h1.5m0.5 0h1.5m0.4 0h2.5m5 0h4.5m5 0h2m0.9 0h2.5m6.5 0h6.5m0.5 0h1.5m1.4 0h1.5m0.5 0h1.5m2 0h1.5m3 0h2m0.5 0h1.5m9.9 0h1.5m5.5 0h2.5m2 0h5.5m1.4 0h1.5m5 0h1.5m0.5 0h3m0.5 0h7m4.9 0h1.5m0.5 0h3m2 0h1.5m1.5 0h1.5m0.5 0h2m0.4 0h3m1 0h1.5m0.5 0h3m5.5 0h1.5m7.4 0h2m4.5 0h1.5m4.5 0h1.5m0.5 0h2.5M78.5 290.39h3m0.5 0h1.5m0.5 0h2.5m1.5 0h3m0.9 0h2m1.5 0h5m0.5 0h4m3.5 0h6m2.9 0h1.5m4 0h2.5m0.5 0h1.5m2.5 0h10m2.4 0h6.5m2.5 0h3m0.9 0h2.5m0.5 0h3m4 0h2.5m0.5 0h5m1.9 0h1.5m1.5 0h2.5m1.5 0h6m2.5 0h2.5m2.9 0h1.5m1 0h6m2 0h1.5m0.5 0h1.5m1.9 0h2m0.5 0h1.5m2 0h2.5m1 0h3m1.5 0h2.5m1 0h1.5m0.9 0h2.5m5 0h1.5m1.5 0h9m0.9 0h3m1 0h2m0.5 0h4.5m2.5 0h7.5m1.4 0h4.5m2 0h2.5m0.5 0h8.5m0.4 0h2m0.5 0h1.5m1 0h19.4m1 0h2m0.5 0h11.5m0.9 0h6.5m0.5 0h7.5m0.5 0h11.9m1 0h5.5m1 0h3.5m0.4 0h2.5m2.5 0h3m0.5 0h1.5m2.5 0h1.5m0.5 0h4m1.9 0h2.5m2.5 0h4m0.5 0h1.5m3 0h6.5m0.4 0h5m1.5 0h8m3.4 0h5.5m2 0h2.5m0.5 0h1.5m0.5 0h3m0.5 0h5m0.4 0h2m1 0h1.5m4 0h1.5m5 0h4m1.4 0h11m1.5 0h1.5m0.5 0h1.5m1 0h4.5m0.4 0h1.5m2 0h3.5m0.5 0h1.5m1 0h2m4.4 0h4.5m1.5 0h1.5m1 0h9m0.5 0h1.5m4.9 0h2.5m2 0h4.5m0.5 0h1.5m3.4 0h4m1 0h1.5m0.5 0h6.5m2 0h1.5m0.5 0h4.0M78.5 287.60h4.5m1 0h1.5m2.5 0h1.5m0.5 0h5.5m7.9 0h3m3.5 0h1.5m1.4 0h3m1.5 0h4m0.5 0h1.5m5 0h3m6.4 0h1.5m1.5 0h1.5m2.5 0h1.5m1 0h1.5m0.5 0h2m7.9 0h1.5m5 0h1.5m4.4 0h1.5m4.5 0h1.5m1 0h2m0.5 0h5m0.5 0h4m0.9 0h1.5m5.5 0h1.5m1.5 0h4m1.5 0h1.5m1.9 0h1.5m0.5 0h1.5m2 0h1.5m4 0h1.5m4 0h1.5m1.9 0h1.5m6 0h1.5m2.5 0h4m6.4 0h1.5m3.5 0h2.5m0.5 0h1.5m1.5 0h1.5m0.5 0h2m3.4 0h2.5m1 0h5.5m0.5 0h1.5m4.5 0h4m2.9 0h4.5m2 0h1.5m1.5 0h1.5m2 0h5m0.4 0h4.5m0.5 0h4.5m1.5 0h2m0.5 0h5.5m0.9 0h1.5m0.5 0h4.5m1.5 0h6m0.5 0h2.5m0.5 0h1.5m0.4 0h1.5m0.5 0h3m1 0h1.5m2 0h3.5m1.5 0h3m0.5 0h4m2.9 0h1.5m2.5 0h3m3.5 0h4m1.4 0h4m4.5 0h1.5m11.9 0h6m4.5 0h1.5m0.5 0h3m4.4 0h3m0.5 0h1.5m2 0h2.5m1 0h1.5m3 0h1.5m1.9 0h2m3.5 0h1.5m3.5 0h4m1.5 0h1.5m2.4 0h2.5m3.5 0h1.5m2 0h1.5m5 0h1.5m1.9 0h3m2.5 0h1.5m2 0h1.5m3 0h2m2.4 0h1.5m0.5 0h5m2 0h1.5m4 0h4m1 0h2m9.4 0h6.5m2.9 0h1.5m5.5 0h2.5m2 0h1.5m1.5 0h3.5m1.4 0h1.5M84.5 284.82h1.5m1.5 0h1.5m0.5 0h3.5m2.4 0h1.5m1 0h1.5m9.5 0h1.5m1 0h1.5m2.9 0h1.5m0.5 0h1.5m5 0h2m7.4 0h1.5m0.5 0h2m0.5 0h1.5m4 0h1.5m4 0h1.5m1.9 0h1.5m1 0h2m3 0h2.5m0.5 0h1.5m4.5 0h3m3.4 0h2m1.5 0h2.5m2 0h1.5m2.5 0h1.5m0.5 0h1.5m5.9 0h1.5m1.5 0h1.5m1.5 0h3m3.5 0h1.5m0.9 0h1.5m2 0h3m0.5 0h4.5m2.5 0h1.5m0.5 0h1.5m2.4 0h2m2.5 0h1.5m3 0h1.5m1 0h1.5m4 0h2m3.9 0h1.5m4 0h1.5m1.5 0h1.5m6 0h2.5m2.4 0h1.5m2.5 0h2m3 0h3m2 0h4m1.4 0h2m3.5 0h1.5m8.5 0h7m0.9 0h2.5m2 0h1.5m1 0h3m2.5 0h1.5m0.9 0h15.9m5 0h2m1 0h4.5m3.5 0h3m2.9 0h2m2.5 0h1.5m5 0h3m1 0h5m0.4 0h1.5m1 0h1.5m3 0h1.5m1.5 0h3.5m5 0h2m1.4 0h1.5m0.5 0h1.5m6 0h1.5m1.5 0h1.5m1.5 0h3m0.4 0h1.5m6 0h1.5m6 0h2.5m6.4 0h1.5m1 0h2m1.5 0h3.5m4.9 0h2.5m0.5 0h3m4 0h1.5m0.5 0h4.5m2.9 0h1.5m8 0h3m1.5 0h1.5m5.4 0h2m1 0h2m1 0h2m3 0h1.5m2 0h6.5m2.4 0h1.5m0.5 0h1.5m1.5 0h5.5m3 0h4.5m1.4 0h6.5m7 0h1.5M84.5 282.03h1.5m2 0h2m0.5 0h2.5m2.4 0h3.5m4 0h1.5m1 0h2m2.5 0h1.5m0.4 0h1.5m0.5 0h1.5m6.5 0h1.5m4 0h3m7.9 0h5m3 0h1.5m0.5 0h5.5m2.4 0h3m1 0h6.5m1 0h2.5m1.9 0h1.5m0.5 0h3m1 0h1.5m1 0h1.5m3 0h1.5m1.5 0h1.5m1.9 0h3.5m2.5 0h1.5m0.5 0h1.5m0.5 0h1.5m1.5 0h7.5m2.9 0h4.5m5 0h4.5m2.4 0h4.5m1 0h1.5m3.5 0h1.5m0.5 0h1.5m0.5 0h9m0.4 0h3m0.5 0h3m0.5 0h1.5m1 0h3.5m4.4 0h1.5m0.5 0h1.5m2 0h1.5m0.5 0h2m0.5 0h3m0.5 0h2.5m1.5 0h3.5m0.9 0h8m1.5 0h5m0.5 0h6m0.4 0h8m1.5 0h5.5m0.9 0h4.5m2.5 0h3m0.5 0h6m1 0h9m0.9 0h2.5m0.5 0h12.9m1 0h1.5m0.5 0h1.5m2.5 0h4m2 0h1.5m0.9 0h5m4.5 0h1.5m1 0h6m0.5 0h5.5m0.9 0h1.5m3 0h1.5m1.5 0h1.5m1 0h1.5m5.9 0h11m1.5 0h1.5m2 0h5.5m0.4 0h1.5m0.5 0h3m1.5 0h4.5m1 0h3m6.9 0h5m1.5 0h4m2 0h1.5m0.9 0h4m1 0h4.5m3 0h1.5m1 0h2m6.4 0h1.5m0.5 0h1.5m2.5 0h4m0.5 0h1.5m1.5 0h1.5m0.9 0h1.5m0.5 0h1.5m1 0h2.5m0.5 0h2.5m1.5 0h3m1.5 0h1.5m0.5 0h1.5m0.4 0h1.5m6 0h3.5m0.5 0h5m1 0h2m0.9 0h1.5M79 279.24h2m3 0h2m1.5 0h1.5m2 0h1.5m1.4 0h1.5m4.5 0h1.5m1 0h1.5m1.5 0h1.5m3 0h1.5m5.4 0h2m4 0h1.5m2.5 0h1.5m0.5 0h1.5m2.4 0h1.5m1.5 0h6.5m1 0h2.5m0.5 0h1.5m4.9 0h1.5m2.5 0h1.5m2.5 0h2.5m4 0h3.5m2.4 0h3m3.5 0h2.5m0.5 0h2.5m4 0h2.5m1.4 0h1.5m5.5 0h2.5m6.5 0h4m0.9 0h1.5m2 0h1.5m4 0h2.5m2 0h2.5m1.4 0h1.5m0.5 0h1.5m0.5 0h1.5m0.5 0h1.5m5 0h9m0.4 0h1.5m2.5 0h4.5m0.5 0h1.5m3 0h2m1 0h3m2.4 0h4.5m0.5 0h1.5m0.5 0h5m2 0h2m0.4 0h2.5m2 0h11.9m2.1 0h1.5m0.4 0h3.5m1 0h3.5m1 0h6.5m0.5 0h1.5m2.9 0h9m1 0h5m1 0h2m0.9 0h6m1 0h2m4.5 0h1.5m1 0h4m0.9 0h5.5m0.5 0h3m4.5 0h1.5m0.5 0h3m3.9 0h1.5m0.5 0h1.5m0.5 0h1.5m0.5 0h1.5m1.5 0h1.5m0.5 0h1.5m0.5 0h1.5m4.4 0h1.5m1 0h3.5m4 0h3m1 0h1.5m2.9 0h3m1.5 0h3m3 0h9.5m1.4 0h1.5m4 0h1.5m1 0h1.5m0.5 0h4m3.4 0h1.5m0.5 0h1.5m0.5 0h4m1 0h2m1 0h1.5m1 0h3m8.9 0h2m3 0h4.5m1 0h1.5m1.9 0h6.5m2.5 0h1.5m1 0h1.5m1.5 0h5m1.4 0h1.5m2 0h5.5m1.5 0h2.5m4.5 0h2m0.4 0h1.5m5.5 0h3.5m2 0h1.5m0.5 0h1.5m2.4 0h1.5M79 276.46h1.5m1 0h1.5m0.5 0h1.5m4 0h5.5m0.4 0h2.5m1.5 0h1.5m3.5 0h5m0.5 0h1.5m0.9 0h1.5m2 0h4m3 0h4.5m0.5 0h3m0.5 0h2.5m0.9 0h1.5m0.5 0h1.5m3.5 0h1.5m0.5 0h3.5m0.5 0h1.5m3.9 0h3.5m0.5 0h3m1 0h2.5m5 0h1.5m1.9 0h1.5m5.5 0h3m0.5 0h2m3 0h1.5m0.5 0h1.5m0.5 0h2m3.4 0h3.5m5.5 0h2m1.5 0h2.5m8.4 0h1.5m0.5 0h2m1.5 0h2m0.5 0h2.5m0.9 0h1.5m1 0h3m5.5 0h4m1.5 0h3.5m0.9 0h7m2 0h1.5m4.5 0h11.4m0.5 0h14.9m0.5 0h8.5m0.5 0h1.5m1.5 0h3m0.5 0h5m1.4 0h3.5m0.5 0h6m2.5 0h9m0.4 0h4.5m0.5 0h2m0.5 0h4m0.5 0h2m2.9 0h6.5m0.5 0h2m1.5 0h1.5m1.5 0h6m1.9 0h4.5m3 0h5m2.4 0h1.5m3.5 0h5m1 0h2m3 0h1.5m1 0h2.5m0.9 0h5.5m2.5 0h2m1.5 0h1.5m5.9 0h9m1 0h3m0.5 0h2.5m0.5 0h3.5m2.4 0h5m1 0h1.5m1.5 0h1.5m0.5 0h1.5m2 0h2m1.4 0h1.5m0.5 0h3.5m1.5 0h1.5m0.5 0h2.5m1 0h2m1 0h4m2.4 0h4m0.5 0h1.5m1 0h3.5m1.5 0h3m2.9 0h2.5m1 0h2.5m3.5 0h1.5m2.5 0h5.5m0.4 0h3.5m0.5 0h1.5m0.5 0h1.5m1 0h2.5m0.5 0h3m0.5 0h3.5m0.9 0h3.5m4.5 0h1.5m6 0h1.5m0.5 0h1.5M79.5 273.67h12.4m3 0h19.4m0.5 0h2.5m0.5 0h3m0.5 0h2m1 0h3.5m1 0h2m0.5 0h5m2.9 0h1.5m0.5 0h2m0.5 0h1.5m1 0h1.5m0.5 0h15.4m1 0h1.5m1.5 0h4m0.4 0h1.5m1 0h3m1.5 0h1.5m0.5 0h3m1 0h4m1.5 0h4.5m1.4 0h10m1.5 0h4m1.9 0h10m0.5 0h17.9m0.5 0h9.5m0.4 0h5.5m1 0h8.5m1 0h8m0.9 0h1.5m0.5 0h1.5m0.5 0h4.5m0.5 0h30.9m0.4 0h18.9m0.5 0h24.4m0.5 0h16.4m0.5 0h26.4m1.5 0h4.5m0.4 0h5m0.5 0h4m0.5 0h1.5m0.5 0h3m0.5 0h8m0.4 0h5.5m1.5 0h1.5m0.5 0h1.5m1.5 0h5.5m0.9 0h7m2.5 0h2.5m2.5 0h11.4m1 0h1.5m0.5 0h3.5m3 0h3.5m1.4 0h3m0.5 0h4m2 0h6.5m0.9 0h10m2 0h5.5m1.9 0h3.5m1 0h3m1.5 0h2m1 0h2.5m1 0h2m0.5 0h3m0.9 0h6.5m1.5 0h8.5m0.5 0h1.5M79 270.88h1.5m2.5 0h1.5m5.5 0h1.5m2.4 0h1.5m2 0h1.5m6 0h1.5m0.5 0h1.5m1 0h3.5m0.9 0h3m0.5 0h1.5m4 0h6m0.5 0h2.5m4.4 0h1.5m1 0h1.5m0.5 0h2.5m2.5 0h1.5m0.5 0h4m0.9 0h1.5m2 0h1.5m3.5 0h2.5m1 0h2.5m1.5 0h2.5m1.9 0h1.5m2.5 0h5m1.5 0h2.5m0.5 0h2.5m0.5 0h1.5m0.4 0h1.5m6 0h6m1 0h1.5m3 0h7m0.9 0h2.5m1 0h1.5m0.5 0h2.5m2 0h1.5m1.9 0h1.5m3.5 0h1.5m3 0h3m2 0h3.5m0.5 0h1.5m0.4 0h1.5m1 0h1.5m1 0h2m1 0h2m3 0h1.5m1.5 0h7m2.4 0h5m2 0h3m0.5 0h2.5m2.9 0h2m2.5 0h1.5m2.5 0h2.5m1.5 0h2.5m0.5 0h1.5m1.4 0h16.9m2.5 0h1.5m1 0h1.5m0.5 0h2m0.5 0h5.5m0.5 0h2.5m1.5 0h1.5m0.9 0h4m1 0h1.5m1 0h5.5m0.5 0h1.5m1 0h2.5m1.4 0h1.5m0.5 0h1.5m5 0h3.5m4 0h1.5m4.9 0h1.5m1.5 0h2.5m3.5 0h1.5m2 0h3.5m3.4 0h1.5m0.5 0h3m1.5 0h2.5m3.5 0h1.5m4.9 0h1.5m1.5 0h2m0.5 0h3.5m1 0h1.5m0.5 0h1.5m1.5 0h3m3.9 0h2m7 0h1.5m0.5 0h3m1.5 0h1.5m0.9 0h1.5m1 0h4.5m2.5 0h1.5m2 0h3.5m0.5 0h1.5m9.4 0h3m7 0h2m9.9 0h7.5m1.5 0h1.5m3.9 0h2.5m0.5 0h3.5m1 0h1.5m3.5 0h4.5m0.4 0h2m1 0h1.5m2 0h4m0.5 0h2.5m1.5 0h1.5M83 268.09h1.5m8.4 0h1.5m2 0h3m2 0h8.5m1.9 0h2.5m2.5 0h3m2.5 0h3m1 0h1.5m2.5 0h1.5m7.9 0h1.5m1 0h1.5m3.5 0h1.5m1 0h4m1.9 0h3m1 0h3m0.5 0h1.5m1 0h3.5m4.4 0h3m1 0h2.5m2.5 0h3.5m5.9 0h1.5m6 0h3m7 0h4.5m1.9 0h1.5m1.5 0h1.5m3.5 0h4m5.4 0h2.5m0.5 0h1.5m3.5 0h3.5m2 0h1.5m0.5 0h6m0.9 0h2.5m4 0h5m1.5 0h4m0.4 0h4.5m1 0h3.5m2.5 0h1.5m3.5 0h6m2.9 0h11.9m1.5 0h6m0.5 0h8.5m0.5 0h1.5m2.9 0h7.5m1 0h4.5m0.5 0h6m0.4 0h2m0.5 0h2.5m2 0h3m0.5 0h1.5m2 0h5m0.4 0h2m2 0h1.5m1.5 0h2.5m4 0h2m0.5 0h1.5m1 0h1.5m1.9 0h1.5m4 0h1.5m0.5 0h1.5m1.5 0h1.5m3.5 0h5.5m1.4 0h1.5m1.5 0h2.5m3 0h3m1 0h3m1.4 0h1.5m0.5 0h1.5m1.5 0h1.5m0.5 0h1.5m3 0h2.5m1 0h2m7.4 0h4.5m3.5 0h2.5m1 0h8.5m0.9 0h2m2 0h1.5m4 0h1.5m4.4 0h3.5m1 0h1.5m5.5 0h3m3.4 0h1.5m1.5 0h2m1 0h2.5m2.5 0h1.5m1 0h1.5m3 0h4m1.9 0h1.5m8.5 0h2.5m1.5 0h1.5m1.9 0h1.5m1 0h7.5m2.5 0h2m1 0h4.5M78.5 265.31h1.5m3 0h1.5m1 0h1.5m0.5 0h2.5m0.5 0h4m0.4 0h1.5m0.5 0h1.5m0.5 0h4m1 0h5.5m1.5 0h1.5m0.4 0h1.5m3.5 0h4m4 0h1.5m0.5 0h2.5m1 0h2.5m1.9 0h3m0.5 0h7m2 0h1.5m1 0h3m1.9 0h9m1 0h7m0.4 0h2m0.5 0h2m3 0h5.5m5.4 0h1.5m1 0h8.5m1.5 0h4m0.5 0h1.5m6.4 0h1.5m4.5 0h3.5m4.5 0h1.5m0.9 0h1.5m2.5 0h7m1 0h5m7.4 0h5m1 0h3.5m1.5 0h2.5m0.9 0h3.5m1.5 0h3m1 0h5.5m3.5 0h11m0.4 0h4.5m0.5 0h7m1.9 0h4m2 0h9m0.5 0h1.5m0.4 0h9.5m1 0h2.5m0.5 0h16.4m2 0h1.5m0.5 0h1.5m1.5 0h6m0.9 0h2m3 0h2m2 0h3.5m0.5 0h2.5m4.4 0h2m2 0h7m0.5 0h3m0.4 0h2m0.5 0h1.5m0.5 0h3m0.5 0h3m6 0h1.5m0.9 0h2m1 0h1.5m3.5 0h4m0.5 0h3m1 0h3m1.9 0h2m0.5 0h1.5m1.5 0h2.5m2.5 0h1.5m2.5 0h2.5m4.4 0h1.5m1 0h2.5m0.5 0h1.5m3 0h2.5m0.5 0h3m1.4 0h1.5m1 0h3.5m1 0h4.5m3 0h1.5m1 0h6m4.4 0h1.5m1 0h1.5m6.5 0h1.5m0.4 0h1.5m3 0h2.5m2 0h4m1.5 0h4m1.4 0h1.5m4.5 0h1.5m1.5 0h1.5m1 0h1.5m3 0h2.5M79 262.52h4m1.5 0h3.5m2.5 0h5.5m1.4 0h3m1.5 0h1.5m0.5 0h7m3.4 0h9m1 0h1.5m0.5 0h2m2.5 0h2.5m0.4 0h8.5m1 0h1.5m0.5 0h1.5m0.5 0h3m1 0h5m2.4 0h1.5m2 0h6.5m2 0h4.5m2.9 0h7.5m3 0h1.5m0.5 0h1.5m2.4 0h4.5m1.5 0h1.5m1 0h1.5m0.5 0h2m1 0h1.5m0.5 0h2m0.4 0h4m0.5 0h6m0.5 0h2.5m4 0h1.5m4.9 0h1.5m0.5 0h2m0.5 0h2m2 0h2m1 0h5m0.4 0h2.5m0.5 0h1.5m0.5 0h2.5m0.5 0h3.5m2 0h1.5m1 0h2.5m0.9 0h3m2 0h22.9m1.5 0h3.5m3 0h3.5m0.4 0h5m1 0h3m0.5 0h13.9m1.5 0h5.5m3.5 0h2m0.5 0h7.5m0.9 0h7m2 0h1.5m1 0h9.5m0.9 0h2m0.5 0h7m0.5 0h2.5m0.9 0h4.5m2 0h3m0.5 0h3.5m0.5 0h1.5m0.5 0h1.5m2.9 0h3m2 0h3.5m0.5 0h4.5m3 0h1.5m2.4 0h2m4.5 0h1.5m3 0h2m0.5 0h3.5m1.4 0h3.5m0.5 0h5m1.5 0h1.5m2 0h2.5m0.5 0h1.5m1.4 0h6m2.5 0h6m1.5 0h3.5m0.9 0h3.5m1.5 0h3.5m0.5 0h3m1.5 0h8.5m0.4 0h4m2 0h1.5m1 0h1.5m0.5 0h2m1.5 0h2m1.4 0h1.5m0.5 0h1.5m0.5 0h3m0.5 0h4m6 0h1.5m1.9 0h3.5m1 0h1.5m2.5 0h7.0M79.5 259.73h1.5m1.5 0h1.5m4.5 0h3m0.9 0h1.5m3.5 0h1.5m1.5 0h1.5m1.5 0h1.5m7.9 0h2m2.5 0h2m0.5 0h1.5m1.5 0h2m4 0h4m6.4 0h1.5m8 0h3m3.9 0h1.5m0.5 0h3.5m3.5 0h4.5m1 0h3.5m0.9 0h5m2.5 0h2m0.5 0h1.5m2.5 0h1.5m5.4 0h2m5 0h1.5m1.5 0h1.5m1 0h2m1.4 0h2.5m1.5 0h4.5m0.5 0h2.5m1 0h1.5m1 0h2m2.5 0h2.5m0.9 0h3.5m1.5 0h1.5m2.5 0h1.5m0.5 0h2m3.5 0h3m1.4 0h2.5m0.5 0h1.5m1.5 0h4.5m1.5 0h4m0.9 0h5m2.5 0h4.5m1.5 0h3.5m0.5 0h2.5m0.4 0h4m0.5 0h1.5m4 0h2.5m0.5 0h1.5m2.5 0h2m1.4 0h4.5m2 0h5.5m1 0h1.5m1.5 0h4m0.9 0h8m0.5 0h9m0.4 0h6m6.5 0h9.5m2.9 0h3m0.5 0h3.5m2 0h1.5m0.5 0h3m1.9 0h3.5m3.5 0h5.5m1.5 0h1.5m4.9 0h1.5m2 0h3m0.5 0h1.5m1.5 0h1.5m6.4 0h2m3 0h4m8 0h4m0.4 0h4m2 0h4.5m1 0h1.5m0.5 0h3m1 0h1.5m3.4 0h3m0.5 0h1.5m2.5 0h3m0.5 0h1.5m1.5 0h2m0.4 0h3m1 0h3m1 0h9m5.4 0h5.5m0.5 0h1.5m0.5 0h1.5m6.5 0h1.5m1.4 0h4m0.5 0h2.5m2.5 0h1.5m1 0h3m0.5 0h2.5m0.4 0h3.5m1.5 0h1.5m1 0h2m0.5 0h3m0.5 0h4m2.9 0h2.0M80 256.95h1.5m2 0h3.5m3.5 0h2.5m2.4 0h1.5m3.5 0h1.5m4.5 0h7m2.9 0h2.5m1.5 0h3m2 0h3m1 0h3m1.4 0h5m6 0h1.5m2 0h3.5m4.4 0h4m1.5 0h1.5m1 0h3m0.5 0h2m1 0h1.5m1.9 0h1.5m4.5 0h4m2.5 0h1.5m0.5 0h9m1.4 0h1.5m1 0h3m1.5 0h1.5m2 0h2m0.4 0h2m2.5 0h1.5m2 0h3m4.5 0h1.5m0.5 0h1.5m4.9 0h2m3 0h2m4 0h7.5m0.9 0h5m2 0h2.5m0.5 0h3.5m2 0h2m1.4 0h3.5m1 0h1.5m3.5 0h4.5m1 0h6m0.4 0h1.5m0.5 0h6.5m0.5 0h1.5m3 0h6.5m0.4 0h6m1 0h1.5m0.5 0h3m1.5 0h4.5m2.9 0h6m1 0h4.5m1 0h5.5m0.4 0h1.5m0.5 0h7.5m1 0h3m1 0h1.5m0.4 0h10.5m0.5 0h5m0.5 0h2.5m1.4 0h2m1.5 0h1.5m0.5 0h1.5m1.5 0h1.5m0.5 0h2.5m1 0h1.5m0.5 0h2m4.4 0h1.5m3.5 0h1.5m3.5 0h1.5m0.5 0h1.5m2 0h1.5m5.4 0h4m2.5 0h6m0.5 0h6.5m0.4 0h2.5m3 0h3m0.5 0h1.5m0.5 0h3m2.4 0h3m1 0h1.5m1 0h2.5m5 0h3.5m0.9 0h1.5m1.5 0h2m2 0h1.5m2 0h2m2.5 0h7.5m0.9 0h3m2.5 0h1.5m4.5 0h1.5m2.9 0h2m0.5 0h1.5m4 0h1.5m0.5 0h1.5m0.5 0h2.5m4.4 0h6m2 0h1.5m1 0h2m2.5 0h1.5m1.5 0h2m0.9 0h1.5M79 254.16h1.5m0.5 0h1.5m2.5 0h4m0.5 0h4m0.9 0h2.5m2 0h3.5m0.5 0h6m2.9 0h1.5m3 0h1.5m0.5 0h1.5m1.5 0h1.5m1 0h3m2.5 0h6m0.4 0h6.5m4.5 0h2m1 0h2.5m1.4 0h1.5m0.5 0h7m1 0h1.5m0.5 0h1.5m2.5 0h1.5m2.4 0h2.5m2.5 0h6m0.5 0h1.5m8.4 0h1.5m4.5 0h1.5m0.5 0h2m0.5 0h2.5m0.5 0h2m0.9 0h4.5m1 0h5.5m1 0h4.5m0.5 0h1.5m0.5 0h5.5m2.4 0h3m1.5 0h2.5m0.5 0h1.5m0.5 0h1.5m10.9 0h4m3.5 0h6.5m1.4 0h1.5m1.5 0h9.5m5.9 0h4m1 0h3m1 0h2m0.5 0h11.4m0.5 0h3m0.5 0h2m0.5 0h4m0.5 0h10.5m0.9 0h12.9m4 0h1.5m1 0h1.5m0.5 0h5m0.5 0h6.5m2.4 0h11.4m1.1 0h1.5m0.5 0h1.5m0.4 0h1.5m7.5 0h3.5m2 0h1.5m1.5 0h1.5m0.4 0h2m1 0h9m1 0h2m3.5 0h4.5m4.4 0h1.5m2.5 0h1.5m3 0h2m3.4 0h1.5m3 0h1.5m2.5 0h1.5m0.5 0h3.5m1.5 0h3.5m3.9 0h4.5m0.5 0h3m1 0h5.5m0.4 0h1.5m1 0h1.5m2 0h2m1 0h2m1 0h7m0.5 0h3.5m1.9 0h1.5m1.5 0h1.5m1 0h1.5m1 0h1.5m1.5 0h1.5m0.5 0h2m0.4 0h1.5m3 0h8m1.5 0h4m1 0h3.5m0.4 0h2m4 0h2.5m1.5 0h3m2.5 0h3.5M79 251.37h3m1 0h4.5m0.5 0h3.5m1.9 0h2.5m7 0h1.5m0.5 0h1.5m2 0h10m4.4 0h1.5m0.5 0h1.5m4.5 0h1.5m0.4 0h2.5m0.5 0h1.5m1.5 0h1.5m1 0h3.5m3 0h1.5m0.5 0h1.5m0.4 0h3.5m1.5 0h1.5m3.5 0h1.5m0.5 0h1.5m1.5 0h1.5m1.5 0h2m1.9 0h1.5m3 0h1.5m3.5 0h4.5m4.4 0h3m1.5 0h4m0.5 0h1.5m5 0h3.5m1.9 0h4m1.5 0h2.5m1.5 0h2m1 0h2m3.9 0h1.5m3.5 0h1.5m0.5 0h2m3.5 0h1.5m0.5 0h1.5m0.5 0h4m0.9 0h3m2 0h1.5m2 0h4m2.5 0h2.5m0.9 0h8.5m1.5 0h3m2 0h8.5m1.4 0h12.9m0.6 0h3m0.4 0h8m0.5 0h1.5m2.5 0h8.5m0.4 0h11.4m0.6 0h14.4m1.5 0h3m0.5 0h2.5m1 0h1.5m0.9 0h2.5m1 0h11m1.5 0h6m1.4 0h2.5m1 0h1.5m3 0h4.5m1 0h3.5m0.4 0h6.5m1 0h3m2 0h9m2.9 0h7.5m1 0h2.5m2 0h3m1.4 0h2m2 0h1.5m1.5 0h1.5m2 0h1.5m2 0h1.5m0.4 0h1.5m1.5 0h3m2.5 0h3m2 0h4m1.5 0h2m2.4 0h3m0.5 0h2.5m1 0h3m1 0h9m0.9 0h2.5m3 0h3m0.5 0h2m1.5 0h1.5m1.9 0h6m1.5 0h2m1.5 0h3m1.5 0h2.5m6.4 0h8.5m6 0h1.5M79 248.59h1.5m2.5 0h1.5m1.5 0h1.5m4 0h1.5m3.4 0h2m3.5 0h1.5m1 0h3.5m2 0h1.5m0.9 0h3.5m1 0h2m0.5 0h1.5m2.5 0h1.5m3 0h1.5m4.4 0h2m3.5 0h1.5m4.5 0h2.5m1.5 0h1.5m0.9 0h1.5m1.5 0h2.5m6 0h3.5m1 0h3.5m1.4 0h2m1 0h2m1 0h1.5m1 0h4.5m1 0h1.5m5.9 0h1.5m2 0h3.5m1 0h1.5m4 0h5m2.4 0h1.5m1.5 0h1.5m1.5 0h1.5m11.4 0h5.5m1 0h3m2.5 0h1.5m0.5 0h1.5m4.4 0h1.5m1.5 0h1.5m1.5 0h4m3 0h3m8.9 0h1.5m3 0h5.5m1.5 0h3m0.4 0h2.5m1 0h6.5m2.5 0h3m1.9 0h4m2 0h1.5m1 0h1.5m2.5 0h3m1.5 0h9m1.4 0h1.5m3.5 0h1.5m0.5 0h1.5m1.5 0h5m2.4 0h4m1.5 0h4.5m1.5 0h2m2.4 0h1.5m0.5 0h5m2.5 0h4m1.5 0h1.5m3.4 0h2m1.5 0h5m1 0h2m7.9 0h1.5m0.5 0h1.5m3.5 0h3m3 0h1.5m1.5 0h1.5m8.9 0h2m1.5 0h1.5m1.5 0h1.5m0.5 0h3m1 0h1.5m1.4 0h1.5m1.5 0h1.5m6 0h1.5m3 0h8.5m3.4 0h2.5m0.5 0h2m0.5 0h2.5m6.9 0h1.5m2.5 0h1.5m13.4 0h3m3 0h3m1 0h2m2 0h1.5m2.4 0h1.5m2.5 0h1.5m0.5 0h5.5m10.4 0h1.5m5.5 0h1.5m1 0h1.5m4.5 0h1.5m0.4 0h2.0M85.5 245.80h2.5m0.5 0h1.5m2.9 0h3.5m3 0h3m5 0h3m3.9 0h1.5m2 0h1.5m2.5 0h1.5m0.5 0h4m4.4 0h2.5m1.5 0h1.5m2.5 0h1.5m1 0h4m2.5 0h1.5m0.5 0h1.5m0.4 0h3.5m6 0h1.5m2.5 0h1.5m1.5 0h1.5m0.4 0h1.5m3 0h1.5m7 0h3.5m0.5 0h3m2.9 0h1.5m2 0h1.5m0.5 0h1.5m2.5 0h3.5m0.5 0h4m1.9 0h4.5m1 0h2.5m0.5 0h2.5m0.5 0h2.5m1.5 0h1.5m0.9 0h2m1.5 0h1.5m1 0h1.5m4.5 0h1.5m2.5 0h2.5m1 0h1.5m0.4 0h3m4.5 0h6.5m1.5 0h3m0.4 0h1.5m1.5 0h1.5m1 0h3.5m0.5 0h5.5m1.5 0h3.5m1.9 0h3m1.5 0h2.5m0.5 0h11m0.4 0h7m0.5 0h5m0.5 0h12.9m2.5 0h4.5m1.5 0h4m1.9 0h5.5m2 0h3m0.5 0h2m1.5 0h5.5m0.9 0h5m0.5 0h3m0.5 0h2m1.5 0h2.5m1.4 0h2.5m4 0h2.5m1.5 0h2m2.5 0h1.5m2.5 0h2m1.4 0h2m1.5 0h1.5m1 0h1.5m3.5 0h3.5m2 0h4m4.9 0h1.5m3 0h6m3.9 0h1.5m2.5 0h1.5m3 0h5.5m0.5 0h4m0.4 0h1.5m0.5 0h1.5m2.5 0h1.5m0.5 0h7m3.4 0h1.5m1.5 0h2m1.5 0h3m1 0h1.5m2 0h3m3.4 0h5.5m2 0h5m3.5 0h7.5m0.4 0h4.5m1 0h1.5m1.5 0h1.5m1.5 0h4.5m2.4 0h2m4 0h1.5m2 0h1.5m1 0h3.5m1 0h1.5M79 243.01h5m3.5 0h1.5m2.5 0h1.5m4.9 0h1.5m1 0h1.5m2 0h4m0.5 0h1.5m4.4 0h4m1 0h1.5m1 0h9.5m0.9 0h1.5m1.5 0h1.5m3 0h1.5m1 0h3m1 0h2.5m0.5 0h3m7.4 0h3m1 0h2.5m4 0h1.5m3.9 0h4m1 0h1.5m0.5 0h4.5m1.5 0h1.5m0.5 0h1.5m2.4 0h3.5m3 0h1.5m4 0h1.5m2 0h3m1.9 0h1.5m0.5 0h1.5m2.5 0h1.5m3.5 0h1.5m0.5 0h2m1 0h2.5m1.4 0h1.5m1 0h1.5m1 0h1.5m2.5 0h4.5m3.4 0h4m1 0h1.5m2 0h3.5m0.5 0h1.5m1.5 0h2.5m1.4 0h3m1 0h1.5m2.5 0h6m3.5 0h1.5m0.5 0h1.5m0.4 0h8m0.5 0h6m5.9 0h9.5m0.5 0h2m0.5 0h10m0.9 0h4m0.5 0h1.5m1 0h6.5m1.9 0h5m2.5 0h8m2.5 0h1.5m0.9 0h3.5m2 0h3.5m0.5 0h1.5m1.5 0h17.4m0.5 0h4m1.5 0h2.5m3.4 0h1.5m2.5 0h3.5m3 0h1.5m1 0h1.5m2.4 0h1.5m1 0h1.5m1 0h3m2.5 0h1.5m1 0h1.5m0.5 0h1.5m1 0h1.5m1.9 0h2m1 0h2m0.5 0h1.5m1 0h2m1 0h1.5m3 0h3.5m1.9 0h1.5m2.5 0h4m0.5 0h1.5m2 0h1.5m3.5 0h1.5m0.9 0h2.5m1.5 0h1.5m0.5 0h1.5m3 0h3m3 0h5.5m1.9 0h2m2 0h1.5m1 0h3m1.5 0h6.5m1.9 0h2.5m0.5 0h2.5m1.5 0h2m4.5 0h3.5m0.4 0h2.5m2.5 0h1.5m0.5 0h1.5m1.5 0h1.5m3 0h2.5m0.4 0h1.5M85.5 240.22h1.5m8.9 0h1.5m2 0h5.5m9.4 0h1.5m3 0h1.5m1.5 0h1.5m5.5 0h1.5m2.9 0h6.5m6 0h1.5m7.9 0h1.5m1 0h1.5m1 0h2.5m3.5 0h1.5m0.5 0h1.5m1.5 0h1.5m0.4 0h1.5m2 0h3m1.5 0h1.5m4 0h1.5m4.4 0h1.5m1.5 0h1.5m0.5 0h1.5m2.5 0h1.5m1 0h2.5m0.5 0h1.5m2.9 0h2m2 0h3.5m4.5 0h2.5m0.5 0h1.5m3.9 0h1.5m2.5 0h3m2.5 0h1.5m5 0h3m2.4 0h3m4.5 0h2m8.9 0h1.5m4.5 0h2.5m5.5 0h1.5m4.4 0h5.5m1 0h6m1 0h5.5m1.9 0h2m3 0h2m4 0h1.5m1 0h1.5m1 0h3m2.4 0h9m1.5 0h3.5m1.5 0h5m0.4 0h4.5m1 0h2.5m1 0h5.5m2.4 0h1.5m3 0h2.5m5 0h1.5m2.5 0h2m1.9 0h1.5m3.5 0h5m0.5 0h1.5m3 0h3m1.4 0h5.5m1.5 0h1.5m0.5 0h1.5m1 0h1.5m7.4 0h1.5m0.5 0h1.5m2.5 0h3m3 0h1.5m0.5 0h2m0.5 0h1.5m1 0h1.5m0.4 0h2m1.5 0h5m1.5 0h1.5m0.5 0h1.5m6.9 0h3m1.5 0h1.5m5.5 0h1.5m2.5 0h3m4.4 0h4.5m6 0h2m1.9 0h6.5m0.5 0h1.5m1.5 0h1.5m5 0h2.5m1 0h1.5m3.4 0h1.5m1 0h2m3.5 0h2m3 0h3m5.4 0h1.5m2 0h1.5m4 0h1.5m1.5 0h1.5m0.4 0h2.0M80 237.44h4.5m4 0h3.5m12.4 0h2.5m0.5 0h3.5m1.4 0h1.5m2 0h8m5.5 0h1.5m1.9 0h3.5m3 0h2m3 0h1.5m1 0h4.5m0.4 0h1.5m0.5 0h1.5m1 0h1.5m2 0h3m7.5 0h1.5m3.4 0h4m4 0h1.5m1.5 0h1.5m1 0h1.5m0.5 0h1.5m0.9 0h3m4.5 0h2m0.5 0h3.5m3 0h3m0.9 0h2m1 0h1.5m1.5 0h3m3 0h3.5m0.5 0h1.5m1.9 0h1.5m0.5 0h1.5m3 0h1.5m0.5 0h4.5m1.5 0h5.5m2.4 0h1.5m3.5 0h1.5m1.5 0h2m7.4 0h1.5m0.5 0h3m0.5 0h4m1.5 0h10.5m0.9 0h4.5m1 0h8m0.5 0h6m0.9 0h5.5m1.5 0h3m0.5 0h2.5m0.5 0h14.4m0.5 0h1.5m2 0h10m0.9 0h7.5m0.5 0h6.5m3.9 0h3m1 0h4m2 0h5.5m3.4 0h2.5m1 0h4m0.5 0h4.5m0.5 0h4m0.4 0h1.5m0.5 0h1.5m3.5 0h4m1.5 0h1.5m9.9 0h1.5m1 0h1.5m0.5 0h2.5m1 0h3m2.9 0h3m1.5 0h2m1.5 0h5m1.5 0h2m1 0h1.5m2.4 0h3.5m1 0h2.5m1 0h1.5m0.5 0h2.5m1.5 0h2m2.9 0h1.5m0.5 0h1.5m1.5 0h2m1 0h1.5m3 0h4m3.4 0h2m0.5 0h1.5m1.5 0h3m0.5 0h3m0.5 0h6m1.4 0h1.5m1.5 0h2.5m1.5 0h2.5m1.5 0h1.5m2.5 0h2m1.4 0h1.5m1 0h7m0.5 0h1.5m1 0h1.5m3 0h2.5m0.9 0h1.5M84.5 234.65h1.5m3 0h1.5m2.4 0h1.5m0.5 0h3m2.5 0h1.5m0.5 0h5.5m3.5 0h1.5m5.9 0h2m3 0h1.5m2.5 0h3.5m0.9 0h4m2 0h5.5m6 0h2.5m0.9 0h1.5m2.5 0h2.5m0.5 0h1.5m2 0h1.5m2 0h1.5m2.9 0h1.5m2.5 0h4.5m2 0h2.5m5.5 0h1.5m6.9 0h1.5m1.5 0h3.5m3 0h1.5m3.4 0h2m1 0h1.5m1 0h1.5m3 0h2.5m2 0h4m3.9 0h1.5m6 0h2.5m2.5 0h3m3.9 0h1.5m0.5 0h1.5m2.5 0h1.5m1 0h3m1 0h2m0.5 0h1.5m1.9 0h1.5m0.5 0h2.5m1 0h3.5m1.5 0h4m0.5 0h2.5m0.5 0h1.5m0.9 0h10m2 0h4.5m1.4 0h4m1.5 0h1.5m2.5 0h1.5m0.5 0h4.5m0.5 0h2.5m0.9 0h4m4 0h2.5m0.5 0h3.5m0.5 0h5m2.4 0h1.5m4.5 0h6.5m1 0h1.5m0.5 0h3.5m0.4 0h1.5m2.5 0h1.5m1 0h4.5m2.5 0h3m0.9 0h1.5m0.5 0h1.5m0.5 0h2m16.4 0h1.5m10.5 0h1.5m1 0h3.5m0.4 0h1.5m1 0h1.5m13.5 0h2m0.9 0h1.5m1.5 0h1.5m6 0h1.5m2 0h1.5m0.5 0h3m6.9 0h6m1.5 0h1.5m2 0h1.5m4.9 0h1.5m0.5 0h2.5m0.5 0h1.5m3.5 0h1.5m1.5 0h4m0.9 0h3.5m1 0h3m4.5 0h1.5m0.5 0h7m5.9 0h8m1.9 0h2m1.5 0h1.5m3 0h1.5m3 0h1.5m0.5 0h1.5m0.5 0h3m1.4 0h2.5M82.5 231.86h1.5m0.5 0h3.5m2 0h4m1.4 0h2m1 0h5.5m0.5 0h3m0.5 0h3.5m2.4 0h3m1 0h3m1 0h1.5m1 0h1.5m1.5 0h1.5m9.4 0h3m1 0h3m1.5 0h1.5m0.5 0h5.5m0.9 0h1.5m1 0h1.5m1 0h1.5m2.5 0h4.5m2 0h5.5m0.9 0h2.5m2.5 0h1.5m0.5 0h4m2.5 0h5.5m1.4 0h2.5m5 0h1.5m4.5 0h1.5m0.4 0h3m0.5 0h1.5m2.5 0h1.5m1.5 0h2.5m2.5 0h3.5m1.4 0h4m1 0h2m2 0h1.5m0.5 0h2m3.5 0h2m0.4 0h2.5m1.5 0h2m0.5 0h2.5m2.5 0h2.5m2 0h2.5m1.4 0h13.9m1.1 0h4m0.4 0h6.5m0.5 0h3m1.5 0h17.9m1 0h3.5m2 0h15.4m1.5 0h1.5m1 0h9m0.9 0h1.5m0.5 0h8.5m2.5 0h8.5m0.4 0h2m0.5 0h1.5m0.5 0h2m2.5 0h1.5m0.5 0h2.5m0.4 0h1.5m3 0h4m0.5 0h1.5m0.5 0h3m0.5 0h5m0.9 0h3m1.5 0h1.5m1 0h4m1 0h1.5m4.4 0h1.5m0.5 0h1.5m0.5 0h1.5m1 0h3m0.5 0h3m1 0h3.5m1 0h1.5m0.9 0h9.5m2 0h2m3 0h1.5m0.4 0h5.5m0.5 0h6m2 0h9m3.4 0h3m1.5 0h2.5m2 0h2m1 0h3m0.4 0h9m1 0h2.5m5.9 0h1.5m0.5 0h3.5m2 0h4.5m3 0h7m2.9 0h5m5 0h5m0.4 0h1.5M85.5 229.08h6m6.9 0h3m0.5 0h2.5m0.5 0h1.5m1 0h2m2 0h1.5m0.4 0h8m1 0h1.5m2 0h2.5m1 0h1.5m1.9 0h7.5m3 0h2m6.9 0h1.5m1 0h1.5m0.5 0h1.5m0.5 0h3m0.5 0h2m0.5 0h2.5m2.5 0h4.5m2.9 0h1.5m1.5 0h5.5m1 0h1.5m4.9 0h3m3 0h3.5m2.5 0h1.5m5.4 0h1.5m4 0h1.5m0.5 0h1.5m3 0h1.5m1 0h3m0.5 0h2m2.4 0h3m2.5 0h2.5m1 0h3m1 0h1.5m1.5 0h2.5m2.4 0h6m0.5 0h1.5m1 0h2.5m0.5 0h2.5m1.4 0h1.5m5 0h1.5m2.5 0h1.5m1.5 0h1.5m0.5 0h2.5m1 0h2.5m1.9 0h19.9m1.5 0h9.5m1.5 0h3m0.5 0h10m3.4 0h1.5m0.5 0h10.5m0.9 0h3.5m1 0h5m3.5 0h1.5m3.9 0h1.5m1.5 0h3.5m0.5 0h1.5m3.5 0h1.5m1.4 0h1.5m1 0h1.5m2 0h1.5m1 0h1.5m2 0h5.5m0.5 0h1.5m0.9 0h4m1.5 0h1.5m4.5 0h1.5m3 0h3m2.9 0h1.5m11.5 0h3m2.9 0h1.5m0.5 0h4.5m1 0h1.5m3 0h1.5m1 0h1.5m2.9 0h1.5m8.5 0h1.5m4.5 0h1.5m1 0h2.5m1.9 0h1.5m6.5 0h1.5m5 0h2m0.4 0h3m9.5 0h1.5m0.5 0h2.5m2.5 0h1.5m4.9 0h1.5m2 0h1.5m4 0h2.5m1.5 0h2.5m0.9 0h1.5m1.5 0h5m0.5 0h1.5m1.5 0h3.5m3.4 0h1.5M79.5 226.29h1.5m2 0h1.5m1.5 0h6m0.9 0h1.5m3 0h3m2 0h1.5m1 0h1.5m1 0h3m0.5 0h5.5m0.9 0h2m1.5 0h3m1 0h1.5m0.5 0h1.5m1.5 0h5m0.9 0h1.5m5 0h3m0.5 0h2.5m6.4 0h1.5m2 0h1.5m1 0h2m4.5 0h2m2 0h2m1.4 0h1.5m0.5 0h2m0.5 0h2.5m1 0h6m4.4 0h4m2 0h1.5m1 0h4m1.5 0h3m0.5 0h9m1.9 0h3.5m1.5 0h1.5m7.4 0h2.5m0.5 0h2.5m1.5 0h2.5m0.5 0h1.5m0.5 0h2m5.4 0h1.5m2 0h1.5m4 0h6m0.5 0h2m8.4 0h1.5m2.5 0h2.5m4 0h1.5m2.4 0h5.5m2.5 0h2m0.5 0h1.5m2.5 0h3m4.9 0h4.5m2 0h4.5m1 0h3m0.4 0h3m0.5 0h2.5m0.5 0h2.5m4 0h5.5m1.4 0h1.5m2 0h1.5m2.5 0h2.5m1 0h2m0.5 0h1.5m0.5 0h5m0.4 0h4m4.5 0h1.5m0.5 0h2.5m1 0h1.5m0.5 0h3m0.9 0h2m0.5 0h4m5 0h1.5m4 0h1.5m1.4 0h6m1.5 0h3.5m3 0h1.5m1 0h4.5m1.9 0h1.5m4 0h1.5m1 0h4m1 0h3m1.9 0h4m0.5 0h2.5m1.5 0h2.5m2.5 0h1.5m4.9 0h3.5m0.5 0h3.5m4.5 0h2.5m0.5 0h2m0.4 0h2.5m2 0h1.5m1 0h1.5m1.5 0h1.5m1.5 0h4.5m6.4 0h3m2 0h5.5m1.5 0h1.5m0.5 0h1.5m2.9 0h1.5m0.5 0h1.5m1.5 0h1.5m7 0h1.5m0.9 0h1.5m1 0h2.5m2 0h2.5m1.5 0h4.5m3.5 0h4.0M78.5 223.50h4.5m6.5 0h1.5m1.4 0h3.5m1 0h3.5m5 0h1.5m4.9 0h1.5m5 0h1.5m1.5 0h1.5m1.5 0h1.5m4.5 0h1.5m1.4 0h3.5m3.5 0h3m3 0h4m5.9 0h1.5m7 0h1.5m1 0h1.5m15.4 0h1.5m1 0h1.5m1 0h1.5m4.9 0h2m5.5 0h1.5m3.5 0h2.5m3.4 0h1.5m7.5 0h4m1.5 0h1.5m2.9 0h1.5m2.5 0h2.5m0.5 0h2m2 0h2.5m5 0h2m2.9 0h5m1.5 0h4m0.5 0h1.5m1 0h4m0.4 0h3m0.5 0h1.5m9 0h3m0.4 0h3m2.5 0h4m0.5 0h1.5m5 0h2.5m1.4 0h2m3.5 0h4m1 0h3m2 0h3.5m2.4 0h2m3 0h11.4m1.5 0h1.5m0.5 0h1.5m0.5 0h3.5m1 0h1.5m1 0h3m2 0h1.5m1 0h4m1.4 0h2.5m2 0h3m5 0h1.5m2.4 0h1.5m0.5 0h1.5m0.5 0h2m1 0h3m0.5 0h1.5m0.5 0h1.5m5.4 0h3.5m0.5 0h2.5m1.5 0h1.5m0.5 0h1.5m0.5 0h1.5m3.5 0h1.5m1.9 0h2m1.5 0h1.5m0.5 0h4m0.5 0h6.5m1 0h1.5m0.4 0h4m3 0h1.5m2 0h2.5m0.5 0h1.5m2.5 0h2.5m5.9 0h1.5m1 0h1.5m3 0h4m2.4 0h1.5m2 0h1.5m2 0h1.5m2.5 0h2.5m0.5 0h1.5m1.5 0h2m2.4 0h1.5m5.5 0h2m6.5 0h1.5m4.4 0h2.5m1 0h1.5m0.5 0h2m5 0h1.5m5.4 0h1.5m2 0h2.5m0.5 0h1.5m2 0h1.5m2.5 0h1.5m2.9 0h1.5M81 220.72h2.5m1 0h4.5m0.5 0h4m4.9 0h1.5m9 0h1.5m1.9 0h2m1 0h2.5m1.5 0h1.5m0.5 0h6.5m2 0h1.5m3.4 0h3.5m2.5 0h2.5m0.5 0h2.5m5.9 0h1.5m2 0h3m4 0h1.5m1 0h1.5m0.5 0h2.5m3.4 0h2m0.5 0h1.5m3 0h1.5m2 0h1.5m2.5 0h2m1.5 0h1.5m2.9 0h1.5m1.5 0h1.5m3.5 0h1.5m1.5 0h6.5m2.4 0h2.5m1.5 0h1.5m2.5 0h1.5m2 0h1.5m3.9 0h1.5m1.5 0h3m3 0h2m2 0h2.5m5.4 0h1.5m1.5 0h1.5m1 0h3m0.5 0h3m1.5 0h5m2.9 0h1.5m0.5 0h1.5m0.5 0h3m2 0h1.5m1.5 0h5m0.4 0h1.5m0.5 0h1.5m8 0h3m4.4 0h3.5m1 0h9.5m0.5 0h4m2.4 0h4m1 0h1.5m1 0h7m0.5 0h4.5m2.4 0h6m1.5 0h4m1 0h2.5m0.5 0h2m1.9 0h3.5m2.5 0h1.5m0.5 0h3m1.5 0h1.5m0.5 0h3m0.4 0h1.5m3 0h3m1 0h1.5m0.5 0h1.5m1 0h1.5m2 0h1.5m2.9 0h1.5m1 0h1.5m2.5 0h2.5m5 0h1.5m3.9 0h2.5m2.5 0h3m2.5 0h1.5m1 0h3m3.4 0h3.5m1 0h1.5m3.5 0h9m1.4 0h2m3.5 0h2m1.5 0h3m0.5 0h1.5m1.5 0h3m2.9 0h2m5 0h3.5m1 0h2m4 0h4.5m1.4 0h3m5 0h1.5m0.5 0h2m0.5 0h1.5m2.9 0h1.5m5.5 0h2.5m1.5 0h1.5m5.9 0h1.5m1.5 0h1.5m4 0h3m2 0h3.5m3.4 0h1.5M85 217.93h3m5.4 0h1.5m1.5 0h1.5m15.4 0h1.5m3.5 0h1.5m4.5 0h2.5m11.9 0h1.5m1 0h1.5m10.4 0h1.5m4.5 0h1.5m1 0h1.5m24.4 0h1.5m7.9 0h1.5m4 0h2.5m1 0h1.5m3.5 0h1.5m1.4 0h1.5m4 0h5m3 0h1.5m0.5 0h2m10.4 0h3m4.5 0h3m4.4 0h2m0.5 0h1.5m1.5 0h1.5m1.5 0h3m4.4 0h2.5m1 0h6.5m3.5 0h1.5m3.9 0h4m0.5 0h2m2 0h2.5m2 0h2.5m4.4 0h1.5m1.5 0h3m0.5 0h3m1.5 0h1.5m0.5 0h2.5m1.5 0h2m6.9 0h1.5m0.5 0h1.5m5 0h1.5m1 0h1.5m2.4 0h2m1.5 0h1.5m11.5 0h4.5m0.9 0h1.5m6 0h1.5m6 0h1.5m3.9 0h1.5m2.5 0h1.5m3 0h1.5m3.5 0h1.5m1 0h5m0.4 0h1.5m7.5 0h1.5m8.9 0h3m0.5 0h2m3 0h1.5m5 0h1.5m2.9 0h1.5m1 0h3m1 0h1.5m0.5 0h1.5m10.9 0h1.5m2 0h1.5m4 0h2.5m15.4 0h1.5m3 0h1.5m0.5 0h2.5m1.9 0h1.5m11.5 0h1.5m0.5 0h1.5m2.9 0h1.5m1.5 0h1.5m4 0h2.5m11.9 0h3.5m10 0h1.5M82.5 215.14h2m3.5 0h1.5m3.4 0h3m5 0h1.5m2 0h3m22.9 0h1.5m1.4 0h1.5m9 0h1.5m2 0h4.5m0.9 0h1.5m3.5 0h2.5m2.5 0h1.5m16.9 0h2.5m1.5 0h1.5m3.5 0h1.5m6.9 0h1.5m1 0h1.5m0.5 0h1.5m9.9 0h1.5m15.9 0h3m4.5 0h1.5m3.5 0h2m2 0h4m3.9 0h1.5m0.5 0h1.5m2.5 0h4m0.5 0h2.5m1.9 0h4m1 0h1.5m1.5 0h1.5m4 0h1.5m2 0h4.5m1.4 0h4m0.5 0h4m4 0h2.5m0.5 0h1.5m0.4 0h1.5m1.5 0h4m0.5 0h3.5m1.5 0h5.5m0.5 0h11.4m1.5 0h2m5 0h1.5m0.4 0h6m2.5 0h3m5 0h1.5m1.4 0h1.5m2 0h1.5m3 0h2m3 0h1.5m0.5 0h2.5m0.5 0h3m0.4 0h1.5m2 0h2m0.5 0h2.5m1 0h1.5m3.5 0h2m1.9 0h2m4.5 0h1.5m2.5 0h1.5m3 0h3m2.9 0h1.5m11 0h1.5m5.9 0h1.5m2.5 0h1.5m4.5 0h1.5m4.5 0h1.5m2.9 0h2.5m4 0h8.5m7.9 0h1.5m0.5 0h1.5m5 0h2m2 0h1.5m1.9 0h3m27.4 0h2m2 0h1.5m5.4 0h3m7 0h1.5m5 0h4.0M79 212.35h3m1 0h3.5m2 0h5.5m0.4 0h1.5m4.5 0h1.5m10.9 0h1.5m3 0h1.5m4 0h1.5m2 0h2m2 0h1.5m0.9 0h1.5m1 0h3.5m1 0h1.5m2.5 0h3m2.5 0h3m1.9 0h3m0.5 0h1.5m1.5 0h3m3.5 0h2m8.4 0h1.5m7 0h3.5m9.9 0h1.5m4 0h8.5m1.4 0h1.5m1 0h2m4.5 0h1.5m5.9 0h1.5m4.5 0h1.5m6.5 0h1.5m4.5 0h4.5m2.9 0h1.5m1 0h6m9.4 0h5.5m9.9 0h8m2.5 0h4.5m1 0h1.5m1.4 0h1.5m0.5 0h1.5m0.5 0h9m0.5 0h19.9m2 0h4.5m0.4 0h1.5m0.5 0h1.5m0.5 0h5.5m0.5 0h3m0.5 0h3.5m0.5 0h4m0.9 0h3m1 0h1.5m0.5 0h2m0.5 0h3m4 0h1.5m1.4 0h4m3 0h1.5m3 0h1.5m1 0h2m0.5 0h2m3.9 0h3m2 0h1.5m0.5 0h2.5m4 0h1.5m5.4 0h4m7.5 0h1.5m1.5 0h2m0.9 0h1.5m1 0h1.5m1 0h1.5m0.5 0h1.5m3 0h2.5m1.5 0h1.5m1.9 0h2m4 0h1.5m5.5 0h1.5m0.5 0h2.5m1 0h1.5m1.4 0h1.5m5 0h3m0.5 0h1.5m3.5 0h1.5m7.4 0h5m1.5 0h2m4.5 0h1.5m0.4 0h1.5m2 0h1.5m1 0h1.5m7 0h5.5m0.4 0h2m3 0h1.5m1.5 0h1.5m2 0h1.5M78.5 209.57h1.5m6.5 0h1.5m6.9 0h6m2 0h1.5m3.5 0h1.5m2 0h1.5m0.9 0h1.5m0.5 0h1.5m2 0h4m1.5 0h2m4.9 0h2m1.5 0h3.5m1 0h1.5m2 0h1.5m1 0h1.5m5.9 0h1.5m2.5 0h3.5m0.5 0h3m14.4 0h1.5m2.5 0h1.5m0.5 0h4.5m1.5 0h1.5m8.4 0h1.5m5.5 0h3m17.4 0h1.5m3.9 0h1.5m4.5 0h1.5m2 0h1.5m7.4 0h1.5m4.5 0h1.5m2 0h1.5m2 0h1.5m0.5 0h2.5m1.5 0h7m1.4 0h3m4.5 0h2.5m1 0h1.5m2.4 0h2m3 0h1.5m2 0h6.5m1.5 0h2.5m1.4 0h2.5m0.5 0h1.5m6.5 0h1.5m4.4 0h1.5m1.5 0h1.5m4 0h2.5m2.5 0h3m6.4 0h2.5m2 0h2m3.5 0h1.5m8.4 0h1.5m2 0h3m2.5 0h2m5.4 0h1.5m0.5 0h1.5m7 0h2m5.5 0h1.5m4.4 0h1.5m5 0h2.5m0.5 0h1.5m1 0h1.5m2.9 0h2.5m5 0h1.5m4.5 0h1.5m3 0h1.5m1.9 0h1.5m0.5 0h1.5m1 0h1.5m1 0h2m2 0h1.5m2 0h4.5m4.4 0h3m4.5 0h1.5m5 0h1.5m6.9 0h2.5m5.5 0h3m11.9 0h1.5m1 0h1.5m5 0h1.5m1.9 0h1.5m0.5 0h1.5m0.5 0h1.5m4 0h2.5m20.9 0h1.5m2.4 0h1.5M80.5 206.78h1.5m2.5 0h1.5m1 0h2.5m2 0h3.5m6.9 0h1.5m3 0h1.5m3.9 0h1.5m1 0h4m1 0h1.5m1 0h1.5m1 0h2.5m2 0h7m4.9 0h1.5m9 0h4.5m1.4 0h3m0.5 0h2.5m1.5 0h1.5m1.5 0h1.5m3.9 0h1.5m1.5 0h1.5m1 0h7m7.4 0h1.5m1 0h1.5m5 0h3m3.5 0h3m0.9 0h1.5m6.5 0h3m4 0h2.5m6.9 0h1.5m1 0h1.5m7 0h2m0.5 0h1.5m0.4 0h2.5m1.5 0h1.5m0.5 0h1.5m0.5 0h3m2 0h1.5m0.5 0h1.5m1 0h2m0.9 0h4m0.5 0h1.5m2 0h1.5m1 0h6.5m1.5 0h10m1.9 0h4.5m0.5 0h2.5m1.4 0h1.5m1 0h2m1 0h5m1 0h8m0.4 0h5m1.5 0h11m0.5 0h4.5m0.4 0h3m1.5 0h1.5m0.5 0h1.5m0.5 0h1.5m1 0h1.5m0.5 0h2m0.9 0h3m1 0h4m3 0h3.5m0.5 0h2.5m1 0h2m2.4 0h7.5m4 0h4m3.4 0h2.5m1 0h2.5m2 0h6m3 0h1.5m5.9 0h1.5m4.5 0h1.5m5.5 0h3m0.4 0h2m0.5 0h1.5m0.5 0h3m0.5 0h1.5m0.5 0h3m3 0h2.5m0.9 0h2m6 0h2.5m1 0h3m0.5 0h3m2.4 0h4.5m0.5 0h3m4 0h1.5m3.4 0h1.5m3 0h3m2 0h1.5m2.5 0h1.5m5.9 0h1.5m1.5 0h2.5m1.5 0h4.5m1 0h1.5m0.5 0h1.5m1 0h1.5m1.4 0h1.5m1.5 0h3m0.5 0h2m3 0h2.5m4 0h1.5m0.4 0h2.0M80.5 203.99h1.5m11.4 0h1.5m3 0h1.5m2 0h1.5m0.5 0h1.5m1 0h1.5m7.4 0h1.5m7 0h1.5m0.5 0h3.5m2 0h1.5m3.9 0h1.5m20.4 0h1.5m3 0h1.5m1 0h1.5m3 0h2m2.4 0h1.5m3 0h1.5m7.5 0h1.5m3.4 0h1.5m6 0h1.5m0.5 0h1.5m5.5 0h1.5m14.4 0h2.5m3.5 0h1.5m2.4 0h3.5m4 0h1.5m2.5 0h1.5m5.9 0h1.5m5.5 0h4m0.5 0h1.5m1 0h1.5m6.4 0h1.5m2.5 0h6m0.5 0h2.5m2.9 0h1.5m5 0h6m5 0h2m0.4 0h2.5m0.5 0h2m1 0h1.5m0.5 0h2.5m1 0h3.5m4 0h1.5m0.4 0h1.5m2.5 0h2.5m1.5 0h2m3 0h2m1 0h10m1.4 0h2.5m1.5 0h1.5m1.5 0h1.5m3.4 0h1.5m0.5 0h1.5m1.5 0h1.5m2 0h1.5m2 0h1.5m1 0h1.5m1.5 0h1.5m6.4 0h1.5m9 0h1.5m2.4 0h1.5m3 0h1.5m2.5 0h1.5m2 0h1.5m1 0h1.5m15.4 0h1.5m1.5 0h1.5m1 0h1.5m0.9 0h2m0.5 0h1.5m2 0h1.5m2.5 0h1.5m6.5 0h1.5m11.9 0h1.5m9.4 0h1.5m7.5 0h1.5m3.5 0h2m4.4 0h2.5m2 0h3.5m5.5 0h2.5m7.9 0h1.5m1 0h1.5m1 0h2.5m5.4 0h1.5m8 0h1.5m2.5 0h1.5M83.5 201.21h1.5m0.5 0h2.5m6.4 0h4m12.5 0h2m6.9 0h1.5m0.5 0h1.5m5.5 0h2m1.4 0h1.5m1.5 0h2m8 0h1.5m1.5 0h3.5m1.4 0h1.5m2 0h1.5m7.5 0h1.5m2 0h4m1.4 0h5m1 0h1.5m6.5 0h4.5m1.4 0h1.5m1.5 0h1.5m4.5 0h2.5m3 0h1.5m1.9 0h1.5m1 0h4m0.5 0h1.5m1 0h1.5m2.5 0h1.5m2.5 0h1.5m1.4 0h1.5m1.5 0h2.5m1.5 0h5m2 0h3m2.4 0h3.5m1 0h2.5m3 0h3.5m0.5 0h1.5m1.5 0h1.5m7.4 0h1.5m0.5 0h2.5m3 0h1.5m2 0h2m0.4 0h2.5m2 0h1.5m5 0h2m4 0h1.5m0.9 0h3.5m2.5 0h1.5m1 0h7m2.5 0h8m0.9 0h1.5m2 0h1.5m1.5 0h1.5m1.5 0h1.5m1 0h1.5m3.4 0h2.5m0.5 0h2.5m5 0h1.5m1 0h5m2.4 0h1.5m3 0h2m1.5 0h1.5m1.5 0h3m4.4 0h1.5m0.5 0h1.5m2.5 0h2m2 0h4.5m3.9 0h1.5m0.5 0h2m3.5 0h3m5 0h3.5m2.9 0h1.5m1.5 0h4m2 0h1.5m1 0h1.5m3.5 0h1.5m5.9 0h1.5m0.5 0h3m2.5 0h4m0.5 0h1.5m4.9 0h1.5m0.5 0h5m3 0h1.5m2.4 0h3m2.5 0h1.5m1 0h1.5m3 0h1.5m4.5 0h1.5m2.9 0h2.5m1.5 0h1.5m2.5 0h4m1.5 0h2m0.5 0h3m1.9 0h1.5m0.5 0h4m3 0h1.5m1 0h3m1.9 0h1.5m4 0h1.5m0.5 0h2.5m1.5 0h2m5 0h1.5m0.4 0h1.5M78.5 198.42h1.5m1 0h1.5m4.5 0h1.5m3.9 0h1.5m16 0h1.5m6.9 0h1.5m5.5 0h1.5m1.5 0h1.5m4.9 0h3m8 0h1.5m5.9 0h1.5m1.5 0h1.5m2 0h1.5m1 0h1.5m3 0h3m9.9 0h1.5m6 0h1.5m8.4 0h1.5m8 0h1.5m0.5 0h1.5m2.9 0h1.5m4.5 0h2.5m9.9 0h3m1 0h1.5m3.5 0h1.5m1.5 0h6m5.9 0h1.5m7.5 0h2m4 0h5m1.4 0h1.5m0.5 0h1.5m1.5 0h2m2.5 0h2.5m0.5 0h3.5m0.9 0h1.5m12.5 0h1.5m1.9 0h1.5m1.5 0h3.5m0.5 0h2m0.5 0h4m2 0h2.5m2.9 0h4m1.5 0h5m2.5 0h1.5m1 0h2.5m5.4 0h3m1 0h3m1 0h1.5m1.5 0h2m0.5 0h3m1.9 0h1.5m5 0h1.5m1 0h2m4 0h1.5m6.9 0h1.5m2.5 0h1.5m1 0h1.5m3 0h2m0.5 0h1.5m22.8 0h1.5m3 0h1.5m0.5 0h2m5.5 0h1.5m8.9 0h1.5m7 0h1.5m8.4 0h2.5m10.9 0h1.5m2 0h1.5m4.5 0h1.5m2 0h2m19.9 0h1.5m25.3 0h1.5m4 0h2m0.5 0h1.5m1.5 0h1.5m2 0h1.5m0.5 0h2.0M84 195.63h1.5m6.4 0h1.5m2 0h1.5m2.5 0h1.5m0.5 0h8m1 0h2.5m0.9 0h1.5m1.5 0h1.5m2 0h2m10.9 0h1.5m0.5 0h2.5m9 0h4m3.4 0h1.5m10 0h1.5m1 0h2m1.9 0h3m1 0h1.5m3.5 0h3.5m2.5 0h1.5m3.4 0h4.5m3.5 0h1.5m1 0h1.5m0.5 0h2.5m4.9 0h1.5m3 0h1.5m1.5 0h4m4.5 0h3m4.4 0h1.5m3 0h4m1.5 0h2m0.5 0h1.5m0.5 0h1.5m5.9 0h1.5m2 0h1.5m0.5 0h4.5m2.5 0h6m2.4 0h2.5m1 0h2m1 0h3.5m1 0h2m0.9 0h1.5m0.5 0h2.5m1 0h3.5m0.5 0h1.5m1.5 0h4.5m1 0h1.5m2.9 0h1.5m2 0h2.5m3.5 0h1.5m1 0h5.5m0.9 0h5.5m0.5 0h1.5m1.5 0h1.5m3 0h3m1.9 0h1.5m1.5 0h2.5m1 0h1.5m2.5 0h2.5m5 0h1.5m3.4 0h5.5m1 0h1.5m1 0h2.5m5.4 0h2.5m4.5 0h1.5m9 0h3m3.4 0h1.5m2 0h3m1.5 0h4m1 0h1.5m3.9 0h1.5m3 0h1.5m0.5 0h1.5m4.5 0h1.5m5.9 0h1.5m0.5 0h1.5m5.5 0h1.5m13.9 0h2m15.9 0h2.5m4 0h1.5m1 0h1.5m0.5 0h1.5m1 0h1.5m0.9 0h1.5m4 0h1.5m7.5 0h1.5m8.4 0h3m5.5 0h1.5m0.5 0h3m3.9 0h1.5m3 0h4m1 0h1.5m1 0h3.0M88 192.85h1.5m0.5 0h1.5m2.4 0h4m3.5 0h1.5m1.5 0h3m4 0h7m3.9 0h2.5m5 0h1.5m5.4 0h2.5m0.5 0h1.5m4 0h5m2.4 0h1.5m2.5 0h1.5m4.5 0h6m9.4 0h1.5m2 0h3m1 0h3m0.5 0h1.5m0.5 0h1.5m2.9 0h1.5m1 0h1.5m0.5 0h1.5m7 0h2.5m2.4 0h1.5m2 0h1.5m3 0h3m1 0h1.5m0.5 0h1.5m3.9 0h2m1 0h1.5m1.5 0h1.5m3.5 0h1.5m7.9 0h1.5m16.4 0h1.5m1.5 0h2.5m1 0h4m1.5 0h2m1.5 0h1.5m0.5 0h1.5m2.4 0h4m3.5 0h1.5m3 0h3m1.5 0h3.5m0.9 0h2m1.5 0h1.5m0.5 0h2m1.5 0h1.5m0.5 0h1.5m1.5 0h1.5m4.4 0h3m1.5 0h2.5m2.5 0h4m1 0h1.5m1 0h2m1.4 0h1.5m12.5 0h1.5m2.9 0h1.5m2.5 0h7m9.4 0h1.5m5 0h2.5m0.5 0h2.5m0.5 0h1.5m3.5 0h3m1.9 0h3m1 0h7m1.5 0h1.5m1.4 0h3m0.5 0h1.5m12 0h1.5m7.9 0h2.5m4.5 0h2m5.9 0h1.5m1 0h5.5m2 0h1.5m4 0h1.5m1.9 0h1.5m9 0h2m4 0h2m4.9 0h1.5m0.5 0h5.5m0.5 0h1.5m3 0h1.5m6.9 0h3m3 0h1.5m2 0h1.5m1.5 0h2m2.4 0h1.5m3.5 0h1.5m7.5 0h2.5M80 190.06h1.5m0.5 0h1.5m2 0h1.5m9.4 0h1.5m10.5 0h1.5m6.4 0h2m16.9 0h1.5m7 0h1.5m6 0h1.5m3.9 0h3m2 0h3m15.4 0h1.5m1 0h1.5m9.9 0h1.5m0.5 0h1.5m2 0h1.5m3 0h1.5m4.5 0h2m7.9 0h1.5m0.5 0h2.5m0.5 0h1.5m2.5 0h1.5m1.9 0h1.5m9 0h1.5m1 0h2.5m1 0h2m0.5 0h1.5m0.9 0h1.5m9.5 0h3m7.4 0h1.5m1.5 0h1.5m2.5 0h1.5m1.5 0h2m10.4 0h1.5m8 0h1.5m0.5 0h3m2.9 0h1.5m1.5 0h1.5m3.5 0h3m7.4 0h1.5m0.5 0h1.5m1.5 0h3m9 0h1.5m2.4 0h1.5m3 0h1.5m4.5 0h1.5m0.5 0h1.5m7.9 0h1.5m5 0h2.5m1 0h1.5m10.9 0h1.5m9 0h1.5m16.4 0h1.5m12.9 0h1.5m23.4 0h1.5m5.4 0h1.5m19.9 0h1.5m3 0h2m1 0h1.5m5.5 0h1.5m0.4 0h1.5m10.5 0h1.5m8.4 0h3.5m4 0h1.5m5.5 0h2.5m3.9 0h1.5m5 0h1.5m3 0h3.0M80.5 187.27h2m2.5 0h2m5.9 0h2.5m11 0h1.5m2.5 0h1.5m0.4 0h3m2 0h1.5m5.5 0h1.5m1 0h2.5m4.9 0h1.5m3.5 0h1.5m4.5 0h1.5m4 0h1.5m2.4 0h1.5m2.5 0h1.5m4.5 0h2.5m1 0h1.5m8.4 0h3m1.5 0h4m4.9 0h1.5m1.5 0h1.5m0.5 0h2m3 0h3.5m0.5 0h1.5m1.5 0h1.5m1 0h1.5m0.4 0h2.5m4 0h1.5m0.5 0h6.5m6.4 0h1.5m2 0h1.5m3 0h3m5.5 0h1.5m0.9 0h1.5m4 0h1.5m1 0h1.5m2 0h4.5m10.4 0h5m3 0h1.5m0.5 0h1.5m0.9 0h6m0.5 0h2.5m6 0h12.9m0.5 0h5m4 0h1.5m0.4 0h2m1.5 0h2.5m3 0h3.5m0.5 0h6m2.9 0h2.5m1 0h3.5m1 0h1.5m1.5 0h1.5m1 0h3m1.4 0h5m0.5 0h1.5m2.5 0h2m0.5 0h4m1 0h2.5m4.4 0h4.5m5 0h4m3.4 0h2m0.5 0h1.5m2 0h1.5m2 0h5.5m4.9 0h1.5m3.5 0h1.5m1.5 0h1.5m1 0h3.5m1.5 0h2m1.9 0h3m9 0h1.5m1.5 0h1.5m1 0h1.5m2.4 0h4m1.5 0h2m1 0h1.5m2 0h2.5m4.4 0h1.5m5 0h1.5m1.5 0h3m4 0h1.5m1.9 0h1.5m1 0h3m8.5 0h1.5m0.5 0h2m0.5 0h1.5m2.4 0h1.5m0.5 0h1.5m7 0h1.5m2 0h1.5m2.9 0h1.5m2 0h5m1.5 0h3.5m2.5 0h2.0M90 184.48h1.5m1.4 0h1.5m7 0h1.5m4 0h4m5.9 0h1.5m2 0h2.5m6.5 0h1.5m0.5 0h1.5m0.4 0h3m3 0h1.5m2 0h1.5m3 0h1.5m4.4 0h3.5m2.5 0h1.5m5 0h1.5m3 0h1.5m0.9 0h1.5m1 0h1.5m11 0h2m1 0h1.5m0.9 0h1.5m2.5 0h2.5m2.5 0h1.5m1 0h3m2.5 0h2m1.9 0h1.5m6 0h1.5m3.5 0h1.5m12.9 0h6m3 0h2.5m0.9 0h1.5m1 0h2.5m4 0h1.5m1 0h2.5m3.9 0h3m3.5 0h3.5m1 0h5.5m0.5 0h2m2.4 0h2.5m2 0h1.5m0.5 0h5m0.5 0h4.5m1 0h1.5m1.9 0h3m4 0h1.5m1 0h4m1.5 0h1.5m0.5 0h2m0.4 0h8m0.5 0h2.5m0.5 0h3m1.5 0h1.5m0.4 0h2.5m4 0h1.5m3.5 0h2.5m1.5 0h1.5m1 0h1.5m0.4 0h1.5m1 0h2.5m3 0h2.5m2 0h4m2 0h1.5m0.9 0h2.5m3 0h4m9 0h1.5m1.4 0h1.5m9 0h3m3.9 0h2.5m0.5 0h2.5m9 0h1.5m1.5 0h1.5m0.5 0h1.5m7.4 0h3.5m1.5 0h1.5m8.9 0h1.5m0.5 0h2m8.5 0h1.5m6.4 0h2m2 0h3m2.5 0h4m2.9 0h1.5m0.5 0h1.5m5.5 0h1.5m11.4 0h1.5m1 0h2m4.5 0h1.5m2.5 0h1.5m0.5 0h4m0.4 0h1.5m7.5 0h1.5m1 0h2.5M86 181.70h2.5m0.5 0h1.5m9.9 0h1.5m10.9 0h1.5m4.5 0h1.5m2.5 0h1.5m4 0h1.5m1.5 0h1.5m20.3 0h1.5m8.5 0h2m6.9 0h1.5m7 0h3m9.9 0h1.5m0.5 0h1.5m1.5 0h2.5m2 0h1.5m4 0h2m9.9 0h1.5m6 0h2m4.4 0h3m3.5 0h1.5m9 0h1.5m9.9 0h1.5m2 0h1.5m2 0h1.5m0.4 0h2m5 0h1.5m4.5 0h1.5m3.5 0h5.5m1.4 0h1.5m2.5 0h3.5m1 0h1.5m6.4 0h2.5m5.5 0h1.5m1 0h2m2.5 0h1.5m6.4 0h3m0.5 0h1.5m6 0h1.5m2.4 0h7m2.5 0h1.5m1.5 0h1.5m2 0h4m1.9 0h2.5m3.5 0h1.5m3 0h1.5m2 0h1.5m1.5 0h1.5m3.4 0h1.5m1.5 0h1.5m3.5 0h1.5m5.5 0h1.5m2.9 0h1.5m1.5 0h1.5m2 0h1.5m1.5 0h2.5m8.9 0h1.5m5.5 0h1.5m21.4 0h1.5m11.4 0h1.5m0.5 0h1.5m3.5 0h2.5m4.4 0h2m5 0h2.5m7 0h1.5m2.9 0h1.5m2.5 0h1.5m2.5 0h1.5m3 0h2.5m1 0h1.5m0.4 0h3m6.5 0h1.5m3 0h1.5m4.4 0h1.5m16.5 0h3.0M82 178.91h1.5m8.9 0h1.5m3.5 0h1.5m8 0h1.5m2.5 0h1.5m10.9 0h1.5m1.5 0h2.5m4.9 0h1.5m22.9 0h1.5m1.5 0h1.5m1 0h4.5m4.9 0h1.5m1.5 0h2.5m5 0h1.5m0.5 0h1.5m2 0h1.5m2.9 0h1.5m2.5 0h2.5m1.5 0h3m1 0h1.5m1 0h1.5m7.4 0h1.5m3 0h1.5m7 0h1.5m3.4 0h3m7.5 0h2.5m4.9 0h1.5m2 0h1.5m3 0h1.5m1 0h2.5m3 0h1.5m0.9 0h1.5m2 0h1.5m2 0h1.5m0.5 0h2.5m6.5 0h1.5m5.4 0h2.5m3.5 0h1.5m2 0h1.5m2 0h1.5m0.4 0h1.5m1.5 0h1.5m5 0h2m3 0h1.5m3.5 0h2.5m0.9 0h1.5m4 0h1.5m0.5 0h1.5m2 0h2.5m2 0h4.5m0.9 0h5m3.5 0h1.5m8.4 0h2.5m3 0h3m0.5 0h3m1 0h1.5m2.9 0h1.5m0.5 0h1.5m6 0h3m2.5 0h1.5m12.9 0h1.5m6 0h1.5m1.9 0h1.5m4 0h1.5m5.5 0h1.5m29.8 0h1.5m2.5 0h1.5m9 0h1.5m3.4 0h1.5m20.4 0h1.5m7 0h1.5m4.9 0h1.5m1.5 0h4m5 0h1.5m1.5 0h1.5m1 0h1.5m1.4 0h1.5m3.5 0h3m9.5 0h1.5M79 176.12h1.5m3 0h1.5m4.5 0h1.5m11.4 0h1.5m13.4 0h2m0.5 0h3m9.4 0h1.5m7.5 0h2m3.5 0h1.5m0.5 0h1.5m6.4 0h2m8.5 0h1.5m4.9 0h1.5m7.5 0h1.5m8.9 0h1.5m1 0h1.5m4.5 0h1.5m6.5 0h1.5m9.4 0h1.5m1 0h1.5m1.5 0h1.5m2 0h1.5m1.9 0h2m5 0h2m3.5 0h1.5m0.5 0h1.5m3.4 0h1.5m3 0h4.5m4 0h1.5m2 0h1.5m2.4 0h1.5m2 0h1.5m1 0h1.5m4.5 0h3.5m1.5 0h1.5m2.4 0h1.5m0.5 0h1.5m0.5 0h5m5 0h3m7.4 0h2.5m12.9 0h1.5m5 0h1.5m1.5 0h1.5m6.4 0h1.5m7.5 0h1.5m2.5 0h4m0.5 0h1.5m2.4 0h1.5m1 0h1.5m3.5 0h1.5m5.5 0h2m5.9 0h3m3 0h1.5m2 0h1.5m13.9 0h1.5m1 0h1.5m4.5 0h1.5m0.9 0h3m3.5 0h1.5m11.5 0h1.5m1.4 0h1.5m2 0h1.5m6.5 0h1.5m10.9 0h1.5m0.5 0h1.5m0.5 0h1.5m2.5 0h1.5m1.5 0h1.5m19.9 0h1.5m24.8 0h1.5m10 0h1.5m3.9 0h3m2.5 0h1.5m7 0h1.5m2.4 0h1.5M87.5 173.34h1.5m1 0h1.5m14.9 0h1.5m9.9 0h2m4 0h1.5m6.4 0h1.5m9 0h1.5m15.4 0h2m1 0h1.5m20.4 0h1.5m2 0h1.5m2.4 0h1.5m1.5 0h1.5m20.4 0h1.5m4 0h1.5m37.8 0h1.5m1.5 0h1.5m3 0h1.5m5.9 0h2.5m8 0h2.5m10.4 0h1.5m4 0h1.5m4 0h1.5m4.9 0h2.5m5 0h4m1.5 0h4m1.4 0h1.5m1 0h1.5m1.5 0h1.5m1 0h1.5m0.5 0h2m0.5 0h1.5m0.5 0h1.5m1.4 0h1.5m20.9 0h3m13.9 0h1.5m5 0h1.5m2 0h1.5m7.9 0h3m20.9 0h1.5m1 0h1.5m4.5 0h1.5m0.5 0h1.5m3.9 0h1.5m3 0h1.5m1.5 0h1.5m2 0h1.5m17.9 0h1.5m5 0h1.5m11.9 0h1.5m4.5 0h1.5m6.9 0h3m13.4 0h1.5m11.5 0h1.5m22.4 0h2.0M78.5 170.55h1.5m5 0h1.5m8.9 0h2m1 0h1.5m3.5 0h1.5m8.4 0h3m5 0h1.5m4 0h2m2.5 0h2m5.9 0h3m1 0h1.5m0.5 0h1.5m15.4 0h3m1.5 0h1.5m0.5 0h2m1.4 0h3.5m15.9 0h1.5m3.5 0h1.5m11.5 0h1.5m0.9 0h2m4.5 0h1.5m0.5 0h2.5m9.4 0h1.5m3.5 0h2m0.5 0h3m5 0h1.5m0.5 0h1.5m5.4 0h3m2 0h1.5m2.5 0h1.5m4.9 0h5m2.5 0h1.5m2.5 0h1.5m1.5 0h1.5m6.4 0h3m1.5 0h2m1 0h1.5m1.5 0h1.5m2 0h3m1.9 0h3m1.5 0h3.5m2 0h1.5m2 0h1.5m2.5 0h1.5m3.4 0h1.5m2.5 0h1.5m0.5 0h2m0.5 0h3.5m1.5 0h1.5m9.9 0h1.5m1.5 0h10.5m1.4 0h1.5m4 0h1.5m1 0h3.5m2.5 0h1.5m1.4 0h3m0.5 0h1.5m0.5 0h2m1.5 0h2.5m4.5 0h3m4.4 0h1.5m11.5 0h1.5m7.9 0h1.5m9.5 0h1.5m2.9 0h1.5m4 0h2.5m11.4 0h1.5m5.5 0h1.5m8 0h3.5m0.4 0h1.5m15.4 0h3m3 0h1.5m2 0h2.5m7.9 0h2m6.5 0h1.5m1.5 0h2.5m2 0h4.5M81 167.76h1.5m16.4 0h1.5m0.5 0h1.5m17.4 0h1.5m6 0h1.5m2.9 0h1.5m6 0h2m12.9 0h1.5m9 0h1.5m7.9 0h1.5m8.5 0h1.5m7.4 0h1.5m3 0h1.5m2.5 0h1.5m3.5 0h1.5m3 0h1.5m4.4 0h1.5m2.5 0h1.5m23.4 0h1.5m2 0h2.5m24.8 0h1.5m6 0h1.5m1.5 0h1.5m3.9 0h1.5m1 0h3m4.5 0h1.5m2.5 0h1.5m6.4 0h2.5m11.5 0h1.5m1 0h2.5m5.4 0h1.5m0.5 0h1.5m1 0h6.5m5.4 0h5.5m3 0h1.5m2.5 0h1.5m3.4 0h1.5m2.5 0h1.5m4 0h1.5m3 0h1.5m10.9 0h1.5m11.4 0h1.5m5 0h1.5m1.5 0h1.5m13.9 0h1.5m22.9 0h1.5m8.4 0h1.5m7.5 0h1.5m8.9 0h1.5m14.5 0h2.5m3.4 0h2m16.4 0h1.5m10 0h1.5m4 0h4.5m14.9 0h1.5M125.3 164.98h1.5m31.8 0h1.5m38.3 0h1.5m0.5 0h1.5m1 0h1.5m30.8 0h1.5m10.5 0h2.5m10.9 0h1.5m4.5 0h1.5m1 0h1.5m10.9 0h1.5m2.5 0h1.5m3 0h1.5m8.9 0h1.5m5.5 0h2m9.4 0h1.5m25.4 0h1.5m1 0h1.5m1.4 0h2m4 0h2m6.5 0h3m0.5 0h1.5m0.4 0h1.5m9.5 0h1.5m21.9 0h1.5m0.5 0h3m3.9 0h1.5m9 0h1.5m2.5 0h1.5m9.4 0h1.5m12.4 0h3m1.5 0h1.5m0.5 0h1.5m20.9 0h1.5m10.4 0h1.5m17.4 0h1.5m5 0h1.5m1.5 0h1.5m3.5 0h1.5m2.4 0h1.5m8 0h1.5m15.9 0h1.5m0.5 0h1.5m5.5 0h1.5M81.5 162.19h1.5m4.5 0h1.5m7.9 0h1.5m16.4 0h1.5m26.9 0h2m2 0h1.5m17.4 0h1.5m4.9 0h1.5m33.4 0h1.5m36.3 0h1.5m13.9 0h2.5m0.5 0h1.5m11.4 0h2.5m4 0h1.5m4 0h1.5m6.4 0h1.5m1.5 0h1.5m8.5 0h1.5m4.9 0h3m7.5 0h1.5m3.4 0h1.5m10 0h1.5m1 0h2.5m10.4 0h1.5m2 0h1.5m4 0h1.5m1.5 0h1.5m5.9 0h1.5m20.4 0h4.5m0.5 0h1.5m4.5 0h1.5m11.4 0h1.5m1.5 0h1.5m2 0h1.5m17.4 0h1.5m3.4 0h1.5m1 0h1.5m5.5 0h1.5m2 0h1.5m3.9 0h1.5m23.9 0h1.5m6 0h1.5m15.9 0h1.5m36.3 0h2.5m3 0h3.0M98.4 159.40h1.5m54.7 0h1.5m10.5 0h1.5m7.9 0h1.5m3.5 0h1.5m9.4 0h2m8.5 0h2.5m4 0h1.5m1.9 0h1.5m0.5 0h1.5m20.9 0h1.5m2 0h1.5m0.5 0h1.5m8.4 0h1.5m2.5 0h1.5m1 0h1.5m26.4 0h1.5m3.4 0h1.5m13 0h1.5m2.5 0h3m5.9 0h1.5m2 0h1.5m5.5 0h2m12.4 0h1.5m2.5 0h1.5m19.9 0h1.5m6.9 0h1.5m3.5 0h1.5m1 0h1.5m4.9 0h1.5m1 0h1.5m1 0h1.5m8 0h1.5m2 0h1.5m1.9 0h1.5m2 0h1.5m6 0h1.5m6.9 0h1.5m1 0h1.5m2.5 0h1.5m3 0h1.5m2 0h1.5m3.9 0h1.5m5 0h1.5m0.5 0h1.5m4 0h1.5m13.9 0h1.5m5.5 0h3m0.4 0h1.5m62.7 0h1.5M175 156.61h1.5m9 0h1.5m1.5 0h1.5m1.4 0h1.5m41.8 0h2.5m2.5 0h1.5m4 0h2.5m5.9 0h1.5m8.5 0h1.5m3 0h2.5m1.9 0h1.5m12 0h4m5.9 0h1.5m8 0h1.5m19.9 0h2m1.5 0h1.5m1.4 0h1.5m6.5 0h1.5m4 0h1.5m2.4 0h1.5m20.9 0h3m2 0h1.5m0.5 0h2m7 0h1.5m6.4 0h1.5m4 0h2m16.9 0h1.5m1 0h1.5m1.5 0h1.5m3.9 0h1.5m8.5 0h1.5m15.9 0h1.5m17.4 0h1.5m2 0h1.5m12.4 0h1.5m62.7 0h1.5m2 0h1.5M83.5 153.83h1.5m2.5 0h1.5m37.3 0h1.5m15.9 0h1.5m18.9 0h1.5m7.4 0h2.5m41.3 0h1.5m29.9 0h1.5m9.9 0h1.5m1 0h1.5m18.9 0h2.5m10.4 0h1.5m9 0h1.5m2 0h1.5m2.4 0h1.5m12 0h1.5m17.4 0h1.5m11.9 0h1.5m1.5 0h3.5m11.4 0h1.5m2.5 0h1.5m7 0h1.5m4.9 0h1.5m0.5 0h1.5m0.5 0h1.5m0.5 0h1.5m25.9 0h1.5m0.9 0h1.5m3.5 0h1.5m23.4 0h1.5m29.8 0h1.5m7 0h1.5m15.4 0h1.5m8 0h1.5m27.8 0h1.5m3.5 0h1.5M91.5 151.04h1.5m12.9 0h1.5m2 0h1.5m9.9 0h1.5m0.5 0h1.5m22.4 0h1.5m37.8 0h3m27.3 0h1.5m1 0h3m7.5 0h2.5m3.4 0h1.5m6.5 0h1.5m11.4 0h2m6 0h1.5m21.9 0h3m0.5 0h1.5m4.9 0h3m2 0h1.5m9.4 0h2.5m0.5 0h1.5m3.5 0h1.5m6.5 0h1.5m7.9 0h2m4 0h1.5m7.9 0h3m2 0h1.5m2 0h1.5m7.9 0h1.5m4.5 0h1.5m4 0h1.5m7.4 0h1.5m1 0h1.5m9 0h1.5m2.5 0h1.5m1.9 0h1.5m4 0h1.5m2 0h2.5m38.3 0h1.5m3 0h1.5m23.3 0h1.5m0.5 0h1.5m1.5 0h1.5m8 0h1.5m1.9 0h1.5m1 0h1.5m11 0h1.5m2 0h1.5m0.4 0h1.5m20.9 0h1.5m2.5 0h1.5M83.5 148.25h1.5m6.5 0h1.5m0.4 0h1.5m4 0h1.5m1 0h2.5m23.4 0h2.5m11.9 0h1.5m18.4 0h1.5m8.9 0h1.5m8.5 0h1.5m23.9 0h2.5m26.3 0h1.5m5.5 0h1.5m6.9 0h1.5m4 0h1.5m4.5 0h1.5m2 0h1.5m0.5 0h1.5m2.9 0h4.5m14.4 0h1.5m3.5 0h1.5m3 0h3m10.4 0h1.5m1 0h1.5m1.5 0h1.5m10.4 0h1.5m0.5 0h4m0.5 0h1.5m0.5 0h1.5m0.5 0h1.5m1.5 0h1.5m0.5 0h1.5m6.4 0h1.5m1.5 0h2m1 0h1.5m3.5 0h1.5m1 0h3m0.4 0h1.5m4.5 0h2.5m3 0h2m6.9 0h1.5m6.5 0h1.5m2 0h1.5m3 0h1.5m16.4 0h2.5m3.4 0h1.5m8 0h1.5m3 0h1.5m0.5 0h1.5m2.4 0h1.5m11.5 0h1.5m1.5 0h1.5m14.4 0h1.5m6.4 0h1.5m11.5 0h1.5m2.5 0h1.5m21.8 0h1.5m15.9 0h1.5m5 0h2.5m6.5 0h1.5m0.5 0h1.5M82.5 145.47h1.5m8.4 0h1.5m3.5 0h1.5m2.5 0h1.5m5 0h1.5m1.5 0h1.5m6.4 0h1.5m1 0h1.5m12.4 0h1.5m6.5 0h1.5m10.9 0h1.5m19.9 0h1.5m24.9 0h1.5m0.5 0h1.5m20.9 0h1.5m24.8 0h1.5m0.5 0h1.5m16.9 0h1.5m0.5 0h1.5m1 0h4m4.5 0h1.5m2.4 0h2m1.5 0h2.5m2 0h1.5m6 0h1.5m1 0h1.5m9.4 0h1.5m1 0h1.5m0.5 0h3m2.5 0h1.5m7.9 0h1.5m1.5 0h1.5m2.5 0h1.5m0.5 0h5m12.9 0h1.5m8.4 0h1.5m0.5 0h3m0.5 0h2m19.4 0h1.5m12.9 0h1.5m17.4 0h1.5m4 0h1.5m5.5 0h1.5m12.4 0h1.5m0.5 0h1.5m2.5 0h1.5m17.4 0h2.5m11.9 0h1.5m1 0h1.5m1 0h1.5m39.8 0h1.5m10.4 0h1.5M92.9 142.68h1.5m37.8 0h1.5m75.7 0h3m2.4 0h1.5m9.5 0h1.5m30.8 0h1.5m20.4 0h1.5m2.5 0h1.5m8.9 0h1.5m8.5 0h1.5m11.4 0h1.5m1.5 0h1.5m11.9 0h1.5m0.5 0h1.5m2.5 0h3m5.5 0h1.5m0.5 0h1.5m40.2 0h1.5m3.5 0h1.5m4 0h1.5m41.8 0h1.5m15.9 0h1.5m66.6 0h1.5m1.5 0h1.5m9 0h1.5M141.2 139.89h2m15.9 0h1.5m4.5 0h1.5m1.5 0h1.5m28.8 0h1.5m34.8 0h1.5m9 0h1.5m17.4 0h1.5m9.9 0h1.5m9.5 0h3m4.9 0h1.5m7 0h1.5m11.4 0h1.5m10.5 0h3m5.9 0h1.5m1 0h2m2 0h2.5m10.9 0h1.5m2 0h1.5m6.5 0h1.5m2.9 0h1.5m2.5 0h1.5m1.5 0h1.5m3.5 0h2m12.9 0h1.5m48.8 0h1.5m1.4 0h1.5m3 0h1.5m9.5 0h1.5m6.9 0h1.5m0.5 0h1.5m18.4 0h1.5m6.5 0h1.5m8.9 0h1.5m0.5 0h1.5m13.4 0h1.5m21.9 0h1.5m8 0h1.5M93.9 137.11h1.5m81.6 0h1.5m42.8 0h1.5m15.9 0h1.5m34.3 0h1.5m13.5 0h2m1.9 0h1.5m28.4 0h1.5m30.8 0h1.5m14.4 0h1.5m113 0h1.5m50.2 0h1.5m21.4 0h1.5M84 134.32h1.5m9.4 0h1.5m29.9 0h1.5m24.3 0h1.5m12.5 0h1.5m9.9 0h1.5m1 0h1.5m21.4 0h1.5m5 0h1.5m22.8 0h1.5m2 0h2.5m13.4 0h1.5m11 0h1.5m8.4 0h1.5m5.5 0h1.5m3.5 0h1.5m8.4 0h2m0.5 0h1.5m3 0h1.5m1.5 0h3m3.4 0h1.5m7.5 0h1.5m6.9 0h1.5m2 0h1.5m10.5 0h1.5m1.5 0h2m12.4 0h2m0.5 0h1.5m5.4 0h2m2.5 0h1.5m6 0h1.5m20.9 0h1.5m17.9 0h1.5m1 0h1.5m14.4 0h1.5m19.4 0h1.5m18.9 0h1.5m18.4 0h1.5m7.4 0h1.5m12.5 0h1.5m4.9 0h1.5m6.5 0h1.5m17.9 0h1.5m4.5 0h1.5M140.7 131.53h1.5m106.5 0h1.5m23.8 0h1.5m47.3 0h1.5m113.4 0h1.5m62.2 0h1.5M94.9 128.74h1.5m6.5 0h1.5m51.2 0h1.5m3.5 0h1.5m21.9 0h1.5m10.9 0h1.5m5 0h1.5m37.8 0h1.5m37.3 0h1.5m4.5 0h3m7.9 0h1.5m18.9 0h1.5m1.5 0h1.5m5.5 0h1.5m32.3 0h1.5m35.8 0h1.5m3 0h1.5m10.9 0h1.5m37.3 0h1.5m8 0h1.5m13.9 0h1.5m16.4 0h1.5m35.3 0h1.5M202.9 125.96h1.5m44.3 0h1.5m48.7 0h1.5m30.4 0h1.5m7.4 0h3m27.8 0h1.5m4 0h1.5m3 0h1.5m68.2 0h1.5m31.3 0h1.5m57.7 0h1.5M109.4 123.17h1.5m21.3 0h1.5m9 0h1.5m49.7 0h1.5m6.5 0h3m10.4 0h1.5m7.5 0h1.5m9.4 0h1.5m4.5 0h1.5m1.5 0h1.5m11.4 0h1.5m2.5 0h1.5m12.9 0h1.5m26.4 0h3m2.5 0h1.5m15.9 0h1.5m3.4 0h1.5m17 0h1.5m27.8 0h1.5m27.4 0h1.5m6.4 0h1.5m12 0h1.5m22.3 0h1.5m11 0h1.5m8.9 0h1.5m39.3 0h1.5M124.8 120.38h1.5m39.8 0h1.5m59.2 0h2m50.7 0h1.5m47.8 0h1.5m14.4 0h1.5m6.9 0h2.5m50.3 0h1.5m38.8 0h1.5m83.5 0h1.5m12 0h1.5m17.4 0h1.5M146.2 114.81h1.5m4.9 0h1.5m68.7 0h3m35.8 0h1.5m56.7 0h1.5m6.5 0h1.5m3.9 0h1.5m16.9 0h1.5m7.5 0h1.5m4.5 0h1.5m12.9 0h1.5m21.9 0h1.5m1.5 0h1.5m7.9 0h1.5m126.9 0h1.5M127.3 112.02h1.5m39.3 0h1.5m35.8 0h1.5m4.9 0h1.5m17 0h1.5m10.4 0h1.5m5 0h1.5m5.9 0h1.5m8 0h2.5m14.9 0h1.5m2 0h1.5m26.8 0h1.5m29.4 0h1.5m13.9 0h1.5m9.9 0h1.5m7.5 0h1.5m9.9 0h1.5m9 0h1.5m0.5 0h1.5m0.5 0h3m2.4 0h1.5m13 0h1.5m16.4 0h1.5m81.6 0h1.5M81 103.66h1.5m69.6 0h1.5m29.9 0h1.5m52.7 0h2.5m2.5 0h1.5m1.5 0h1.5m16.4 0h1.5m11.9 0h1.5m34.8 0h1.5m5 0h1.5m0.5 0h1.5m2.5 0h1.5m1.5 0h1.5m35.8 0h1.5m12.9 0h2m9.9 0h1.5m8.5 0h2.5m3.5 0h1.5m5.4 0h1.5m1 0h1.5m93.5 0h1.5m43.8 0h1.5M97.4 100.87h1.5m68.7 0h1.5m29.3 0h1.5m2.5 0h1.5m15.9 0h4.5m3 0h3m0.5 0h1.5m2.9 0h1.5m1.5 0h1.5m2 0h1.5m2.5 0h1.5m3 0h1.5m1.4 0h1.5m2 0h1.5m1.5 0h1.5m1 0h1.5m6 0h1.5m14.9 0h3m1.5 0h1.5m2.4 0h2m8 0h1.5m0.5 0h1.5m8.9 0h1.5m5.5 0h1.5m2 0h3m2.9 0h1.5m3 0h3m0.5 0h1.5m5 0h1.5m1.4 0h1.5m0.5 0h1.5m2 0h2m2.5 0h1.5m0.5 0h1.5m1 0h1.5m0.5 0h1.5m1.5 0h3.5m3.9 0h1.5m12.4 0h4.5m5 0h1.5m2 0h2m6.4 0h2m1.5 0h1.5m32.8 0h1.5m41.3 0h1.5m4 0h1.5m1 0h1.5m8.9 0h1.5m22.9 0h1.5m2.5 0h1.5m19.9 0h1.5M143.7 95.30h1.5m13.4 0h1.5m15.4 0h1.5m25.9 0h1.5m22.4 0h1.5m3.4 0h1.5m1.5 0h1.5m5.5 0h1.5m8 0h1.5m3.9 0h1.5m18.4 0h1.5m31.4 0h1.5m0.4 0h1.5m18 0h1.5m3.4 0h1.5m11.5 0h2.5m0.4 0h1.5m15.5 0h1.5m2.4 0h1.5m18.4 0h1.5m22.4 0h1.5m44.3 0h1.5m66.6 0h1.5m28.9 0h1.5M97.9 92.51h1.5m70.7 0h1.5m37.8 0h1.5m9.4 0h1.5m5 0h3m0.5 0h3m1.4 0h1.5m1.5 0h2.5m2 0h1.5m0.5 0h1.5m4.5 0h1.5m0.9 0h1.5m8.5 0h2m3 0h1.5m7.4 0h1.5m3 0h1.5m0.5 0h1.5m2 0h1.5m3 0h3m3.9 0h1.5m3 0h3.5m11.4 0h2m1.5 0h3.5m2 0h1.5m1 0h1.5m4.4 0h1.5m1.5 0h3m3 0h2m0.5 0h3m1 0h1.5m0.4 0h1.5m4.5 0h6m3 0h1.5m0.5 0h1.5m3.9 0h1.5m13.5 0h1.5m0.9 0h1.5m2.5 0h1.5m3 0h1.5m0.5 0h1.5m0.5 0h2m2.5 0h1.5m1.9 0h3m1.5 0h1.5m3.5 0h1.5m27.3 0h1.5m25.4 0h1.5m0.5 0h1.5m6 0h1.5m14.4 0h1.5m10.9 0h1.5m32.4 0h1.5m7.9 0h3m3.5 0h1.5M101.9 86.94h1.5m7 0h1.5m41.2 0h1.5m58.2 0h1.5m1 0h1.5m9.5 0h1.5m17.9 0h1.5m17.9 0h2.5m3.4 0h1.5m7.5 0h2m8 0h1.5m0.9 0h1.5m8 0h1.5m5.5 0h3m0.9 0h3m13.5 0h2m0.9 0h1.5m3.5 0h3m8.5 0h1.5m4.4 0h1.5m10.5 0h1.5m2.4 0h1.5m1 0h1.5m4.5 0h1.5m11.9 0h1.5m8.5 0h2.5m2.5 0h1.5m29.8 0h1.5m18.4 0h1.5m96 0h1.5m1.5 0h1.5M84.5 84.15h2m8.4 0h1.5m3.5 0h1.5m44.8 0h1.5m1 0h1.5m7.9 0h1.5m15.9 0h3m5 0h1.5m14.4 0h1.5m3.5 0h1.5m2.5 0h1.5m1.4 0h4.5m2 0h3m2.5 0h4m0.5 0h4.5m5.4 0h2m1.5 0h1.5m0.5 0h2.5m1 0h5m0.9 0h1.5m0.5 0h2m1.5 0h1.5m0.5 0h3m0.5 0h5.5m1.9 0h3m1 0h5.5m1 0h1.5m3 0h4.5m0.5 0h3.5m1.9 0h1.5m4 0h1.5m1 0h4m1 0h1.5m2.4 0h1.5m1 0h1.5m1 0h2.5m5 0h4m2.9 0h1.5m1.5 0h2m1 0h1.5m1 0h1.5m1 0h1.5m2.5 0h3m14.4 0h4.5m1.9 0h6m2.5 0h2.5m2 0h20.9m0.5 0h1.5m6.4 0h6m25.4 0h1.5m7.4 0h1.5m9.5 0h1.5m12.4 0h1.5m15.4 0h3.5m7.5 0h3m12.4 0h1.5m5 0h1.5m8.4 0h1.5m3.5 0h1.5m5.9 0h1.5m10.5 0h2.5m4.4 0h1.5M118.3 75.79h1.5m12.9 0h1.5m2 0h1.5m6 0h3m6.4 0h1.5m30.4 0h1.5m22.4 0h1.5m1.4 0h1.5m16.5 0h1.5m1.9 0h1.5m24.4 0h1.5m4.5 0h1.5m4 0h1.5m0.4 0h3m2 0h1.5m6 0h3m4.9 0h1.5m11 0h1.5m28.8 0h1.5m8.5 0h1.5m16.9 0h1.5m11.4 0h1.5m3 0h1.5m6 0h1.5m1.4 0h3m1 0h1.5m29.9 0h1.5m1 0h1.5m2.4 0h1.5m11.5 0h1.5m4.9 0h1.5m8 0h1.5m13.4 0h1.5m5.5 0h1.5m27.3 0h1.5m14.5 0h1.5m10.4 0h1.5M81.5 67.43h1.5m19.4 0h1.5m4 0h1.5m55.7 0h1.5m10.9 0h1.5m30.9 0h1.5m10.9 0h1.5m65.2 0h2m2.4 0h1.5m13.5 0h1.5m5.4 0h1.5m31.9 0h2.5m34.3 0h1.5m14.9 0h1.5m25.4 0h1.5m27.3 0h1.5m60.2 0h1.5m3.5 0h1.5" stroke="#000" stroke-width="1.5" fill="none"/>
<path d="M59.76 396.3H592.2" stroke="#C81414" stroke-width="2.25" stroke-dasharray="9 9" stroke-linecap="round"/>
<path d="M313.34 580.24V47.8" stroke="#006400" stroke-width="2.25" stroke-dasharray="9 9" stroke-linecap="round"/>
<path d="M337.72 580.24V47.8" stroke="#006400" stroke-width="2.25" stroke-dasharray="9 9" stroke-linecap="round"/>
<path d="M952.34 580.24V47.8" stroke="#006400" stroke-width="1.5" stroke-dasharray="6 6" stroke-linecap="round"/>
<path d="M978.67 580.24V47.8" stroke="#006400" stroke-width="1.5" stroke-dasharray="6 6" stroke-linecap="round"/>
<path d="M699.76 402.58H1232.2" stroke="#D42020" stroke-width="1.5" stroke-dasharray="6 6" stroke-linecap="round"/>
<rect x="59.76" y="47.8" width="532.44" height="532.44" fill="none" stroke="#000" stroke-width="0.75"/>
<path d="M126.53 580.24H524.53M126.53 580.24v6M226.03 580.24v6M325.53 580.24v6M425.03 580.24v6M524.53 580.24v6M59.76 485.48V67.43M59.76 485.48h-6M59.76 346.13h-6M59.76 206.78h-6M59.76 67.43h-6" stroke="#000" stroke-width="0.75" fill="none"/>
<text x="126.53" y="601.64" class="tk" text-anchor="middle">-400</text>
<text x="226.03" y="601.64" class="tk" text-anchor="middle">-200</text>
<text x="325.53" y="601.64" class="tk" text-anchor="middle">0</text>
<text x="425.03" y="601.64" class="tk" text-anchor="middle">200</text>
<text x="524.53" y="601.64" class="tk" text-anchor="middle">400</text>
<text transform="translate(45 485.48) rotate(-90)" class="tk" text-anchor="middle">85</text>
<text transform="translate(45 346.13) rotate(-90)" class="tk" text-anchor="middle">90</text>
<text transform="translate(45 206.78) rotate(-90)" class="tk" text-anchor="middle">95</text>
<text transform="translate(45 67.43) rotate(-90)" class="tk" text-anchor="middle">100</text>
<text x="325.98" y="625.8" class="lb" text-anchor="middle">Distance to peak summit</text>
<text transform="translate(22.2 314.02) rotate(-90)" class="lb" text-anchor="middle">Motif score</text>
<text transform="translate(322.68 31.9) scale(1 1.055)" class="tt" text-anchor="middle">Top hit for each peak</text>
<rect x="699.76" y="47.8" width="532.44" height="532.44" fill="none" stroke="#000" stroke-width="0.75"/>
<path d="M750.59 580.24H1180.43M750.59 580.24v6M858.05 580.24v6M965.51 580.24v6M1072.97 580.24v6M1180.43 580.24v6M699.76 499.3V47.8M699.76 499.3h-6M699.76 348.8h-6M699.76 198.3h-6M699.76 47.8h-6" stroke="#000" stroke-width="0.75" fill="none"/>
<text x="750.59" y="601.64" class="tk" text-anchor="middle">-400</text>
<text x="858.05" y="601.64" class="tk" text-anchor="middle">-200</text>
<text x="965.51" y="601.64" class="tk" text-anchor="middle">0</text>
<text x="1072.97" y="601.64" class="tk" text-anchor="middle">200</text>
<text x="1180.43" y="601.64" class="tk" text-anchor="middle">400</text>
<text transform="translate(685 499.3) rotate(-90)" class="tk" text-anchor="middle">85</text>
<text transform="translate(685 348.8) rotate(-90)" class="tk" text-anchor="middle">90</text>
<text transform="translate(685 198.3) rotate(-90)" class="tk" text-anchor="middle">95</text>
<text transform="translate(685 47.8) rotate(-90)" class="tk" text-anchor="middle">100</text>
<text x="965.98" y="625.8" class="lb" text-anchor="middle">Distance to peak summit</text>
<text transform="translate(662.2 314.02) rotate(-90)" class="lb" text-anchor="middle">Motif score</text>
<text transform="translate(966.38 31.9) scale(1 1.055)" class="tt" text-anchor="middle">Density heat map for the top hits</text>
<rect x="59.76" y="687.8" width="532.44" height="532.44" fill="none" stroke="#000" stroke-width="0.75"/>
<path d="M171.6 1220.24H547.8M171.6 1220.24v6M297 1220.24v6M422.4 1220.24v6M547.8 1220.24v6M59.76 1200.52V713.02M59.76 1200.52h-6M59.76 1038.02h-6M59.76 875.52h-6M59.76 713.02h-6" stroke="#000" stroke-width="0.75" fill="none"/>
<text x="171.6" y="1241.64" class="tk" text-anchor="middle">85</text>
<text x="297" y="1241.64" class="tk" text-anchor="middle">90</text>
<text x="422.4" y="1241.64" class="tk" text-anchor="middle">95</text>
<text x="547.8" y="1241.64" class="tk" text-anchor="middle">100</text>
<text transform="translate(45 1200.52) rotate(-90)" class="tk" text-anchor="middle">0.00</text>
<text transform="translate(45 1038.02) rotate(-90)" class="tk" text-anchor="middle">0.05</text>
<text transform="translate(45 875.52) rotate(-90)" class="tk" text-anchor="middle">0.10</text>
<text transform="translate(45 713.02) rotate(-90)" class="tk" text-anchor="middle">0.15</text>
<text x="325.98" y="1265.8" class="lb" text-anchor="middle">Motif score</text>
<text transform="translate(22.2 954.02) rotate(-90)" class="lb" text-anchor="middle">Density</text>
<text transform="translate(325.98 671.9) scale(1 1.055)" class="tt" text-anchor="middle">Motif score threshold: 88.200</text>
<rect x="699.76" y="687.8" width="532.44" height="532.44" fill="none" stroke="#000" stroke-width="0.75"/>
<path d="M715.5 1220.24H1215.5M715.5 1220.24v6M798.83 1220.24v6M882.17 1220.24v6M965.5 1220.24v6M1048.83 1220.24v6M1132.17 1220.24v6M1215.5 1220.24v6M699.76 1200.3V743.75M699.76 1200.3h-6M699.76 1048.12h-6M699.76 895.93h-6M699.76 743.75h-6" stroke="#000" stroke-width="0.75" fill="none"/>
<text x="715.5" y="1241.64" class="tk" text-anchor="middle">-600</text>
<text x="798.83" y="1241.64" class="tk" text-anchor="middle">-400</text>
<text x="882.17" y="1241.64" class="tk" text-anchor="middle">-200</text>
<text x="965.5" y="1241.64" class="tk" text-anchor="middle">0</text>
<text x="1048.83" y="1241.64" class="tk" text-anchor="middle">200</text>
<text x="1132.17" y="1241.64" class="tk" text-anchor="middle">400</text>
<text x="1215.5" y="1241.64" class="tk" text-anchor="middle">600</text>
<text transform="translate(685 1200.3) rotate(-90)" class="tk" text-anchor="middle">0.0000</text>
<text transform="translate(685 1048.12) rotate(-90)" class="tk" text-anchor="middle">0.0005</text>
<text transform="translate(685 895.93) rotate(-90)" class="tk" text-anchor="middle">0.0010</text>
<text transform="translate(685 743.75) rotate(-90)" class="tk" text-anchor="middle">0.0015</text>
<text x="965.98" y="1265.8" class="lb" text-anchor="middle">Distance to peak summit</text>
<text transform="translate(662.2 954.02) rotate(-90)" class="lb" text-anchor="middle">Density</text>
<text transform="translate(965.98 671.9) scale(1 1.055)" class="tt" text-anchor="middle">Enrichment zone: 24.50</text>
<path d="M79.1 1200.5C79.43 1200.47 80.43 1200.38 81.1 1200.33C81.77 1200.28 82.43 1200.24 83.1 1200.21C83.77 1200.17 84.43 1200.14 85.1 1200.11C85.77 1200.08 86.43 1200.06 87.1 1200.04C87.77 1200.02 88.43 1200 89.1 1199.98C89.77 1199.97 90.43 1199.96 91.1 1199.95C91.77 1199.94 92.43 1199.93 93.1 1199.93C93.77 1199.93 94.43 1199.92 95.1 1199.92C95.77 1199.92 96.43 1199.93 97.1 1199.93C97.77 1199.94 98.43 1199.94 99.1 1199.95C99.77 1199.96 100.43 1199.97 101.1 1199.98C101.77 1199.99 102.43 1200 103.1 1200.01C103.77 1200.02 104.43 1200.03 105.1 1200.05C105.77 1200.06 106.43 1200.07 107.1 1200.09C107.77 1200.1 108.43 1200.12 109.1 1200.13C109.77 1200.14 110.43 1200.16 111.1 1200.17C111.77 1200.18 112.43 1200.2 113.1 1200.21C113.77 1200.22 114.43 1200.23 115.1 1200.24C115.77 1200.25 116.43 1200.26 117.1 1200.27C117.77 1200.28 118.43 1200.28 119.1 1200.29C119.77 1200.29 120.43 1200.3 121.1 1200.3C121.77 1200.3 122.43 1200.3 123.1 1200.29C123.77 1200.29 124.43 1200.28 125.1 1200.28C125.77 1200.27 126.43 1200.26 127.1 1200.24C127.77 1200.23 128.43 1200.21 129.1 1200.19C129.77 1200.17 130.43 1200.15 131.1 1200.12C131.77 1200.09 132.43 1200.06 133.1 1200.02C133.77 1199.99 134.43 1199.95 135.1 1199.91C135.77 1199.86 136.43 1199.82 137.1 1199.76C137.77 1199.71 138.43 1199.66 139.1 1199.59C139.77 1199.53 140.43 1199.47 141.1 1199.4C141.77 1199.32 142.43 1199.25 143.1 1199.16C143.77 1199.08 144.43 1198.99 145.1 1198.9C145.77 1198.81 146.43 1198.71 147.1 1198.6C147.77 1198.5 148.43 1198.39 149.1 1198.27C149.77 1198.15 150.43 1198.02 151.1 1197.89C151.77 1197.76 152.43 1197.62 153.1 1197.48C153.77 1197.33 154.43 1197.18 155.1 1197.02C155.77 1196.86 156.43 1196.69 157.1 1196.52C157.77 1196.34 158.43 1196.16 159.1 1195.97C159.77 1195.78 160.43 1195.58 161.1 1195.37C161.77 1195.17 162.43 1194.95 163.1 1194.73C163.77 1194.5 164.43 1194.27 165.1 1194.03C165.77 1193.79 166.43 1193.54 167.1 1193.27C167.77 1193.01 168.43 1192.75 169.1 1192.47C169.77 1192.19 170.43 1191.9 171.1 1191.6C171.77 1191.3 172.43 1190.99 173.1 1190.67C173.77 1190.35 174.43 1190.03 175.1 1189.69C175.77 1189.35 176.43 1189 177.1 1188.63C177.77 1188.27 178.43 1187.9 179.1 1187.52C179.77 1187.14 180.43 1186.74 181.1 1186.33C181.77 1185.93 182.43 1185.51 183.1 1185.08C183.77 1184.65 184.43 1184.21 185.1 1183.76C185.77 1183.3 186.43 1182.84 187.1 1182.36C187.77 1181.88 188.43 1181.39 189.1 1180.89C189.77 1180.39 190.43 1179.87 191.1 1179.34C191.77 1178.81 192.43 1178.27 193.1 1177.71C193.77 1177.16 194.43 1176.59 195.1 1176.01C195.77 1175.42 196.43 1174.83 197.1 1174.22C197.77 1173.61 198.43 1172.98 199.1 1172.34C199.77 1171.7 200.43 1171.05 201.1 1170.38C201.77 1169.71 202.43 1169.02 203.1 1168.32C203.77 1167.62 204.43 1166.9 205.1 1166.16C205.77 1165.42 206.43 1164.66 207.1 1163.89C207.77 1163.11 208.43 1162.32 209.1 1161.51C209.77 1160.69 210.43 1159.86 211.1 1159C211.77 1158.15 212.43 1157.27 213.1 1156.38C213.77 1155.48 214.43 1154.56 215.1 1153.62C215.77 1152.67 216.43 1151.71 217.1 1150.72C217.77 1149.73 218.43 1148.72 219.1 1147.68C219.77 1146.64 220.43 1145.58 221.1 1144.49C221.77 1143.4 222.43 1142.29 223.1 1141.14C223.77 1140 224.43 1138.83 225.1 1137.62C225.77 1136.42 226.43 1135.19 227.1 1133.91C227.77 1132.63 228.43 1131.33 229.1 1129.97C229.77 1128.61 230.43 1127.22 231.1 1125.77C231.77 1124.33 232.43 1122.84 233.1 1121.29C233.77 1119.74 234.43 1118.15 235.1 1116.5C235.77 1114.84 236.43 1113.13 237.1 1111.36C237.77 1109.58 238.43 1107.75 239.1 1105.85C239.77 1103.94 240.43 1101.98 241.1 1099.94C241.77 1097.89 242.43 1095.79 243.1 1093.6C243.77 1091.41 244.43 1089.14 245.1 1086.8C245.77 1084.45 246.43 1082.02 247.1 1079.51C247.77 1077 248.43 1074.41 249.1 1071.74C249.77 1069.07 250.43 1066.31 251.1 1063.47C251.77 1060.63 252.43 1057.71 253.1 1054.7C253.77 1051.69 254.43 1048.6 255.1 1045.42C255.77 1042.25 256.43 1038.97 257.1 1035.64C257.77 1032.3 258.43 1028.87 259.1 1025.41C259.77 1021.95 260.43 1018.42 261.1 1014.87C261.77 1011.32 262.43 1007.73 263.1 1004.1C263.77 1000.46 264.43 996.79 265.1 993.08C265.77 989.36 266.43 985.6 267.1 981.8C267.77 978 268.43 974.16 269.1 970.27C269.77 966.39 270.43 962.46 271.1 958.48C271.77 954.5 272.43 950.48 273.1 946.41C273.77 942.35 274.43 938.23 275.1 934.07C275.77 929.92 276.43 925.69 277.1 921.48C277.77 917.28 278.43 913.03 279.1 908.83C279.77 904.64 280.43 900.44 281.1 896.33C281.77 892.22 282.43 888.14 283.1 884.19C283.77 880.24 284.43 876.34 285.1 872.61C285.77 868.89 286.43 865.26 287.1 861.82C287.77 858.38 288.43 855.13 289.1 851.96C289.77 848.8 290.43 845.82 291.1 842.83C291.77 839.83 292.43 836.96 293.1 834.01C293.77 831.06 294.43 828.17 295.1 825.13C295.77 822.09 296.43 819 297.1 815.79C297.77 812.58 298.43 809.25 299.1 805.88C299.77 802.52 300.43 799.05 301.1 795.6C301.77 792.15 302.43 788.63 303.1 785.17C303.77 781.7 304.43 778.22 305.1 774.81C305.77 771.4 306.43 768.02 307.1 764.72C307.77 761.42 308.43 758.17 309.1 755C309.77 751.84 310.43 748.73 311.1 745.72C311.77 742.71 312.43 739.77 313.1 736.96C313.77 734.15 314.43 731.41 315.1 728.87C315.77 726.33 316.43 723.91 317.1 721.74C317.77 719.58 318.43 717.57 319.1 715.87C319.77 714.18 320.43 712.72 321.1 711.57C321.77 710.43 322.43 709.62 323.1 709C323.77 708.39 324.43 708.08 325.1 707.89C325.77 707.7 326.43 707.76 327.1 707.87C327.77 707.98 328.43 708.27 329.1 708.55C329.77 708.84 330.43 709.24 331.1 709.58C331.77 709.92 332.43 710.28 333.1 710.58C333.77 710.88 334.43 711.15 335.1 711.38C335.77 711.6 336.43 711.79 337.1 711.93C337.77 712.07 338.43 712.17 339.1 712.22C339.77 712.27 340.43 712.27 341.1 712.22C341.77 712.16 342.43 712.06 343.1 711.9C343.77 711.74 344.43 711.5 345.1 711.25C345.77 711 346.43 710.59 347.1 710.39C347.77 710.19 348.43 709.93 349.1 710.02C349.77 710.1 350.43 710.35 351.1 710.9C351.77 711.44 352.43 712.25 353.1 713.3C353.77 714.35 354.43 715.65 355.1 717.19C355.77 718.74 356.43 720.55 357.1 722.56C357.77 724.57 358.43 726.87 359.1 729.25C359.77 731.63 360.43 734.23 361.1 736.84C361.77 739.45 362.43 742.21 363.1 744.9C363.77 747.59 364.43 750.36 365.1 752.99C365.77 755.62 366.43 758.24 367.1 760.67C367.77 763.1 368.43 765.39 369.1 767.56C369.77 769.72 370.43 771.73 371.1 773.68C371.77 775.63 372.43 777.46 373.1 779.26C373.77 781.07 374.43 782.81 375.1 784.5C375.77 786.2 376.43 787.86 377.1 789.43C377.77 791 378.43 792.51 379.1 793.9C379.77 795.3 380.43 796.58 381.1 797.8C381.77 799.01 382.43 800.1 383.1 801.19C383.77 802.28 384.43 803.29 385.1 804.35C385.77 805.41 386.43 806.43 387.1 807.55C387.77 808.67 388.43 809.8 389.1 811.07C389.77 812.34 390.43 813.7 391.1 815.16C391.77 816.63 392.43 818.23 393.1 819.86C393.77 821.5 394.43 823.23 395.1 824.97C395.77 826.72 396.43 828.53 397.1 830.32C397.77 832.1 398.43 833.9 399.1 835.7C399.77 837.5 400.43 839.28 401.1 841.12C401.77 842.95 402.43 844.78 403.1 846.69C403.77 848.59 404.43 850.52 405.1 852.54C405.77 854.57 406.43 856.64 407.1 858.83C407.77 861.01 408.43 863.29 409.1 865.65C409.77 868.01 410.43 870.47 411.1 872.99C411.77 875.51 412.43 878.12 413.1 880.77C413.77 883.42 414.43 886.15 415.1 888.91C415.77 891.67 416.43 894.49 417.1 897.33C417.77 900.17 418.43 903.06 419.1 905.96C419.77 908.85 420.43 911.77 421.1 914.71C421.77 917.65 422.43 920.59 423.1 923.59C423.77 926.59 424.43 929.62 425.1 932.71C425.77 935.8 426.43 938.92 427.1 942.13C427.77 945.34 428.43 948.61 429.1 951.96C429.77 955.32 430.43 958.76 431.1 962.29C431.77 965.81 432.43 969.45 433.1 973.1C433.77 976.76 434.43 980.5 435.1 984.21C435.77 987.92 436.43 991.68 437.1 995.38C437.77 999.08 438.43 1002.78 439.1 1006.39C439.77 1010 440.43 1013.55 441.1 1017.04C441.77 1020.53 442.43 1023.95 443.1 1027.33C443.77 1030.72 444.43 1034.05 445.1 1037.37C445.77 1040.68 446.43 1043.95 447.1 1047.23C447.77 1050.51 448.43 1053.76 449.1 1057.02C449.77 1060.28 450.43 1063.58 451.1 1066.78C451.77 1069.98 452.43 1073.19 453.1 1076.22C453.77 1079.25 454.43 1082.22 455.1 1084.95C455.77 1087.67 456.43 1090.26 457.1 1092.57C457.77 1094.88 458.43 1096.94 459.1 1098.8C459.77 1100.67 460.43 1102.28 461.1 1103.75C461.77 1105.21 462.43 1106.47 463.1 1107.61C463.77 1108.75 464.43 1109.71 465.1 1110.59C465.77 1111.48 466.43 1112.21 467.1 1112.92C467.77 1113.64 468.43 1114.24 469.1 1114.87C469.77 1115.5 470.43 1116.07 471.1 1116.71C471.77 1117.35 472.43 1117.98 473.1 1118.72C473.77 1119.46 474.43 1120.25 475.1 1121.17C475.77 1122.09 476.43 1123.12 477.1 1124.23C477.77 1125.33 478.43 1126.55 479.1 1127.8C479.77 1129.05 480.43 1130.39 481.1 1131.75C481.77 1133.12 482.43 1134.54 483.1 1135.97C483.77 1137.39 484.43 1138.86 485.1 1140.3C485.77 1141.75 486.43 1143.22 487.1 1144.64C487.77 1146.06 488.43 1147.49 489.1 1148.85C489.77 1150.21 490.43 1151.54 491.1 1152.8C491.77 1154.05 492.43 1155.26 493.1 1156.36C493.77 1157.46 494.43 1158.5 495.1 1159.41C495.77 1160.33 496.43 1161.16 497.1 1161.87C497.77 1162.59 498.43 1163.2 499.1 1163.71C499.77 1164.21 500.43 1164.61 501.1 1164.89C501.77 1165.18 502.43 1165.35 503.1 1165.41C503.77 1165.46 504.43 1165.4 505.1 1165.22C505.77 1165.04 506.43 1164.74 507.1 1164.31C507.77 1163.88 508.43 1163.33 509.1 1162.64C509.77 1161.96 510.43 1161.14 511.1 1160.2C511.77 1159.25 512.43 1158.16 513.1 1156.95C513.77 1155.73 514.43 1154.32 515.1 1152.89C515.77 1151.46 516.43 1149.86 517.1 1148.37C517.77 1146.88 518.43 1145.31 519.1 1143.94C519.77 1142.57 520.43 1141.25 521.1 1140.14C521.77 1139.03 522.43 1138.07 523.1 1137.27C523.77 1136.48 524.43 1135.84 525.1 1135.39C525.77 1134.93 526.43 1134.64 527.1 1134.53C527.77 1134.43 528.43 1134.5 529.1 1134.77C529.77 1135.03 530.43 1135.48 531.1 1136.13C531.77 1136.79 532.43 1137.63 533.1 1138.69C533.77 1139.75 534.43 1141 535.1 1142.48C535.77 1143.96 536.43 1145.66 537.1 1147.56C537.77 1149.46 538.43 1151.65 539.1 1153.88C539.77 1156.11 540.43 1158.57 541.1 1160.95C541.77 1163.34 542.43 1165.84 543.1 1168.16C543.77 1170.49 544.43 1172.81 545.1 1174.89C545.77 1176.97 546.43 1178.89 547.1 1180.65C547.77 1182.41 548.43 1183.99 549.1 1185.44C549.77 1186.89 550.43 1188.18 551.1 1189.35C551.77 1190.52 552.43 1191.54 553.1 1192.47C553.77 1193.39 554.43 1194.18 555.1 1194.89C555.77 1195.6 556.43 1196.19 557.1 1196.71C557.77 1197.23 558.43 1197.65 559.1 1198.02C559.77 1198.39 560.43 1198.67 561.1 1198.91C561.77 1199.15 562.43 1199.33 563.1 1199.47C563.77 1199.62 564.43 1199.72 565.1 1199.81C565.77 1199.89 566.43 1199.94 567.1 1200C567.77 1200.05 568.43 1200.08 569.1 1200.14C569.77 1200.19 570.55 1200.26 571.1 1200.32C571.65 1200.38 572.18 1200.47 572.4 1200.5Z" fill="#F5DEB3" stroke="#000" stroke-width="1.15" stroke-linejoin="round"/>
<path d="M719.2 1200.2C719.53 1200.14 720.53 1199.96 721.2 1199.82C721.87 1199.68 722.53 1199.53 723.2 1199.35C723.87 1199.16 724.53 1198.96 725.2 1198.7C725.87 1198.44 726.53 1198.16 727.2 1197.79C727.87 1197.42 728.53 1197 729.2 1196.49C729.87 1195.97 730.53 1195.39 731.2 1194.7C731.87 1194 732.53 1193.23 733.2 1192.31C733.87 1191.4 734.53 1190.39 735.2 1189.22C735.87 1188.06 736.53 1186.78 737.2 1185.32C737.87 1183.87 738.53 1182.28 739.2 1180.51C739.87 1178.73 740.53 1176.8 741.2 1174.66C741.87 1172.53 742.53 1170.22 743.2 1167.69C743.87 1165.16 744.53 1162.44 745.2 1159.47C745.87 1156.51 746.53 1153.35 747.2 1149.91C747.87 1146.47 748.53 1142.82 749.2 1138.86C749.87 1134.9 750.53 1130.69 751.2 1126.14C751.87 1121.6 752.53 1116.7 753.2 1111.6C753.87 1106.49 754.53 1100.98 755.2 1095.51C755.87 1090.04 756.53 1084.3 757.2 1078.76C757.87 1073.21 758.53 1067.61 759.2 1062.24C759.87 1056.88 760.53 1051.62 761.2 1046.54C761.87 1041.45 762.53 1036.51 763.2 1031.74C763.87 1026.97 764.53 1022.35 765.2 1017.92C765.87 1013.49 766.53 1009.22 767.2 1005.15C767.87 1001.09 768.53 997.2 769.2 993.52C769.87 989.84 770.53 986.35 771.2 983.09C771.87 979.83 772.53 976.77 773.2 973.94C773.87 971.12 774.53 968.51 775.2 966.15C775.87 963.78 776.53 961.67 777.2 959.75C777.87 957.84 778.53 956.17 779.2 954.66C779.87 953.16 780.53 951.87 781.2 950.73C781.87 949.59 782.53 948.64 783.2 947.81C783.87 946.99 784.53 946.33 785.2 945.77C785.87 945.2 786.53 944.79 787.2 944.44C787.87 944.09 788.53 943.87 789.2 943.69C789.87 943.51 790.53 943.43 791.2 943.38C791.87 943.32 792.53 943.33 793.2 943.35C793.87 943.36 794.53 943.41 795.2 943.47C795.87 943.53 796.53 943.61 797.2 943.7C797.87 943.8 798.53 943.91 799.2 944.04C799.87 944.16 800.53 944.3 801.2 944.45C801.87 944.6 802.53 944.77 803.2 944.94C803.87 945.11 804.53 945.29 805.2 945.49C805.87 945.68 806.53 945.88 807.2 946.08C807.87 946.28 808.53 946.5 809.2 946.71C809.87 946.92 810.53 947.14 811.2 947.36C811.87 947.58 812.53 947.8 813.2 948.02C813.87 948.25 814.53 948.47 815.2 948.69C815.87 948.9 816.53 949.12 817.2 949.33C817.87 949.55 818.53 949.75 819.2 949.96C819.87 950.16 820.53 950.35 821.2 950.54C821.87 950.72 822.53 950.9 823.2 951.07C823.87 951.24 824.53 951.39 825.2 951.54C825.87 951.68 826.53 951.82 827.2 951.93C827.87 952.05 828.53 952.15 829.2 952.24C829.87 952.32 830.53 952.39 831.2 952.44C831.87 952.49 832.53 952.53 833.2 952.54C833.87 952.55 834.53 952.54 835.2 952.52C835.87 952.49 836.53 952.45 837.2 952.38C837.87 952.32 838.53 952.23 839.2 952.12C839.87 952.02 840.53 951.89 841.2 951.74C841.87 951.59 842.53 951.42 843.2 951.23C843.87 951.04 844.53 950.83 845.2 950.59C845.87 950.36 846.53 950.1 847.2 949.82C847.87 949.54 848.53 949.23 849.2 948.91C849.87 948.58 850.53 948.23 851.2 947.85C851.87 947.48 852.53 947.08 853.2 946.66C853.87 946.24 854.53 945.79 855.2 945.32C855.87 944.85 856.53 944.35 857.2 943.83C857.87 943.31 858.53 942.76 859.2 942.19C859.87 941.62 860.53 941.02 861.2 940.4C861.87 939.78 862.53 939.14 863.2 938.47C863.87 937.8 864.53 937.1 865.2 936.39C865.87 935.67 866.53 934.93 867.2 934.16C867.87 933.39 868.53 932.6 869.2 931.79C869.87 930.97 870.53 930.14 871.2 929.27C871.87 928.41 872.53 927.52 873.2 926.61C873.87 925.7 874.53 924.77 875.2 923.81C875.87 922.86 876.53 921.88 877.2 920.87C877.87 919.87 878.53 918.84 879.2 917.79C879.87 916.74 880.53 915.66 881.2 914.57C881.87 913.47 882.53 912.35 883.2 911.21C883.87 910.06 884.53 908.89 885.2 907.71C885.87 906.52 886.53 905.3 887.2 904.07C887.87 902.84 888.53 901.58 889.2 900.31C889.87 899.04 890.53 897.74 891.2 896.43C891.87 895.12 892.53 893.8 893.2 892.45C893.87 891.11 894.53 889.75 895.2 888.38C895.87 887.01 896.53 885.63 897.2 884.23C897.87 882.84 898.53 881.43 899.2 880.01C899.87 878.59 900.53 877.17 901.2 875.73C901.87 874.3 902.53 872.86 903.2 871.41C903.87 869.96 904.53 868.51 905.2 867.05C905.87 865.59 906.53 864.13 907.2 862.67C907.87 861.21 908.53 859.74 909.2 858.28C909.87 856.81 910.53 855.35 911.2 853.88C911.87 852.42 912.53 850.96 913.2 849.5C913.87 848.05 914.53 846.59 915.2 845.15C915.87 843.7 916.53 842.26 917.2 840.82C917.87 839.38 918.53 837.96 919.2 836.52C919.87 835.07 920.53 833.62 921.2 832.13C921.87 830.64 922.53 829.13 923.2 827.56C923.87 825.99 924.53 824.38 925.2 822.7C925.87 821.01 926.53 819.28 927.2 817.44C927.87 815.6 928.53 813.69 929.2 811.67C929.87 809.65 930.53 807.53 931.2 805.32C931.87 803.11 932.53 800.79 933.2 798.42C933.87 796.06 934.53 793.6 935.2 791.11C935.87 788.62 936.53 786.06 937.2 783.49C937.87 780.91 938.53 778.29 939.2 775.67C939.87 773.06 940.53 770.41 941.2 767.79C941.87 765.17 942.53 762.53 943.2 759.95C943.87 757.36 944.53 754.78 945.2 752.26C945.87 749.75 946.53 747.26 947.2 744.86C947.87 742.46 948.53 740.1 949.2 737.85C949.87 735.59 950.53 733.41 951.2 731.33C951.87 729.26 952.53 727.26 953.2 725.4C953.87 723.53 954.53 721.76 955.2 720.13C955.87 718.5 956.53 716.98 957.2 715.61C957.87 714.24 958.53 713 959.2 711.92C959.87 710.85 960.53 709.91 961.2 709.16C961.87 708.4 962.53 707.8 963.2 707.39C963.87 706.98 964.53 706.75 965.2 706.71C965.87 706.67 966.53 706.83 967.2 707.14C967.87 707.46 968.53 707.97 969.2 708.62C969.87 709.27 970.53 710.09 971.2 711.04C971.87 711.99 972.53 713.1 973.2 714.31C973.87 715.53 974.53 716.88 975.2 718.35C975.87 719.81 976.53 721.39 977.2 723.08C977.87 724.77 978.53 726.57 979.2 728.48C979.87 730.38 980.53 732.39 981.2 734.5C981.87 736.6 982.53 738.81 983.2 741.11C983.87 743.4 984.53 745.79 985.2 748.27C985.87 750.74 986.53 753.31 987.2 755.93C987.87 758.56 988.53 761.28 989.2 764C989.87 766.73 990.53 769.52 991.2 772.27C991.87 775.03 992.53 777.82 993.2 780.53C993.87 783.25 994.53 785.96 995.2 788.56C995.87 791.17 996.53 793.72 997.2 796.15C997.87 798.58 998.53 800.91 999.2 803.15C999.87 805.39 1000.53 807.52 1001.2 809.58C1001.87 811.64 1002.53 813.6 1003.2 815.5C1003.87 817.4 1004.53 819.21 1005.2 820.97C1005.87 822.72 1006.53 824.4 1007.2 826.03C1007.87 827.67 1008.53 829.23 1009.2 830.76C1009.87 832.29 1010.53 833.76 1011.2 835.2C1011.87 836.64 1012.53 838.04 1013.2 839.41C1013.87 840.79 1014.53 842.12 1015.2 843.45C1015.87 844.78 1016.53 846.08 1017.2 847.38C1017.87 848.68 1018.53 849.96 1019.2 851.25C1019.87 852.54 1020.53 853.82 1021.2 855.11C1021.87 856.41 1022.53 857.71 1023.2 859.04C1023.87 860.36 1024.53 861.7 1025.2 863.07C1025.87 864.44 1026.53 865.84 1027.2 867.24C1027.87 868.65 1028.53 870.08 1029.2 871.51C1029.87 872.94 1030.53 874.38 1031.2 875.81C1031.87 877.24 1032.53 878.68 1033.2 880.09C1033.87 881.51 1034.53 882.91 1035.2 884.29C1035.87 885.67 1036.53 887.03 1037.2 888.35C1037.87 889.67 1038.53 890.96 1039.2 892.21C1039.87 893.45 1040.53 894.66 1041.2 895.82C1041.87 896.98 1042.53 898.09 1043.2 899.17C1043.87 900.25 1044.53 901.29 1045.2 902.29C1045.87 903.3 1046.53 904.26 1047.2 905.2C1047.87 906.14 1048.53 907.04 1049.2 907.92C1049.87 908.8 1050.53 909.65 1051.2 910.47C1051.87 911.3 1052.53 912.1 1053.2 912.88C1053.87 913.66 1054.53 914.41 1055.2 915.16C1055.87 915.9 1056.53 916.62 1057.2 917.33C1057.87 918.04 1058.53 918.74 1059.2 919.42C1059.87 920.11 1060.53 920.78 1061.2 921.45C1061.87 922.12 1062.53 922.78 1063.2 923.44C1063.87 924.1 1064.53 924.76 1065.2 925.42C1065.87 926.08 1066.53 926.73 1067.2 927.39C1067.87 928.06 1068.53 928.72 1069.2 929.39C1069.87 930.07 1070.53 930.75 1071.2 931.44C1071.87 932.14 1072.53 932.84 1073.2 933.56C1073.87 934.28 1074.53 935.01 1075.2 935.76C1075.87 936.51 1076.53 937.27 1077.2 938.04C1077.87 938.82 1078.53 939.6 1079.2 940.38C1079.87 941.17 1080.53 941.97 1081.2 942.76C1081.87 943.55 1082.53 944.35 1083.2 945.14C1083.87 945.93 1084.53 946.72 1085.2 947.5C1085.87 948.28 1086.53 949.06 1087.2 949.83C1087.87 950.59 1088.53 951.35 1089.2 952.09C1089.87 952.82 1090.53 953.55 1091.2 954.25C1091.87 954.96 1092.53 955.65 1093.2 956.31C1093.87 956.97 1094.53 957.62 1095.2 958.23C1095.87 958.84 1096.53 959.43 1097.2 959.98C1097.87 960.54 1098.53 961.07 1099.2 961.56C1099.87 962.06 1100.53 962.53 1101.2 962.96C1101.87 963.4 1102.53 963.81 1103.2 964.18C1103.87 964.56 1104.53 964.9 1105.2 965.21C1105.87 965.52 1106.53 965.8 1107.2 966.05C1107.87 966.3 1108.53 966.51 1109.2 966.7C1109.87 966.88 1110.53 967.03 1111.2 967.14C1111.87 967.26 1112.53 967.34 1113.2 967.39C1113.87 967.43 1114.53 967.45 1115.2 967.44C1115.87 967.42 1116.53 967.38 1117.2 967.32C1117.87 967.25 1118.53 967.16 1119.2 967.06C1119.87 966.95 1120.53 966.82 1121.2 966.69C1121.87 966.55 1122.53 966.39 1123.2 966.23C1123.87 966.07 1124.53 965.89 1125.2 965.71C1125.87 965.54 1126.53 965.35 1127.2 965.17C1127.87 964.98 1128.53 964.8 1129.2 964.62C1129.87 964.44 1130.53 964.26 1131.2 964.09C1131.87 963.92 1132.53 963.76 1133.2 963.62C1133.87 963.47 1134.53 963.33 1135.2 963.22C1135.87 963.11 1136.53 963 1137.2 962.93C1137.87 962.86 1138.53 962.8 1139.2 962.77C1139.87 962.75 1140.53 962.74 1141.2 962.78C1141.87 962.82 1142.53 962.87 1143.2 963.02C1143.87 963.16 1144.53 963.34 1145.2 963.64C1145.87 963.95 1146.53 964.31 1147.2 964.83C1147.87 965.34 1148.53 965.95 1149.2 966.73C1149.87 967.52 1150.53 968.42 1151.2 969.53C1151.87 970.64 1152.53 971.89 1153.2 973.38C1153.87 974.87 1154.53 976.53 1155.2 978.46C1155.87 980.38 1156.53 982.5 1157.2 984.92C1157.87 987.33 1158.53 989.98 1159.2 992.94C1159.87 995.9 1160.53 999.11 1161.2 1002.68C1161.87 1006.24 1162.53 1010.09 1163.2 1014.3C1163.87 1018.52 1164.53 1023.12 1165.2 1027.98C1165.87 1032.83 1166.53 1038.12 1167.2 1043.45C1167.87 1048.78 1168.53 1054.42 1169.2 1059.96C1169.87 1065.5 1170.53 1071.21 1171.2 1076.71C1171.87 1082.2 1172.53 1087.67 1173.2 1092.92C1173.87 1098.18 1174.53 1103.3 1175.2 1108.22C1175.87 1113.13 1176.53 1117.9 1177.2 1122.44C1177.87 1126.97 1178.53 1131.33 1179.2 1135.45C1179.87 1139.56 1180.53 1143.46 1181.2 1147.13C1181.87 1150.8 1182.53 1154.24 1183.2 1157.46C1183.87 1160.68 1184.53 1163.68 1185.2 1166.45C1185.87 1169.23 1186.53 1171.78 1187.2 1174.11C1187.87 1176.44 1188.53 1178.54 1189.2 1180.44C1189.87 1182.35 1190.53 1184.02 1191.2 1185.53C1191.87 1187.05 1192.53 1188.35 1193.2 1189.52C1193.87 1190.69 1194.53 1191.67 1195.2 1192.55C1195.87 1193.42 1196.53 1194.13 1197.2 1194.76C1197.87 1195.38 1198.53 1195.87 1199.2 1196.3C1199.87 1196.73 1200.53 1197.04 1201.2 1197.32C1201.87 1197.59 1202.53 1197.78 1203.2 1197.95C1203.87 1198.12 1204.53 1198.23 1205.2 1198.35C1205.87 1198.47 1206.53 1198.55 1207.2 1198.66C1207.87 1198.77 1208.53 1198.87 1209.2 1199.02C1209.87 1199.18 1210.73 1199.44 1211.2 1199.59C1211.67 1199.73 1211.87 1199.85 1212 1199.9Z" fill="#F5DEB3" stroke="#000" stroke-width="1.15" stroke-linejoin="round"/>
<path d="M251.86 1220.24V687.8" stroke="#D42020" stroke-width="1.5" stroke-dasharray="6 6"/>
<path d="M955.29 1220.24V687.8" stroke="#006400" stroke-width="1.5" stroke-dasharray="6 6"/>
<path d="M975.71 1220.24V687.8" stroke="#006400" stroke-width="1.5" stroke-dasharray="6 6"/>
<path d="M1016.9 703.4H1041.6" stroke="#006400" stroke-width="1.5" stroke-dasharray="2.2 2.27"/>
<path d="M1016.9 718.9H1041.6" stroke="#D85050" stroke-width="1.5" stroke-dasharray="2.2 2.27"/>
<circle cx="1029.1" cy="734.4" r="3" fill="#0000FF"/>
<text x="1051.3" y="707.8" class="lg">enrichment zone = 24.5</text>
<text x="1051.3" y="723.8" class="lg">motif score threshold = 88.200</text>
<text x="1051.3" y="738.9" class="lg">centrality p-val = NS</text>
</svg>
</body></html>
